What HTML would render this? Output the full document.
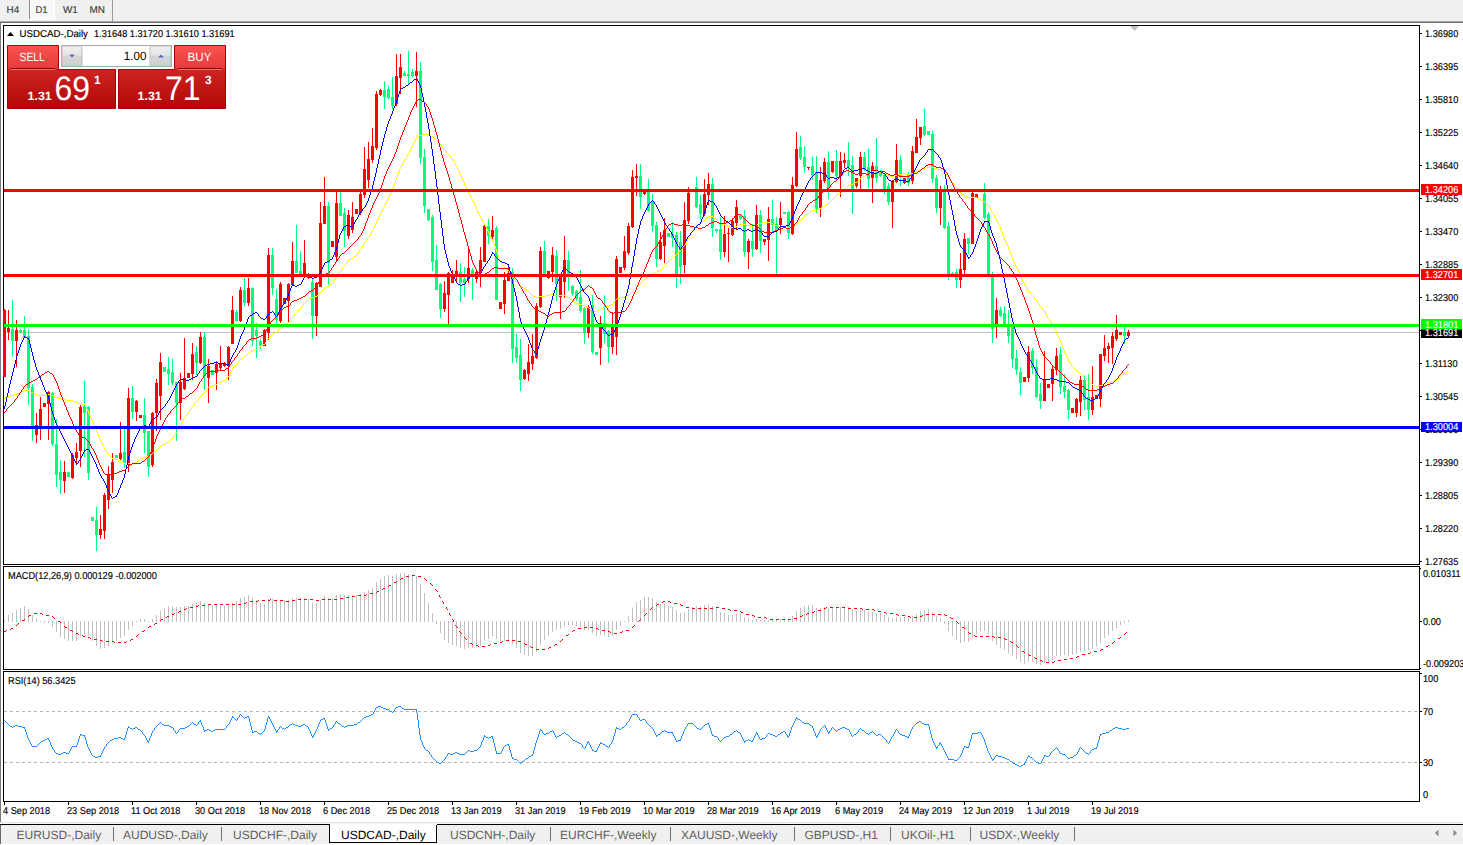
<!DOCTYPE html><html><head><meta charset="utf-8"><style>html,body{margin:0;padding:0;width:1463px;height:845px;overflow:hidden;background:#fff;position:relative}</style></head><body><svg width="1463" height="845" viewBox="0 0 1463 845" style="position:absolute;left:0;top:0" font-family="Liberation Sans, sans-serif" text-rendering="geometricPrecision">
<defs>
<pattern id="chk" width="2" height="2" patternUnits="userSpaceOnUse"><rect width="2" height="2" fill="#f4f4f4"/><rect width="1" height="1" fill="#fdfdfd"/><rect x="1" y="1" width="1" height="1" fill="#fdfdfd"/></pattern>
<linearGradient id="gtab" x1="0" y1="0" x2="0" y2="1"><stop offset="0" stop-color="#fb5252"/><stop offset="1" stop-color="#e83a3a"/></linearGradient>
<linearGradient id="gbox" x1="0" y1="0" x2="0" y2="1"><stop offset="0" stop-color="#e33333"/><stop offset="1" stop-color="#b00808"/></linearGradient>
<linearGradient id="gbtn" x1="0" y1="0" x2="0" y2="1"><stop offset="0" stop-color="#f0f0f0"/><stop offset="0.45" stop-color="#e6e6e6"/><stop offset="0.5" stop-color="#d6d6d6"/><stop offset="1" stop-color="#d0d0d0"/></linearGradient>
</defs>
<rect x="0" y="0" width="1463" height="845" fill="#ffffff"/>
<rect x="0" y="0" width="1463" height="21" fill="#f0f0f0"/>
<rect x="0" y="21" width="1463" height="1" fill="#a9a9a9"/>
<rect x="0" y="22" width="1463" height="1" fill="#6e6e6e"/>
<rect x="30" y="0" width="24" height="19" fill="url(#chk)"/>
<rect x="54" y="0" width="1" height="20" fill="#ffffff"/>
<rect x="30" y="19" width="25" height="1" fill="#ffffff"/>
<rect x="29" y="0" width="1" height="19" fill="#8a8a8a"/>
<rect x="112" y="0" width="1" height="21" fill="#9a9a9a"/>
<g shape-rendering="geometricPrecision">
<text x="6.5" y="13" font-size="10" textLength="12.66" lengthAdjust="spacingAndGlyphs" fill="#404040" stroke="#404040" stroke-width="0.15" text-anchor="start" >H4</text>
<text x="35.5" y="13" font-size="10" textLength="12.14" lengthAdjust="spacingAndGlyphs" fill="#404040" stroke="#404040" stroke-width="0.15" text-anchor="start" >D1</text>
<text x="63" y="13" font-size="10" textLength="14.85" lengthAdjust="spacingAndGlyphs" fill="#404040" stroke="#404040" stroke-width="0.15" text-anchor="start" >W1</text>
<text x="89.5" y="13" font-size="10" textLength="15.40" lengthAdjust="spacingAndGlyphs" fill="#404040" stroke="#404040" stroke-width="0.15" text-anchor="start" >MN</text>
</g>
<rect x="0" y="23" width="1" height="799" fill="#7a7a7a"/>
<g shape-rendering="crispEdges">
<rect x="3" y="25" width="1417" height="1" fill="#000"/>
<rect x="3" y="564" width="1417" height="1" fill="#000"/>
<rect x="3" y="25" width="1" height="540" fill="#000"/>
<rect x="1419" y="25" width="1" height="540" fill="#000"/>
<rect x="3" y="566" width="1417" height="1" fill="#000"/>
<rect x="3" y="669" width="1417" height="1" fill="#000"/>
<rect x="3" y="566" width="1" height="104" fill="#000"/>
<rect x="1419" y="566" width="1" height="104" fill="#000"/>
<rect x="3" y="671" width="1417" height="1" fill="#000"/>
<rect x="3" y="801" width="1417" height="1" fill="#000"/>
<rect x="3" y="671" width="1" height="131" fill="#000"/>
<rect x="1419" y="671" width="1" height="131" fill="#000"/>
<rect x="1420" y="33" width="2" height="1" fill="#000"/>
<rect x="1420" y="66" width="2" height="1" fill="#000"/>
<rect x="1420" y="99" width="2" height="1" fill="#000"/>
<rect x="1420" y="132" width="2" height="1" fill="#000"/>
<rect x="1420" y="165" width="2" height="1" fill="#000"/>
<rect x="1420" y="198" width="2" height="1" fill="#000"/>
<rect x="1420" y="231" width="2" height="1" fill="#000"/>
<rect x="1420" y="264" width="2" height="1" fill="#000"/>
<rect x="1420" y="297" width="2" height="1" fill="#000"/>
<rect x="1420" y="330" width="2" height="1" fill="#000"/>
<rect x="1420" y="363" width="2" height="1" fill="#000"/>
<rect x="1420" y="396" width="2" height="1" fill="#000"/>
<rect x="1420" y="429" width="2" height="1" fill="#000"/>
<rect x="1420" y="462" width="2" height="1" fill="#000"/>
<rect x="1420" y="495" width="2" height="1" fill="#000"/>
<rect x="1420" y="528" width="2" height="1" fill="#000"/>
<rect x="1420" y="561" width="2" height="1" fill="#000"/>
<rect x="1420" y="568" width="1" height="1" fill="#000"/>
<rect x="1420" y="621" width="2" height="1" fill="#000"/>
<rect x="1420" y="668" width="1" height="1" fill="#000"/>
<rect x="1420" y="673" width="2" height="1" fill="#000"/>
<rect x="1420" y="711" width="2" height="1" fill="#000"/>
<rect x="1420" y="762" width="2" height="1" fill="#000"/>
<rect x="4" y="802" width="1" height="3" fill="#000"/>
<rect x="68" y="802" width="1" height="3" fill="#000"/>
<rect x="132" y="802" width="1" height="3" fill="#000"/>
<rect x="196" y="802" width="1" height="3" fill="#000"/>
<rect x="260" y="802" width="1" height="3" fill="#000"/>
<rect x="324" y="802" width="1" height="3" fill="#000"/>
<rect x="388" y="802" width="1" height="3" fill="#000"/>
<rect x="452" y="802" width="1" height="3" fill="#000"/>
<rect x="516" y="802" width="1" height="3" fill="#000"/>
<rect x="580" y="802" width="1" height="3" fill="#000"/>
<rect x="644" y="802" width="1" height="3" fill="#000"/>
<rect x="708" y="802" width="1" height="3" fill="#000"/>
<rect x="772" y="802" width="1" height="3" fill="#000"/>
<rect x="836" y="802" width="1" height="3" fill="#000"/>
<rect x="900" y="802" width="1" height="3" fill="#000"/>
<rect x="964" y="802" width="1" height="3" fill="#000"/>
<rect x="1028" y="802" width="1" height="3" fill="#000"/>
<rect x="1092" y="802" width="1" height="3" fill="#000"/>
<line x1="4" y1="711.5" x2="1419" y2="711.5" stroke="#b4b4b4" stroke-width="1" stroke-dasharray="3 3"/>
<line x1="4" y1="762.5" x2="1419" y2="762.5" stroke="#b4b4b4" stroke-width="1" stroke-dasharray="3 3"/>
<rect x="4" y="332" width="1415" height="1" fill="#c0c0c0"/>
<rect x="4" y="309" width="1" height="68" fill="#ff0000"/>
<rect x="3" y="310" width="3" height="67" fill="#ff0000"/>
<rect x="8" y="310" width="1" height="30" fill="#ff0000"/>
<rect x="7" y="328" width="3" height="4" fill="#ff0000"/>
<rect x="12" y="300" width="1" height="57" fill="#00ff7f"/>
<rect x="11" y="329" width="3" height="12" fill="#00ff7f"/>
<rect x="16" y="320" width="1" height="47" fill="#ff0000"/>
<rect x="15" y="330" width="3" height="11" fill="#ff0000"/>
<rect x="20" y="329" width="1" height="4" fill="#00ff7f"/>
<rect x="19" y="330" width="3" height="3" fill="#00ff7f"/>
<rect x="24" y="316" width="1" height="22" fill="#00ff7f"/>
<rect x="23" y="330" width="3" height="8" fill="#00ff7f"/>
<rect x="28" y="329" width="1" height="76" fill="#00ff7f"/>
<rect x="27" y="336" width="3" height="52" fill="#00ff7f"/>
<rect x="32" y="384" width="1" height="57" fill="#00ff7f"/>
<rect x="31" y="387" width="3" height="39" fill="#00ff7f"/>
<rect x="36" y="413" width="1" height="30" fill="#ff0000"/>
<rect x="35" y="425" width="3" height="10" fill="#ff0000"/>
<rect x="40" y="397" width="1" height="43" fill="#ff0000"/>
<rect x="39" y="409" width="3" height="17" fill="#ff0000"/>
<rect x="44" y="403" width="1" height="4" fill="#ff0000"/>
<rect x="43" y="403" width="3" height="4" fill="#ff0000"/>
<rect x="48" y="391" width="1" height="49" fill="#ff0000"/>
<rect x="47" y="392" width="3" height="12" fill="#ff0000"/>
<rect x="52" y="392" width="1" height="54" fill="#00ff7f"/>
<rect x="51" y="393" width="3" height="51" fill="#00ff7f"/>
<rect x="56" y="419" width="1" height="68" fill="#00ff7f"/>
<rect x="55" y="444" width="3" height="31" fill="#00ff7f"/>
<rect x="60" y="460" width="1" height="34" fill="#00ff7f"/>
<rect x="59" y="472" width="3" height="8" fill="#00ff7f"/>
<rect x="64" y="461" width="1" height="32" fill="#ff0000"/>
<rect x="63" y="472" width="3" height="9" fill="#ff0000"/>
<rect x="68" y="472" width="1" height="5" fill="#00ff7f"/>
<rect x="67" y="472" width="3" height="5" fill="#00ff7f"/>
<rect x="72" y="453" width="1" height="26" fill="#ff0000"/>
<rect x="71" y="455" width="3" height="23" fill="#ff0000"/>
<rect x="76" y="443" width="1" height="22" fill="#ff0000"/>
<rect x="75" y="452" width="3" height="6" fill="#ff0000"/>
<rect x="80" y="405" width="1" height="62" fill="#ff0000"/>
<rect x="79" y="407" width="3" height="44" fill="#ff0000"/>
<rect x="84" y="381" width="1" height="76" fill="#00ff7f"/>
<rect x="83" y="406" width="3" height="7" fill="#00ff7f"/>
<rect x="88" y="406" width="1" height="74" fill="#00ff7f"/>
<rect x="87" y="407" width="3" height="66" fill="#00ff7f"/>
<rect x="92" y="517" width="1" height="4" fill="#00ff7f"/>
<rect x="91" y="517" width="3" height="4" fill="#00ff7f"/>
<rect x="96" y="507" width="1" height="44" fill="#00ff7f"/>
<rect x="95" y="520" width="3" height="15" fill="#00ff7f"/>
<rect x="100" y="515" width="1" height="24" fill="#ff0000"/>
<rect x="99" y="529" width="3" height="6" fill="#ff0000"/>
<rect x="104" y="493" width="1" height="46" fill="#ff0000"/>
<rect x="103" y="495" width="3" height="36" fill="#ff0000"/>
<rect x="108" y="466" width="1" height="43" fill="#ff0000"/>
<rect x="107" y="474" width="3" height="26" fill="#ff0000"/>
<rect x="112" y="453" width="1" height="40" fill="#ff0000"/>
<rect x="111" y="462" width="3" height="18" fill="#ff0000"/>
<rect x="116" y="455" width="1" height="3" fill="#00ff7f"/>
<rect x="115" y="455" width="3" height="3" fill="#00ff7f"/>
<rect x="120" y="422" width="1" height="38" fill="#ff0000"/>
<rect x="119" y="453" width="3" height="6" fill="#ff0000"/>
<rect x="124" y="428" width="1" height="40" fill="#00ff7f"/>
<rect x="123" y="452" width="3" height="11" fill="#00ff7f"/>
<rect x="128" y="388" width="1" height="84" fill="#ff0000"/>
<rect x="127" y="398" width="3" height="67" fill="#ff0000"/>
<rect x="132" y="386" width="1" height="33" fill="#00ff7f"/>
<rect x="131" y="398" width="3" height="14" fill="#00ff7f"/>
<rect x="136" y="400" width="1" height="21" fill="#ff0000"/>
<rect x="135" y="401" width="3" height="11" fill="#ff0000"/>
<rect x="140" y="415" width="1" height="3" fill="#ff0000"/>
<rect x="139" y="415" width="3" height="3" fill="#ff0000"/>
<rect x="144" y="398" width="1" height="55" fill="#00ff7f"/>
<rect x="143" y="415" width="3" height="18" fill="#00ff7f"/>
<rect x="148" y="431" width="1" height="46" fill="#00ff7f"/>
<rect x="147" y="431" width="3" height="36" fill="#00ff7f"/>
<rect x="152" y="412" width="1" height="55" fill="#ff0000"/>
<rect x="151" y="413" width="3" height="52" fill="#ff0000"/>
<rect x="156" y="379" width="1" height="52" fill="#ff0000"/>
<rect x="155" y="383" width="3" height="30" fill="#ff0000"/>
<rect x="160" y="353" width="1" height="67" fill="#ff0000"/>
<rect x="159" y="362" width="3" height="34" fill="#ff0000"/>
<rect x="164" y="367" width="1" height="5" fill="#00ff7f"/>
<rect x="163" y="367" width="3" height="5" fill="#00ff7f"/>
<rect x="168" y="357" width="1" height="28" fill="#00ff7f"/>
<rect x="167" y="369" width="3" height="5" fill="#00ff7f"/>
<rect x="172" y="359" width="1" height="26" fill="#00ff7f"/>
<rect x="171" y="372" width="3" height="11" fill="#00ff7f"/>
<rect x="176" y="382" width="1" height="59" fill="#00ff7f"/>
<rect x="175" y="382" width="3" height="21" fill="#00ff7f"/>
<rect x="180" y="373" width="1" height="47" fill="#ff0000"/>
<rect x="179" y="382" width="3" height="21" fill="#ff0000"/>
<rect x="184" y="338" width="1" height="52" fill="#ff0000"/>
<rect x="183" y="378" width="3" height="11" fill="#ff0000"/>
<rect x="188" y="373" width="1" height="5" fill="#ff0000"/>
<rect x="187" y="373" width="3" height="5" fill="#ff0000"/>
<rect x="192" y="343" width="1" height="37" fill="#ff0000"/>
<rect x="191" y="354" width="3" height="20" fill="#ff0000"/>
<rect x="196" y="346" width="1" height="29" fill="#00ff7f"/>
<rect x="195" y="352" width="3" height="11" fill="#00ff7f"/>
<rect x="200" y="332" width="1" height="32" fill="#ff0000"/>
<rect x="199" y="337" width="3" height="26" fill="#ff0000"/>
<rect x="204" y="332" width="1" height="58" fill="#00ff7f"/>
<rect x="203" y="337" width="3" height="39" fill="#00ff7f"/>
<rect x="208" y="359" width="1" height="44" fill="#ff0000"/>
<rect x="207" y="366" width="3" height="12" fill="#ff0000"/>
<rect x="212" y="370" width="1" height="5" fill="#00ff7f"/>
<rect x="211" y="370" width="3" height="5" fill="#00ff7f"/>
<rect x="216" y="361" width="1" height="29" fill="#ff0000"/>
<rect x="215" y="364" width="3" height="9" fill="#ff0000"/>
<rect x="220" y="346" width="1" height="24" fill="#ff0000"/>
<rect x="219" y="363" width="3" height="5" fill="#ff0000"/>
<rect x="224" y="362" width="1" height="5" fill="#ff0000"/>
<rect x="223" y="363" width="3" height="3" fill="#ff0000"/>
<rect x="228" y="346" width="1" height="34" fill="#ff0000"/>
<rect x="227" y="347" width="3" height="18" fill="#ff0000"/>
<rect x="232" y="296" width="1" height="48" fill="#ff0000"/>
<rect x="231" y="310" width="3" height="34" fill="#ff0000"/>
<rect x="236" y="310" width="1" height="12" fill="#00ff7f"/>
<rect x="235" y="312" width="3" height="9" fill="#00ff7f"/>
<rect x="240" y="287" width="1" height="35" fill="#ff0000"/>
<rect x="239" y="290" width="3" height="31" fill="#ff0000"/>
<rect x="244" y="278" width="1" height="28" fill="#00ff7f"/>
<rect x="243" y="290" width="3" height="13" fill="#00ff7f"/>
<rect x="248" y="278" width="1" height="28" fill="#ff0000"/>
<rect x="247" y="288" width="3" height="15" fill="#ff0000"/>
<rect x="252" y="287" width="1" height="59" fill="#00ff7f"/>
<rect x="251" y="288" width="3" height="53" fill="#00ff7f"/>
<rect x="256" y="323" width="1" height="35" fill="#00ff7f"/>
<rect x="255" y="330" width="3" height="6" fill="#00ff7f"/>
<rect x="260" y="339" width="1" height="10" fill="#00ff7f"/>
<rect x="259" y="341" width="3" height="5" fill="#00ff7f"/>
<rect x="264" y="329" width="1" height="17" fill="#ff0000"/>
<rect x="263" y="330" width="3" height="16" fill="#ff0000"/>
<rect x="268" y="248" width="1" height="92" fill="#ff0000"/>
<rect x="267" y="255" width="3" height="78" fill="#ff0000"/>
<rect x="272" y="248" width="1" height="47" fill="#00ff7f"/>
<rect x="271" y="255" width="3" height="33" fill="#00ff7f"/>
<rect x="276" y="289" width="1" height="34" fill="#00ff7f"/>
<rect x="275" y="299" width="3" height="21" fill="#00ff7f"/>
<rect x="280" y="282" width="1" height="41" fill="#ff0000"/>
<rect x="279" y="284" width="3" height="37" fill="#ff0000"/>
<rect x="284" y="298" width="1" height="6" fill="#ff0000"/>
<rect x="283" y="298" width="3" height="6" fill="#ff0000"/>
<rect x="288" y="283" width="1" height="40" fill="#ff0000"/>
<rect x="287" y="284" width="3" height="17" fill="#ff0000"/>
<rect x="292" y="242" width="1" height="43" fill="#ff0000"/>
<rect x="291" y="261" width="3" height="24" fill="#ff0000"/>
<rect x="296" y="225" width="1" height="48" fill="#00ff7f"/>
<rect x="295" y="261" width="3" height="12" fill="#00ff7f"/>
<rect x="300" y="251" width="1" height="23" fill="#00ff7f"/>
<rect x="299" y="271" width="3" height="3" fill="#00ff7f"/>
<rect x="304" y="240" width="1" height="34" fill="#ff0000"/>
<rect x="303" y="263" width="3" height="11" fill="#ff0000"/>
<rect x="308" y="273" width="1" height="6" fill="#ff0000"/>
<rect x="307" y="275" width="3" height="3" fill="#ff0000"/>
<rect x="312" y="279" width="1" height="60" fill="#00ff7f"/>
<rect x="311" y="282" width="3" height="34" fill="#00ff7f"/>
<rect x="316" y="282" width="1" height="54" fill="#ff0000"/>
<rect x="315" y="283" width="3" height="33" fill="#ff0000"/>
<rect x="320" y="202" width="1" height="85" fill="#ff0000"/>
<rect x="319" y="223" width="3" height="64" fill="#ff0000"/>
<rect x="324" y="177" width="1" height="47" fill="#ff0000"/>
<rect x="323" y="206" width="3" height="18" fill="#ff0000"/>
<rect x="328" y="202" width="1" height="83" fill="#00ff7f"/>
<rect x="327" y="206" width="3" height="57" fill="#00ff7f"/>
<rect x="332" y="241" width="1" height="6" fill="#ff0000"/>
<rect x="331" y="241" width="3" height="6" fill="#ff0000"/>
<rect x="336" y="192" width="1" height="69" fill="#ff0000"/>
<rect x="335" y="203" width="3" height="54" fill="#ff0000"/>
<rect x="340" y="189" width="1" height="27" fill="#00ff7f"/>
<rect x="339" y="203" width="3" height="13" fill="#00ff7f"/>
<rect x="344" y="208" width="1" height="39" fill="#00ff7f"/>
<rect x="343" y="213" width="3" height="18" fill="#00ff7f"/>
<rect x="348" y="210" width="1" height="29" fill="#ff0000"/>
<rect x="347" y="215" width="3" height="21" fill="#ff0000"/>
<rect x="352" y="202" width="1" height="31" fill="#ff0000"/>
<rect x="351" y="217" width="3" height="13" fill="#ff0000"/>
<rect x="356" y="209" width="1" height="5" fill="#ff0000"/>
<rect x="355" y="209" width="3" height="5" fill="#ff0000"/>
<rect x="360" y="192" width="1" height="23" fill="#ff0000"/>
<rect x="359" y="194" width="3" height="19" fill="#ff0000"/>
<rect x="364" y="147" width="1" height="51" fill="#ff0000"/>
<rect x="363" y="169" width="3" height="26" fill="#ff0000"/>
<rect x="368" y="142" width="1" height="46" fill="#ff0000"/>
<rect x="367" y="159" width="3" height="21" fill="#ff0000"/>
<rect x="372" y="128" width="1" height="35" fill="#ff0000"/>
<rect x="371" y="146" width="3" height="14" fill="#ff0000"/>
<rect x="376" y="91" width="1" height="59" fill="#ff0000"/>
<rect x="375" y="94" width="3" height="54" fill="#ff0000"/>
<rect x="380" y="89" width="1" height="7" fill="#ff0000"/>
<rect x="379" y="90" width="3" height="5" fill="#ff0000"/>
<rect x="384" y="81" width="1" height="28" fill="#00ff7f"/>
<rect x="383" y="90" width="3" height="7" fill="#00ff7f"/>
<rect x="388" y="86" width="1" height="13" fill="#00ff7f"/>
<rect x="387" y="89" width="3" height="9" fill="#00ff7f"/>
<rect x="392" y="77" width="1" height="32" fill="#00ff7f"/>
<rect x="391" y="97" width="3" height="9" fill="#00ff7f"/>
<rect x="396" y="54" width="1" height="52" fill="#ff0000"/>
<rect x="395" y="76" width="3" height="28" fill="#ff0000"/>
<rect x="400" y="54" width="1" height="40" fill="#ff0000"/>
<rect x="399" y="67" width="3" height="11" fill="#ff0000"/>
<rect x="404" y="71" width="1" height="5" fill="#00ff7f"/>
<rect x="403" y="73" width="3" height="3" fill="#00ff7f"/>
<rect x="408" y="51" width="1" height="33" fill="#00ff7f"/>
<rect x="407" y="74" width="3" height="2" fill="#00ff7f"/>
<rect x="412" y="69" width="1" height="8" fill="#00ff7f"/>
<rect x="411" y="72" width="3" height="4" fill="#00ff7f"/>
<rect x="416" y="52" width="1" height="55" fill="#ff0000"/>
<rect x="415" y="71" width="3" height="5" fill="#ff0000"/>
<rect x="420" y="62" width="1" height="102" fill="#00ff7f"/>
<rect x="419" y="71" width="3" height="87" fill="#00ff7f"/>
<rect x="424" y="149" width="1" height="64" fill="#00ff7f"/>
<rect x="423" y="157" width="3" height="49" fill="#00ff7f"/>
<rect x="428" y="209" width="1" height="12" fill="#00ff7f"/>
<rect x="427" y="209" width="3" height="11" fill="#00ff7f"/>
<rect x="432" y="215" width="1" height="56" fill="#00ff7f"/>
<rect x="431" y="217" width="3" height="45" fill="#00ff7f"/>
<rect x="436" y="245" width="1" height="45" fill="#00ff7f"/>
<rect x="435" y="260" width="3" height="30" fill="#00ff7f"/>
<rect x="440" y="283" width="1" height="35" fill="#00ff7f"/>
<rect x="439" y="284" width="3" height="25" fill="#00ff7f"/>
<rect x="444" y="281" width="1" height="31" fill="#ff0000"/>
<rect x="443" y="293" width="3" height="16" fill="#ff0000"/>
<rect x="448" y="272" width="1" height="52" fill="#ff0000"/>
<rect x="447" y="273" width="3" height="22" fill="#ff0000"/>
<rect x="452" y="270" width="1" height="13" fill="#ff0000"/>
<rect x="451" y="276" width="3" height="7" fill="#ff0000"/>
<rect x="456" y="260" width="1" height="23" fill="#ff0000"/>
<rect x="455" y="271" width="3" height="6" fill="#ff0000"/>
<rect x="460" y="263" width="1" height="39" fill="#00ff7f"/>
<rect x="459" y="272" width="3" height="11" fill="#00ff7f"/>
<rect x="464" y="267" width="1" height="30" fill="#00ff7f"/>
<rect x="463" y="279" width="3" height="4" fill="#00ff7f"/>
<rect x="468" y="248" width="1" height="35" fill="#ff0000"/>
<rect x="467" y="268" width="3" height="11" fill="#ff0000"/>
<rect x="472" y="268" width="1" height="32" fill="#00ff7f"/>
<rect x="471" y="270" width="3" height="6" fill="#00ff7f"/>
<rect x="476" y="271" width="1" height="12" fill="#ff0000"/>
<rect x="475" y="272" width="3" height="7" fill="#ff0000"/>
<rect x="480" y="247" width="1" height="40" fill="#ff0000"/>
<rect x="479" y="260" width="3" height="13" fill="#ff0000"/>
<rect x="484" y="225" width="1" height="37" fill="#ff0000"/>
<rect x="483" y="226" width="3" height="36" fill="#ff0000"/>
<rect x="488" y="219" width="1" height="25" fill="#00ff7f"/>
<rect x="487" y="226" width="3" height="10" fill="#00ff7f"/>
<rect x="492" y="216" width="1" height="23" fill="#ff0000"/>
<rect x="491" y="230" width="3" height="7" fill="#ff0000"/>
<rect x="496" y="226" width="1" height="74" fill="#00ff7f"/>
<rect x="495" y="228" width="3" height="72" fill="#00ff7f"/>
<rect x="500" y="302" width="1" height="7" fill="#ff0000"/>
<rect x="499" y="302" width="3" height="7" fill="#ff0000"/>
<rect x="504" y="272" width="1" height="42" fill="#ff0000"/>
<rect x="503" y="280" width="3" height="24" fill="#ff0000"/>
<rect x="508" y="267" width="1" height="14" fill="#ff0000"/>
<rect x="507" y="273" width="3" height="8" fill="#ff0000"/>
<rect x="512" y="268" width="1" height="95" fill="#00ff7f"/>
<rect x="511" y="272" width="3" height="77" fill="#00ff7f"/>
<rect x="516" y="334" width="1" height="29" fill="#00ff7f"/>
<rect x="515" y="347" width="3" height="11" fill="#00ff7f"/>
<rect x="520" y="339" width="1" height="52" fill="#00ff7f"/>
<rect x="519" y="355" width="3" height="25" fill="#00ff7f"/>
<rect x="524" y="369" width="1" height="11" fill="#ff0000"/>
<rect x="523" y="370" width="3" height="9" fill="#ff0000"/>
<rect x="528" y="344" width="1" height="37" fill="#ff0000"/>
<rect x="527" y="362" width="3" height="12" fill="#ff0000"/>
<rect x="532" y="334" width="1" height="36" fill="#ff0000"/>
<rect x="531" y="356" width="3" height="8" fill="#ff0000"/>
<rect x="536" y="303" width="1" height="56" fill="#ff0000"/>
<rect x="535" y="306" width="3" height="52" fill="#ff0000"/>
<rect x="540" y="247" width="1" height="61" fill="#ff0000"/>
<rect x="539" y="251" width="3" height="56" fill="#ff0000"/>
<rect x="544" y="241" width="1" height="36" fill="#00ff7f"/>
<rect x="543" y="251" width="3" height="25" fill="#00ff7f"/>
<rect x="548" y="271" width="1" height="8" fill="#ff0000"/>
<rect x="547" y="271" width="3" height="7" fill="#ff0000"/>
<rect x="552" y="247" width="1" height="35" fill="#ff0000"/>
<rect x="551" y="255" width="3" height="17" fill="#ff0000"/>
<rect x="556" y="250" width="1" height="51" fill="#00ff7f"/>
<rect x="555" y="256" width="3" height="28" fill="#00ff7f"/>
<rect x="560" y="277" width="1" height="42" fill="#ff0000"/>
<rect x="559" y="277" width="3" height="20" fill="#ff0000"/>
<rect x="564" y="236" width="1" height="62" fill="#ff0000"/>
<rect x="563" y="260" width="3" height="22" fill="#ff0000"/>
<rect x="568" y="251" width="1" height="40" fill="#00ff7f"/>
<rect x="567" y="260" width="3" height="16" fill="#00ff7f"/>
<rect x="572" y="285" width="1" height="11" fill="#00ff7f"/>
<rect x="571" y="286" width="3" height="8" fill="#00ff7f"/>
<rect x="576" y="290" width="1" height="11" fill="#00ff7f"/>
<rect x="575" y="291" width="3" height="8" fill="#00ff7f"/>
<rect x="580" y="270" width="1" height="43" fill="#00ff7f"/>
<rect x="579" y="297" width="3" height="14" fill="#00ff7f"/>
<rect x="584" y="307" width="1" height="37" fill="#00ff7f"/>
<rect x="583" y="308" width="3" height="25" fill="#00ff7f"/>
<rect x="588" y="305" width="1" height="33" fill="#ff0000"/>
<rect x="587" y="307" width="3" height="26" fill="#ff0000"/>
<rect x="592" y="295" width="1" height="59" fill="#00ff7f"/>
<rect x="591" y="305" width="3" height="47" fill="#00ff7f"/>
<rect x="596" y="352" width="1" height="3" fill="#00ff7f"/>
<rect x="595" y="352" width="3" height="3" fill="#00ff7f"/>
<rect x="600" y="316" width="1" height="49" fill="#ff0000"/>
<rect x="599" y="323" width="3" height="25" fill="#ff0000"/>
<rect x="604" y="295" width="1" height="48" fill="#00ff7f"/>
<rect x="603" y="323" width="3" height="11" fill="#00ff7f"/>
<rect x="608" y="330" width="1" height="33" fill="#00ff7f"/>
<rect x="607" y="331" width="3" height="16" fill="#00ff7f"/>
<rect x="612" y="312" width="1" height="42" fill="#ff0000"/>
<rect x="611" y="325" width="3" height="22" fill="#ff0000"/>
<rect x="616" y="256" width="1" height="99" fill="#ff0000"/>
<rect x="615" y="259" width="3" height="78" fill="#ff0000"/>
<rect x="620" y="267" width="1" height="6" fill="#ff0000"/>
<rect x="619" y="267" width="3" height="6" fill="#ff0000"/>
<rect x="624" y="236" width="1" height="34" fill="#ff0000"/>
<rect x="623" y="251" width="3" height="17" fill="#ff0000"/>
<rect x="628" y="223" width="1" height="32" fill="#ff0000"/>
<rect x="627" y="226" width="3" height="27" fill="#ff0000"/>
<rect x="632" y="170" width="1" height="58" fill="#ff0000"/>
<rect x="631" y="177" width="3" height="50" fill="#ff0000"/>
<rect x="636" y="164" width="1" height="32" fill="#ff0000"/>
<rect x="635" y="176" width="3" height="2" fill="#ff0000"/>
<rect x="640" y="164" width="1" height="45" fill="#00ff7f"/>
<rect x="639" y="176" width="3" height="21" fill="#00ff7f"/>
<rect x="644" y="189" width="1" height="6" fill="#ff0000"/>
<rect x="643" y="192" width="3" height="2" fill="#ff0000"/>
<rect x="648" y="179" width="1" height="33" fill="#00ff7f"/>
<rect x="647" y="192" width="3" height="19" fill="#00ff7f"/>
<rect x="652" y="194" width="1" height="38" fill="#00ff7f"/>
<rect x="651" y="201" width="3" height="25" fill="#00ff7f"/>
<rect x="656" y="222" width="1" height="45" fill="#00ff7f"/>
<rect x="655" y="225" width="3" height="34" fill="#00ff7f"/>
<rect x="660" y="232" width="1" height="28" fill="#ff0000"/>
<rect x="659" y="242" width="3" height="17" fill="#ff0000"/>
<rect x="664" y="218" width="1" height="45" fill="#ff0000"/>
<rect x="663" y="230" width="3" height="16" fill="#ff0000"/>
<rect x="668" y="233" width="1" height="4" fill="#00ff7f"/>
<rect x="667" y="233" width="3" height="4" fill="#00ff7f"/>
<rect x="672" y="222" width="1" height="25" fill="#00ff7f"/>
<rect x="671" y="234" width="3" height="4" fill="#00ff7f"/>
<rect x="676" y="232" width="1" height="56" fill="#00ff7f"/>
<rect x="675" y="235" width="3" height="39" fill="#00ff7f"/>
<rect x="680" y="231" width="1" height="53" fill="#00ff7f"/>
<rect x="679" y="242" width="3" height="25" fill="#00ff7f"/>
<rect x="684" y="202" width="1" height="71" fill="#ff0000"/>
<rect x="683" y="220" width="3" height="45" fill="#ff0000"/>
<rect x="688" y="187" width="1" height="37" fill="#ff0000"/>
<rect x="687" y="193" width="3" height="28" fill="#ff0000"/>
<rect x="692" y="189" width="1" height="3" fill="#ff0000"/>
<rect x="691" y="190" width="3" height="1" fill="#ff0000"/>
<rect x="696" y="177" width="1" height="31" fill="#00ff7f"/>
<rect x="695" y="187" width="3" height="20" fill="#00ff7f"/>
<rect x="700" y="195" width="1" height="24" fill="#00ff7f"/>
<rect x="699" y="204" width="3" height="10" fill="#00ff7f"/>
<rect x="704" y="179" width="1" height="37" fill="#ff0000"/>
<rect x="703" y="194" width="3" height="20" fill="#ff0000"/>
<rect x="708" y="173" width="1" height="32" fill="#ff0000"/>
<rect x="707" y="184" width="3" height="11" fill="#ff0000"/>
<rect x="712" y="178" width="1" height="59" fill="#00ff7f"/>
<rect x="711" y="184" width="3" height="44" fill="#00ff7f"/>
<rect x="716" y="229" width="1" height="4" fill="#00ff7f"/>
<rect x="715" y="229" width="3" height="2" fill="#00ff7f"/>
<rect x="720" y="217" width="1" height="43" fill="#00ff7f"/>
<rect x="719" y="229" width="3" height="23" fill="#00ff7f"/>
<rect x="724" y="216" width="1" height="41" fill="#ff0000"/>
<rect x="723" y="234" width="3" height="18" fill="#ff0000"/>
<rect x="728" y="228" width="1" height="34" fill="#ff0000"/>
<rect x="727" y="233" width="3" height="1" fill="#ff0000"/>
<rect x="732" y="218" width="1" height="18" fill="#ff0000"/>
<rect x="731" y="221" width="3" height="14" fill="#ff0000"/>
<rect x="736" y="200" width="1" height="30" fill="#ff0000"/>
<rect x="735" y="207" width="3" height="16" fill="#ff0000"/>
<rect x="740" y="215" width="1" height="5" fill="#00ff7f"/>
<rect x="739" y="216" width="3" height="3" fill="#00ff7f"/>
<rect x="744" y="210" width="1" height="47" fill="#00ff7f"/>
<rect x="743" y="216" width="3" height="36" fill="#00ff7f"/>
<rect x="748" y="239" width="1" height="30" fill="#ff0000"/>
<rect x="747" y="241" width="3" height="11" fill="#ff0000"/>
<rect x="752" y="224" width="1" height="33" fill="#00ff7f"/>
<rect x="751" y="241" width="3" height="8" fill="#00ff7f"/>
<rect x="756" y="205" width="1" height="45" fill="#ff0000"/>
<rect x="755" y="215" width="3" height="34" fill="#ff0000"/>
<rect x="760" y="210" width="1" height="43" fill="#00ff7f"/>
<rect x="759" y="215" width="3" height="26" fill="#00ff7f"/>
<rect x="764" y="239" width="1" height="6" fill="#ff0000"/>
<rect x="763" y="239" width="3" height="3" fill="#ff0000"/>
<rect x="768" y="207" width="1" height="54" fill="#ff0000"/>
<rect x="767" y="219" width="3" height="21" fill="#ff0000"/>
<rect x="772" y="200" width="1" height="32" fill="#00ff7f"/>
<rect x="771" y="219" width="3" height="6" fill="#00ff7f"/>
<rect x="776" y="217" width="1" height="58" fill="#00ff7f"/>
<rect x="775" y="224" width="3" height="6" fill="#00ff7f"/>
<rect x="780" y="202" width="1" height="32" fill="#ff0000"/>
<rect x="779" y="218" width="3" height="7" fill="#ff0000"/>
<rect x="784" y="212" width="1" height="2" fill="#00ff7f"/>
<rect x="783" y="212" width="3" height="2" fill="#00ff7f"/>
<rect x="788" y="211" width="1" height="28" fill="#00ff7f"/>
<rect x="787" y="212" width="3" height="21" fill="#00ff7f"/>
<rect x="792" y="177" width="1" height="58" fill="#ff0000"/>
<rect x="791" y="185" width="3" height="49" fill="#ff0000"/>
<rect x="796" y="132" width="1" height="55" fill="#ff0000"/>
<rect x="795" y="149" width="3" height="37" fill="#ff0000"/>
<rect x="800" y="136" width="1" height="24" fill="#00ff7f"/>
<rect x="799" y="147" width="3" height="11" fill="#00ff7f"/>
<rect x="804" y="146" width="1" height="27" fill="#00ff7f"/>
<rect x="803" y="157" width="3" height="10" fill="#00ff7f"/>
<rect x="808" y="167" width="1" height="3" fill="#ff0000"/>
<rect x="807" y="167" width="3" height="1" fill="#ff0000"/>
<rect x="812" y="157" width="1" height="23" fill="#00ff7f"/>
<rect x="811" y="166" width="3" height="9" fill="#00ff7f"/>
<rect x="816" y="156" width="1" height="57" fill="#00ff7f"/>
<rect x="815" y="172" width="3" height="37" fill="#00ff7f"/>
<rect x="820" y="167" width="1" height="50" fill="#ff0000"/>
<rect x="819" y="180" width="3" height="28" fill="#ff0000"/>
<rect x="824" y="158" width="1" height="25" fill="#ff0000"/>
<rect x="823" y="162" width="3" height="19" fill="#ff0000"/>
<rect x="828" y="151" width="1" height="48" fill="#00ff7f"/>
<rect x="827" y="162" width="3" height="26" fill="#00ff7f"/>
<rect x="832" y="161" width="1" height="12" fill="#ff0000"/>
<rect x="831" y="161" width="3" height="11" fill="#ff0000"/>
<rect x="836" y="150" width="1" height="31" fill="#00ff7f"/>
<rect x="835" y="161" width="3" height="15" fill="#00ff7f"/>
<rect x="840" y="152" width="1" height="45" fill="#ff0000"/>
<rect x="839" y="161" width="3" height="15" fill="#ff0000"/>
<rect x="844" y="153" width="1" height="15" fill="#ff0000"/>
<rect x="843" y="160" width="3" height="3" fill="#ff0000"/>
<rect x="848" y="142" width="1" height="34" fill="#00ff7f"/>
<rect x="847" y="160" width="3" height="7" fill="#00ff7f"/>
<rect x="852" y="156" width="1" height="58" fill="#00ff7f"/>
<rect x="851" y="165" width="3" height="24" fill="#00ff7f"/>
<rect x="856" y="178" width="1" height="10" fill="#ff0000"/>
<rect x="855" y="178" width="3" height="8" fill="#ff0000"/>
<rect x="860" y="152" width="1" height="38" fill="#ff0000"/>
<rect x="859" y="157" width="3" height="19" fill="#ff0000"/>
<rect x="864" y="152" width="1" height="19" fill="#00ff7f"/>
<rect x="863" y="157" width="3" height="12" fill="#00ff7f"/>
<rect x="868" y="149" width="1" height="39" fill="#00ff7f"/>
<rect x="867" y="167" width="3" height="12" fill="#00ff7f"/>
<rect x="872" y="162" width="1" height="41" fill="#ff0000"/>
<rect x="871" y="166" width="3" height="12" fill="#ff0000"/>
<rect x="876" y="138" width="1" height="45" fill="#00ff7f"/>
<rect x="875" y="166" width="3" height="12" fill="#00ff7f"/>
<rect x="880" y="170" width="1" height="7" fill="#00ff7f"/>
<rect x="879" y="171" width="3" height="5" fill="#00ff7f"/>
<rect x="884" y="174" width="1" height="20" fill="#00ff7f"/>
<rect x="883" y="175" width="3" height="14" fill="#00ff7f"/>
<rect x="888" y="183" width="1" height="22" fill="#00ff7f"/>
<rect x="887" y="186" width="3" height="16" fill="#00ff7f"/>
<rect x="892" y="180" width="1" height="48" fill="#ff0000"/>
<rect x="891" y="181" width="3" height="21" fill="#ff0000"/>
<rect x="896" y="144" width="1" height="39" fill="#ff0000"/>
<rect x="895" y="160" width="3" height="22" fill="#ff0000"/>
<rect x="900" y="155" width="1" height="31" fill="#00ff7f"/>
<rect x="899" y="160" width="3" height="16" fill="#00ff7f"/>
<rect x="904" y="178" width="1" height="6" fill="#ff0000"/>
<rect x="903" y="178" width="3" height="5" fill="#ff0000"/>
<rect x="908" y="172" width="1" height="14" fill="#00ff7f"/>
<rect x="907" y="175" width="3" height="8" fill="#00ff7f"/>
<rect x="912" y="146" width="1" height="38" fill="#ff0000"/>
<rect x="911" y="151" width="3" height="30" fill="#ff0000"/>
<rect x="916" y="119" width="1" height="34" fill="#ff0000"/>
<rect x="915" y="137" width="3" height="16" fill="#ff0000"/>
<rect x="920" y="127" width="1" height="18" fill="#ff0000"/>
<rect x="919" y="127" width="3" height="11" fill="#ff0000"/>
<rect x="924" y="109" width="1" height="27" fill="#00ff7f"/>
<rect x="923" y="126" width="3" height="9" fill="#00ff7f"/>
<rect x="928" y="131" width="1" height="4" fill="#00ff7f"/>
<rect x="927" y="131" width="3" height="4" fill="#00ff7f"/>
<rect x="932" y="131" width="1" height="52" fill="#00ff7f"/>
<rect x="931" y="134" width="3" height="45" fill="#00ff7f"/>
<rect x="936" y="175" width="1" height="38" fill="#00ff7f"/>
<rect x="935" y="178" width="3" height="30" fill="#00ff7f"/>
<rect x="940" y="186" width="1" height="39" fill="#ff0000"/>
<rect x="939" y="190" width="3" height="18" fill="#ff0000"/>
<rect x="944" y="185" width="1" height="44" fill="#00ff7f"/>
<rect x="943" y="191" width="3" height="37" fill="#00ff7f"/>
<rect x="948" y="222" width="1" height="58" fill="#00ff7f"/>
<rect x="947" y="226" width="3" height="49" fill="#00ff7f"/>
<rect x="952" y="272" width="1" height="5" fill="#00ff7f"/>
<rect x="951" y="273" width="3" height="3" fill="#00ff7f"/>
<rect x="956" y="269" width="1" height="19" fill="#00ff7f"/>
<rect x="955" y="272" width="3" height="8" fill="#00ff7f"/>
<rect x="960" y="253" width="1" height="35" fill="#ff0000"/>
<rect x="959" y="269" width="3" height="11" fill="#ff0000"/>
<rect x="964" y="233" width="1" height="42" fill="#ff0000"/>
<rect x="963" y="239" width="3" height="31" fill="#ff0000"/>
<rect x="968" y="238" width="1" height="16" fill="#00ff7f"/>
<rect x="967" y="238" width="3" height="6" fill="#00ff7f"/>
<rect x="972" y="192" width="1" height="52" fill="#ff0000"/>
<rect x="971" y="193" width="3" height="51" fill="#ff0000"/>
<rect x="976" y="194" width="1" height="4" fill="#ff0000"/>
<rect x="975" y="194" width="3" height="4" fill="#ff0000"/>
<rect x="980" y="189" width="1" height="3" fill="#00ff7f"/>
<rect x="979" y="190" width="3" height="1" fill="#00ff7f"/>
<rect x="984" y="183" width="1" height="36" fill="#00ff7f"/>
<rect x="983" y="194" width="3" height="24" fill="#00ff7f"/>
<rect x="988" y="212" width="1" height="63" fill="#00ff7f"/>
<rect x="987" y="214" width="3" height="61" fill="#00ff7f"/>
<rect x="992" y="272" width="1" height="71" fill="#00ff7f"/>
<rect x="991" y="274" width="3" height="55" fill="#00ff7f"/>
<rect x="996" y="298" width="1" height="40" fill="#ff0000"/>
<rect x="995" y="310" width="3" height="14" fill="#ff0000"/>
<rect x="1000" y="307" width="1" height="10" fill="#00ff7f"/>
<rect x="999" y="310" width="3" height="6" fill="#00ff7f"/>
<rect x="1004" y="306" width="1" height="20" fill="#00ff7f"/>
<rect x="1003" y="313" width="3" height="11" fill="#00ff7f"/>
<rect x="1008" y="310" width="1" height="33" fill="#00ff7f"/>
<rect x="1007" y="325" width="3" height="11" fill="#00ff7f"/>
<rect x="1012" y="325" width="1" height="43" fill="#00ff7f"/>
<rect x="1011" y="325" width="3" height="34" fill="#00ff7f"/>
<rect x="1016" y="350" width="1" height="25" fill="#00ff7f"/>
<rect x="1015" y="358" width="3" height="12" fill="#00ff7f"/>
<rect x="1020" y="367" width="1" height="28" fill="#00ff7f"/>
<rect x="1019" y="372" width="3" height="11" fill="#00ff7f"/>
<rect x="1024" y="377" width="1" height="5" fill="#ff0000"/>
<rect x="1023" y="377" width="3" height="5" fill="#ff0000"/>
<rect x="1028" y="346" width="1" height="36" fill="#ff0000"/>
<rect x="1027" y="352" width="3" height="26" fill="#ff0000"/>
<rect x="1032" y="348" width="1" height="26" fill="#00ff7f"/>
<rect x="1031" y="351" width="3" height="17" fill="#00ff7f"/>
<rect x="1036" y="359" width="1" height="39" fill="#00ff7f"/>
<rect x="1035" y="367" width="3" height="30" fill="#00ff7f"/>
<rect x="1040" y="383" width="1" height="26" fill="#00ff7f"/>
<rect x="1039" y="394" width="3" height="7" fill="#00ff7f"/>
<rect x="1044" y="351" width="1" height="50" fill="#ff0000"/>
<rect x="1043" y="379" width="3" height="22" fill="#ff0000"/>
<rect x="1048" y="384" width="1" height="4" fill="#ff0000"/>
<rect x="1047" y="384" width="3" height="4" fill="#ff0000"/>
<rect x="1052" y="366" width="1" height="35" fill="#ff0000"/>
<rect x="1051" y="369" width="3" height="15" fill="#ff0000"/>
<rect x="1056" y="348" width="1" height="27" fill="#ff0000"/>
<rect x="1055" y="356" width="3" height="14" fill="#ff0000"/>
<rect x="1060" y="347" width="1" height="47" fill="#00ff7f"/>
<rect x="1059" y="354" width="3" height="33" fill="#00ff7f"/>
<rect x="1064" y="374" width="1" height="24" fill="#00ff7f"/>
<rect x="1063" y="386" width="3" height="6" fill="#00ff7f"/>
<rect x="1068" y="389" width="1" height="30" fill="#00ff7f"/>
<rect x="1067" y="390" width="3" height="20" fill="#00ff7f"/>
<rect x="1072" y="408" width="1" height="5" fill="#ff0000"/>
<rect x="1071" y="408" width="3" height="5" fill="#ff0000"/>
<rect x="1076" y="398" width="1" height="19" fill="#ff0000"/>
<rect x="1075" y="399" width="3" height="14" fill="#ff0000"/>
<rect x="1080" y="376" width="1" height="40" fill="#ff0000"/>
<rect x="1079" y="380" width="3" height="22" fill="#ff0000"/>
<rect x="1084" y="375" width="1" height="35" fill="#00ff7f"/>
<rect x="1083" y="380" width="3" height="20" fill="#00ff7f"/>
<rect x="1088" y="374" width="1" height="46" fill="#00ff7f"/>
<rect x="1087" y="397" width="3" height="13" fill="#00ff7f"/>
<rect x="1092" y="366" width="1" height="49" fill="#ff0000"/>
<rect x="1091" y="397" width="3" height="13" fill="#ff0000"/>
<rect x="1096" y="395" width="1" height="4" fill="#ff0000"/>
<rect x="1095" y="395" width="3" height="4" fill="#ff0000"/>
<rect x="1100" y="354" width="1" height="53" fill="#ff0000"/>
<rect x="1099" y="354" width="3" height="45" fill="#ff0000"/>
<rect x="1104" y="335" width="1" height="26" fill="#ff0000"/>
<rect x="1103" y="348" width="3" height="8" fill="#ff0000"/>
<rect x="1108" y="343" width="1" height="20" fill="#ff0000"/>
<rect x="1107" y="346" width="3" height="3" fill="#ff0000"/>
<rect x="1112" y="332" width="1" height="32" fill="#ff0000"/>
<rect x="1111" y="336" width="3" height="12" fill="#ff0000"/>
<rect x="1116" y="315" width="1" height="26" fill="#ff0000"/>
<rect x="1115" y="330" width="3" height="9" fill="#ff0000"/>
<rect x="1120" y="332" width="1" height="3" fill="#ff0000"/>
<rect x="1119" y="332" width="3" height="3" fill="#ff0000"/>
<rect x="1124" y="327" width="1" height="17" fill="#00ff7f"/>
<rect x="1123" y="332" width="3" height="4" fill="#00ff7f"/>
<rect x="1128" y="330" width="1" height="8" fill="#ff0000"/>
<rect x="1127" y="332" width="3" height="4" fill="#ff0000"/>
</g>
<path d="M4 398h1v1h-1zM5 397h1v1h-1zM6 397h1v1h-1zM7 396h1v1h-1zM8 396h1v1h-1zM9 396h1v1h-1zM10 395h1v1h-1zM11 395h1v1h-1zM12 395h1v1h-1zM13 395h1v1h-1zM14 394h1v1h-1zM15 394h1v1h-1zM16 394h1v1h-1zM17 393h1v1h-1zM18 393h1v1h-1zM19 392h1v1h-1zM20 392h1v1h-1zM21 391h1v1h-1zM22 391h1v1h-1zM23 390h1v1h-1zM24 390h1v1h-1zM25 390h1v1h-1zM26 390h1v1h-1zM27 390h1v1h-1zM28 390h1v1h-1zM29 391h1v1h-1zM30 391h1v1h-1zM31 392h1v1h-1zM32 392h1v1h-1zM33 393h1v1h-1zM34 393h1v1h-1zM35 394h1v1h-1zM36 394h1v1h-1zM37 394h1v1h-1zM38 395h1v1h-1zM39 395h1v1h-1zM40 395h1v1h-1zM41 395h1v1h-1zM42 395h1v1h-1zM43 395h1v1h-1zM44 395h1v1h-1zM45 395h1v1h-1zM46 394h1v1h-1zM47 394h1v1h-1zM48 394h1v1h-1zM49 394h1v1h-1zM50 395h1v1h-1zM51 395h1v1h-1zM52 395h1v1h-1zM53 396h1v1h-1zM54 396h1v1h-1zM55 397h1v1h-1zM56 397h1v1h-1zM57 397h1v1h-1zM58 398h1v1h-1zM59 398h1v1h-1zM60 398h1v1h-1zM61 398h1v1h-1zM62 399h1v1h-1zM63 399h1v1h-1zM64 399h1v1h-1zM65 399h1v1h-1zM66 400h1v1h-1zM67 400h1v1h-1zM68 400h1v1h-1zM69 400h1v1h-1zM70 400h1v1h-1zM71 400h1v1h-1zM72 400h1v1h-1zM73 401h1v1h-1zM74 401h1v1h-1zM75 402h1v1h-1zM76 402h1v1h-1zM77 402h1v1h-1zM78 403h1v1h-1zM79 403h1v1h-1zM80 403h1v1h-1zM81 403h1v1h-1zM82 404h1v1h-1zM83 404h1v1h-1zM84 404h1v1h-1zM85 405h1v2h-1zM86 407h1v2h-1zM87 409h1v2h-1zM88 411h1v3h-1zM89 414h1v2h-1zM90 416h1v2h-1zM91 418h1v2h-1zM92 420h1v3h-1zM93 423h1v2h-1zM94 425h1v2h-1zM95 427h1v2h-1zM96 429h1v3h-1zM97 432h1v2h-1zM98 434h1v3h-1zM99 437h1v2h-1zM100 439h1v2h-1zM101 441h1v2h-1zM102 443h1v2h-1zM103 445h1v2h-1zM104 447h1v2h-1zM105 449h1v2h-1zM106 451h1v1h-1zM107 452h1v2h-1zM108 454h1v1h-1zM109 455h1v1h-1zM110 456h1v1h-1zM111 457h1v1h-1zM112 458h1v1h-1zM113 458h1v1h-1zM114 459h1v1h-1zM115 459h1v1h-1zM116 459h1v1h-1zM117 459h1v1h-1zM118 460h1v1h-1zM119 460h1v1h-1zM120 460h1v1h-1zM121 461h1v1h-1zM122 462h1v1h-1zM123 462h1v1h-1zM124 463h1v1h-1zM125 463h1v1h-1zM126 463h1v1h-1zM127 463h1v1h-1zM128 463h1v1h-1zM129 463h1v1h-1zM130 464h1v1h-1zM131 464h1v1h-1zM132 464h1v1h-1zM133 463h1v1h-1zM134 463h1v1h-1zM135 462h1v1h-1zM136 462h1v1h-1zM137 461h1v1h-1zM138 460h1v1h-1zM139 460h1v1h-1zM140 459h1v1h-1zM141 458h1v1h-1zM142 458h1v1h-1zM143 457h1v1h-1zM144 457h1v1h-1zM145 457h1v1h-1zM146 456h1v1h-1zM147 456h1v1h-1zM148 456h1v1h-1zM149 455h1v1h-1zM150 454h1v1h-1zM151 454h1v1h-1zM152 453h1v1h-1zM153 452h1v1h-1zM154 451h1v1h-1zM155 451h1v1h-1zM156 450h1v1h-1zM157 449h1v1h-1zM158 448h1v1h-1zM159 447h1v1h-1zM160 446h1v1h-1zM161 445h1v1h-1zM162 445h1v1h-1zM163 444h1v1h-1zM164 444h1v1h-1zM165 443h1v1h-1zM166 443h1v1h-1zM167 442h1v1h-1zM168 442h1v1h-1zM169 441h1v1h-1zM170 440h1v1h-1zM171 439h1v1h-1zM172 438h1v1h-1zM173 436h1v2h-1zM174 435h1v1h-1zM175 433h1v2h-1zM176 432h1v1h-1zM177 430h1v2h-1zM178 428h1v2h-1zM179 426h1v2h-1zM180 425h1v1h-1zM181 423h1v2h-1zM182 421h1v2h-1zM183 419h1v2h-1zM184 418h1v1h-1zM185 416h1v2h-1zM186 415h1v1h-1zM187 413h1v2h-1zM188 412h1v1h-1zM189 410h1v2h-1zM190 409h1v1h-1zM191 407h1v2h-1zM192 406h1v1h-1zM193 405h1v1h-1zM194 403h1v2h-1zM195 402h1v1h-1zM196 401h1v1h-1zM197 400h1v1h-1zM198 398h1v2h-1zM199 397h1v1h-1zM200 396h1v1h-1zM201 395h1v1h-1zM202 394h1v1h-1zM203 393h1v1h-1zM204 392h1v1h-1zM205 391h1v1h-1zM206 389h1v2h-1zM207 388h1v1h-1zM208 387h1v1h-1zM209 387h1v1h-1zM210 386h1v1h-1zM211 386h1v1h-1zM212 386h1v1h-1zM213 385h1v1h-1zM214 385h1v1h-1zM215 384h1v1h-1zM216 384h1v1h-1zM217 383h1v1h-1zM218 383h1v1h-1zM219 382h1v1h-1zM220 382h1v1h-1zM221 381h1v1h-1zM222 381h1v1h-1zM223 380h1v1h-1zM224 380h1v1h-1zM225 379h1v1h-1zM226 378h1v1h-1zM227 377h1v1h-1zM228 376h1v1h-1zM229 374h1v2h-1zM230 372h1v2h-1zM231 370h1v2h-1zM232 368h1v2h-1zM233 367h1v1h-1zM234 366h1v1h-1zM235 365h1v1h-1zM236 364h1v1h-1zM237 363h1v1h-1zM238 361h1v2h-1zM239 360h1v1h-1zM240 359h1v1h-1zM241 358h1v1h-1zM242 358h1v1h-1zM243 357h1v1h-1zM244 357h1v1h-1zM245 356h1v1h-1zM246 355h1v1h-1zM247 354h1v1h-1zM248 353h1v1h-1zM249 352h1v1h-1zM250 352h1v1h-1zM251 351h1v1h-1zM252 351h1v1h-1zM253 350h1v1h-1zM254 350h1v1h-1zM255 349h1v1h-1zM256 349h1v1h-1zM257 348h1v1h-1zM258 347h1v1h-1zM259 347h1v1h-1zM260 346h1v1h-1zM261 345h1v1h-1zM262 345h1v1h-1zM263 344h1v1h-1zM264 344h1v1h-1zM265 342h1v2h-1zM266 341h1v1h-1zM267 339h1v2h-1zM268 338h1v1h-1zM269 337h1v1h-1zM270 336h1v1h-1zM271 335h1v1h-1zM272 334h1v1h-1zM273 333h1v1h-1zM274 333h1v1h-1zM275 332h1v1h-1zM276 332h1v1h-1zM277 331h1v1h-1zM278 330h1v1h-1zM279 329h1v1h-1zM280 328h1v1h-1zM281 327h1v1h-1zM282 327h1v1h-1zM283 326h1v1h-1zM284 326h1v1h-1zM285 325h1v1h-1zM286 324h1v1h-1zM287 323h1v1h-1zM288 322h1v1h-1zM289 321h1v1h-1zM290 319h1v2h-1zM291 318h1v1h-1zM292 317h1v1h-1zM293 316h1v1h-1zM294 314h1v2h-1zM295 313h1v1h-1zM296 312h1v1h-1zM297 311h1v1h-1zM298 310h1v1h-1zM299 309h1v1h-1zM300 308h1v1h-1zM301 307h1v1h-1zM302 305h1v2h-1zM303 304h1v1h-1zM304 303h1v1h-1zM305 302h1v1h-1zM306 301h1v1h-1zM307 300h1v1h-1zM308 299h1v1h-1zM309 298h1v1h-1zM310 298h1v1h-1zM311 297h1v1h-1zM312 297h1v1h-1zM313 297h1v1h-1zM314 296h1v1h-1zM315 296h1v1h-1zM316 296h1v1h-1zM317 295h1v1h-1zM318 294h1v1h-1zM319 293h1v1h-1zM320 292h1v1h-1zM321 291h1v1h-1zM322 290h1v1h-1zM323 289h1v1h-1zM324 288h1v1h-1zM325 287h1v1h-1zM326 287h1v1h-1zM327 286h1v1h-1zM328 286h1v1h-1zM329 285h1v1h-1zM330 284h1v1h-1zM331 284h1v1h-1zM332 283h1v1h-1zM333 281h1v2h-1zM334 280h1v1h-1zM335 278h1v2h-1zM336 277h1v1h-1zM337 275h1v2h-1zM338 274h1v1h-1zM339 272h1v2h-1zM340 271h1v1h-1zM341 270h1v1h-1zM342 268h1v2h-1zM343 267h1v1h-1zM344 266h1v1h-1zM345 264h1v2h-1zM346 263h1v1h-1zM347 261h1v2h-1zM348 260h1v1h-1zM349 259h1v1h-1zM350 259h1v1h-1zM351 258h1v1h-1zM352 258h1v1h-1zM353 257h1v1h-1zM354 256h1v1h-1zM355 256h1v1h-1zM356 255h1v1h-1zM357 253h1v2h-1zM358 252h1v1h-1zM359 250h1v2h-1zM360 249h1v1h-1zM361 247h1v2h-1zM362 246h1v1h-1zM363 244h1v2h-1zM364 243h1v1h-1zM365 241h1v2h-1zM366 240h1v1h-1zM367 238h1v2h-1zM368 237h1v1h-1zM369 235h1v2h-1zM370 233h1v2h-1zM371 231h1v2h-1zM372 230h1v1h-1zM373 228h1v2h-1zM374 226h1v2h-1zM375 224h1v2h-1zM376 221h1v3h-1zM377 219h1v2h-1zM378 217h1v2h-1zM379 215h1v2h-1zM380 213h1v2h-1zM381 211h1v2h-1zM382 209h1v2h-1zM383 207h1v2h-1zM384 205h1v2h-1zM385 203h1v2h-1zM386 201h1v2h-1zM387 199h1v2h-1zM388 197h1v2h-1zM389 195h1v2h-1zM390 193h1v2h-1zM391 191h1v2h-1zM392 188h1v3h-1zM393 185h1v3h-1zM394 183h1v2h-1zM395 180h1v3h-1zM396 177h1v3h-1zM397 174h1v3h-1zM398 172h1v2h-1zM399 169h1v3h-1zM400 167h1v2h-1zM401 165h1v2h-1zM402 163h1v2h-1zM403 161h1v2h-1zM404 160h1v1h-1zM405 158h1v2h-1zM406 157h1v1h-1zM407 155h1v2h-1zM408 153h1v2h-1zM409 151h1v2h-1zM410 149h1v2h-1zM411 147h1v2h-1zM412 145h1v2h-1zM413 143h1v2h-1zM414 141h1v2h-1zM415 139h1v2h-1zM416 137h1v2h-1zM417 136h1v1h-1zM418 136h1v1h-1zM419 135h1v1h-1zM420 135h1v1h-1zM421 135h1v1h-1zM422 134h1v1h-1zM423 134h1v1h-1zM424 134h1v1h-1zM425 134h1v1h-1zM426 134h1v1h-1zM427 134h1v1h-1zM428 134h1v1h-1zM429 135h1v1h-1zM430 135h1v1h-1zM431 136h1v1h-1zM432 136h1v1h-1zM433 137h1v1h-1zM434 138h1v1h-1zM435 138h1v1h-1zM436 139h1v1h-1zM437 140h1v1h-1zM438 141h1v2h-1zM439 143h1v1h-1zM440 144h1v1h-1zM441 145h1v1h-1zM442 146h1v2h-1zM443 148h1v1h-1zM444 149h1v1h-1zM445 150h1v1h-1zM446 151h1v2h-1zM447 153h1v1h-1zM448 154h1v1h-1zM449 155h1v1h-1zM450 156h1v2h-1zM451 158h1v1h-1zM452 159h1v1h-1zM453 160h1v2h-1zM454 162h1v1h-1zM455 163h1v2h-1zM456 165h1v2h-1zM457 167h1v2h-1zM458 169h1v2h-1zM459 171h1v2h-1zM460 173h1v3h-1zM461 176h1v2h-1zM462 178h1v2h-1zM463 180h1v2h-1zM464 182h1v3h-1zM465 185h1v2h-1zM466 187h1v2h-1zM467 189h1v2h-1zM468 191h1v2h-1zM469 193h1v2h-1zM470 195h1v2h-1zM471 197h1v2h-1zM472 199h1v2h-1zM473 201h1v2h-1zM474 203h1v2h-1zM475 205h1v2h-1zM476 207h1v3h-1zM477 210h1v2h-1zM478 212h1v2h-1zM479 214h1v2h-1zM480 216h1v2h-1zM481 218h1v2h-1zM482 220h1v2h-1zM483 222h1v2h-1zM484 224h1v1h-1zM485 225h1v2h-1zM486 227h1v2h-1zM487 229h1v2h-1zM488 231h1v2h-1zM489 233h1v2h-1zM490 235h1v2h-1zM491 237h1v2h-1zM492 239h1v2h-1zM493 241h1v3h-1zM494 244h1v2h-1zM495 246h1v3h-1zM496 249h1v3h-1zM497 252h1v3h-1zM498 255h1v2h-1zM499 257h1v3h-1zM500 260h1v2h-1zM501 262h1v2h-1zM502 264h1v1h-1zM503 265h1v2h-1zM504 267h1v1h-1zM505 268h1v1h-1zM506 269h1v1h-1zM507 269h1v1h-1zM508 270h1v1h-1zM509 271h1v2h-1zM510 273h1v1h-1zM511 274h1v2h-1zM512 276h1v1h-1zM513 277h1v1h-1zM514 278h1v2h-1zM515 280h1v1h-1zM516 281h1v1h-1zM517 282h1v1h-1zM518 283h1v1h-1zM519 284h1v1h-1zM520 285h1v1h-1zM521 286h1v1h-1zM522 287h1v1h-1zM523 287h1v1h-1zM524 288h1v1h-1zM525 289h1v1h-1zM526 290h1v1h-1zM527 290h1v1h-1zM528 291h1v1h-1zM529 292h1v1h-1zM530 293h1v1h-1zM531 294h1v1h-1zM532 295h1v1h-1zM533 296h1v1h-1zM534 296h1v1h-1zM535 297h1v1h-1zM536 297h1v1h-1zM537 297h1v1h-1zM538 296h1v1h-1zM539 296h1v1h-1zM540 296h1v1h-1zM541 296h1v1h-1zM542 296h1v1h-1zM543 296h1v1h-1zM544 296h1v1h-1zM545 296h1v1h-1zM546 295h1v1h-1zM547 295h1v1h-1zM548 295h1v1h-1zM549 295h1v1h-1zM550 294h1v1h-1zM551 294h1v1h-1zM552 294h1v1h-1zM553 294h1v1h-1zM554 295h1v1h-1zM555 295h1v1h-1zM556 295h1v1h-1zM557 295h1v1h-1zM558 295h1v1h-1zM559 295h1v1h-1zM560 295h1v1h-1zM561 295h1v1h-1zM562 295h1v1h-1zM563 295h1v1h-1zM564 295h1v1h-1zM565 296h1v1h-1zM566 296h1v1h-1zM567 297h1v1h-1zM568 297h1v1h-1zM569 298h1v1h-1zM570 299h1v1h-1zM571 299h1v1h-1zM572 300h1v1h-1zM573 301h1v1h-1zM574 302h1v1h-1zM575 302h1v1h-1zM576 303h1v1h-1zM577 303h1v1h-1zM578 304h1v1h-1zM579 304h1v1h-1zM580 304h1v1h-1zM581 304h1v1h-1zM582 305h1v1h-1zM583 305h1v1h-1zM584 305h1v1h-1zM585 306h1v1h-1zM586 306h1v1h-1zM587 307h1v1h-1zM588 307h1v1h-1zM589 308h1v1h-1zM590 309h1v1h-1zM591 309h1v1h-1zM592 310h1v1h-1zM593 310h1v1h-1zM594 311h1v1h-1zM595 311h1v1h-1zM596 311h1v1h-1zM597 310h1v1h-1zM598 310h1v1h-1zM599 309h1v1h-1zM600 309h1v1h-1zM601 308h1v1h-1zM602 308h1v1h-1zM603 307h1v1h-1zM604 307h1v1h-1zM605 307h1v1h-1zM606 306h1v1h-1zM607 306h1v1h-1zM608 306h1v1h-1zM609 305h1v1h-1zM610 305h1v1h-1zM611 304h1v1h-1zM612 304h1v1h-1zM613 303h1v1h-1zM614 301h1v2h-1zM615 300h1v1h-1zM616 299h1v1h-1zM617 298h1v1h-1zM618 298h1v1h-1zM619 297h1v1h-1zM620 297h1v1h-1zM621 297h1v1h-1zM622 297h1v1h-1zM623 297h1v1h-1zM624 297h1v1h-1zM625 296h1v1h-1zM626 296h1v1h-1zM627 295h1v1h-1zM628 295h1v1h-1zM629 294h1v1h-1zM630 293h1v1h-1zM631 292h1v1h-1zM632 291h1v1h-1zM633 290h1v1h-1zM634 289h1v1h-1zM635 288h1v1h-1zM636 287h1v1h-1zM637 286h1v1h-1zM638 285h1v1h-1zM639 284h1v1h-1zM640 283h1v1h-1zM641 282h1v1h-1zM642 281h1v1h-1zM643 280h1v1h-1zM644 279h1v1h-1zM645 278h1v1h-1zM646 277h1v1h-1zM647 277h1v1h-1zM648 276h1v1h-1zM649 275h1v1h-1zM650 275h1v1h-1zM651 274h1v1h-1zM652 274h1v1h-1zM653 273h1v1h-1zM654 273h1v1h-1zM655 272h1v1h-1zM656 272h1v1h-1zM657 271h1v1h-1zM658 271h1v1h-1zM659 270h1v1h-1zM660 270h1v1h-1zM661 269h1v1h-1zM662 268h1v1h-1zM663 267h1v1h-1zM664 266h1v1h-1zM665 265h1v1h-1zM666 263h1v2h-1zM667 262h1v1h-1zM668 261h1v1h-1zM669 260h1v1h-1zM670 259h1v1h-1zM671 259h1v1h-1zM672 258h1v1h-1zM673 257h1v1h-1zM674 256h1v1h-1zM675 255h1v1h-1zM676 254h1v1h-1zM677 253h1v1h-1zM678 252h1v1h-1zM679 251h1v1h-1zM680 250h1v1h-1zM681 249h1v1h-1zM682 247h1v2h-1zM683 246h1v1h-1zM684 245h1v1h-1zM685 243h1v2h-1zM686 241h1v2h-1zM687 239h1v2h-1zM688 238h1v1h-1zM689 236h1v2h-1zM690 234h1v2h-1zM691 232h1v2h-1zM692 231h1v1h-1zM693 229h1v2h-1zM694 228h1v1h-1zM695 226h1v2h-1zM696 225h1v1h-1zM697 224h1v1h-1zM698 224h1v1h-1zM699 223h1v1h-1zM700 223h1v1h-1zM701 222h1v1h-1zM702 221h1v1h-1zM703 221h1v1h-1zM704 220h1v1h-1zM705 219h1v1h-1zM706 218h1v1h-1zM707 217h1v1h-1zM708 216h1v1h-1zM709 216h1v1h-1zM710 216h1v1h-1zM711 216h1v1h-1zM712 216h1v1h-1zM713 217h1v1h-1zM714 218h1v1h-1zM715 218h1v1h-1zM716 219h1v1h-1zM717 220h1v1h-1zM718 221h1v1h-1zM719 222h1v1h-1zM720 223h1v1h-1zM721 223h1v1h-1zM722 224h1v1h-1zM723 224h1v1h-1zM724 224h1v1h-1zM725 225h1v1h-1zM726 225h1v1h-1zM727 226h1v1h-1zM728 226h1v1h-1zM729 226h1v1h-1zM730 227h1v1h-1zM731 227h1v1h-1zM732 227h1v1h-1zM733 227h1v1h-1zM734 226h1v1h-1zM735 226h1v1h-1zM736 226h1v1h-1zM737 225h1v1h-1zM738 225h1v1h-1zM739 224h1v1h-1zM740 224h1v1h-1zM741 224h1v1h-1zM742 224h1v1h-1zM743 224h1v1h-1zM744 224h1v1h-1zM745 224h1v1h-1zM746 225h1v1h-1zM747 225h1v1h-1zM748 225h1v1h-1zM749 225h1v1h-1zM750 226h1v1h-1zM751 226h1v1h-1zM752 226h1v1h-1zM753 226h1v1h-1zM754 225h1v1h-1zM755 225h1v1h-1zM756 225h1v1h-1zM757 224h1v1h-1zM758 224h1v1h-1zM759 223h1v1h-1zM760 223h1v1h-1zM761 223h1v1h-1zM762 222h1v1h-1zM763 222h1v1h-1zM764 222h1v1h-1zM765 222h1v1h-1zM766 222h1v1h-1zM767 222h1v1h-1zM768 222h1v1h-1zM769 222h1v1h-1zM770 223h1v1h-1zM771 223h1v1h-1zM772 223h1v1h-1zM773 224h1v1h-1zM774 224h1v1h-1zM775 225h1v1h-1zM776 225h1v1h-1zM777 225h1v1h-1zM778 226h1v1h-1zM779 226h1v1h-1zM780 226h1v1h-1zM781 226h1v1h-1zM782 226h1v1h-1zM783 226h1v1h-1zM784 226h1v1h-1zM785 226h1v1h-1zM786 227h1v1h-1zM787 227h1v1h-1zM788 227h1v1h-1zM789 227h1v1h-1zM790 227h1v1h-1zM791 227h1v1h-1zM792 227h1v1h-1zM793 226h1v1h-1zM794 225h1v1h-1zM795 225h1v1h-1zM796 224h1v1h-1zM797 223h1v1h-1zM798 222h1v1h-1zM799 221h1v1h-1zM800 220h1v1h-1zM801 219h1v1h-1zM802 218h1v1h-1zM803 217h1v1h-1zM804 216h1v1h-1zM805 215h1v1h-1zM806 214h1v1h-1zM807 214h1v1h-1zM808 213h1v1h-1zM809 212h1v1h-1zM810 211h1v1h-1zM811 211h1v1h-1zM812 210h1v1h-1zM813 210h1v1h-1zM814 210h1v1h-1zM815 210h1v1h-1zM816 210h1v1h-1zM817 209h1v1h-1zM818 209h1v1h-1zM819 208h1v1h-1zM820 208h1v1h-1zM821 207h1v1h-1zM822 207h1v1h-1zM823 206h1v1h-1zM824 206h1v1h-1zM825 205h1v1h-1zM826 204h1v1h-1zM827 204h1v1h-1zM828 203h1v1h-1zM829 202h1v1h-1zM830 201h1v1h-1zM831 200h1v1h-1zM832 199h1v1h-1zM833 198h1v1h-1zM834 197h1v1h-1zM835 196h1v1h-1zM836 195h1v1h-1zM837 194h1v1h-1zM838 194h1v1h-1zM839 193h1v1h-1zM840 193h1v1h-1zM841 192h1v1h-1zM842 191h1v1h-1zM843 190h1v1h-1zM844 189h1v1h-1zM845 188h1v1h-1zM846 187h1v1h-1zM847 186h1v1h-1zM848 185h1v1h-1zM849 185h1v1h-1zM850 184h1v1h-1zM851 184h1v1h-1zM852 184h1v1h-1zM853 183h1v1h-1zM854 183h1v1h-1zM855 182h1v1h-1zM856 182h1v1h-1zM857 181h1v1h-1zM858 180h1v1h-1zM859 179h1v1h-1zM860 178h1v1h-1zM861 177h1v1h-1zM862 177h1v1h-1zM863 176h1v1h-1zM864 176h1v1h-1zM865 175h1v1h-1zM866 175h1v1h-1zM867 174h1v1h-1zM868 174h1v1h-1zM869 173h1v1h-1zM870 172h1v1h-1zM871 172h1v1h-1zM872 171h1v1h-1zM873 171h1v1h-1zM874 171h1v1h-1zM875 171h1v1h-1zM876 171h1v1h-1zM877 171h1v1h-1zM878 172h1v1h-1zM879 172h1v1h-1zM880 172h1v1h-1zM881 172h1v1h-1zM882 173h1v1h-1zM883 173h1v1h-1zM884 173h1v1h-1zM885 174h1v1h-1zM886 174h1v1h-1zM887 175h1v1h-1zM888 175h1v1h-1zM889 175h1v1h-1zM890 176h1v1h-1zM891 176h1v1h-1zM892 176h1v1h-1zM893 176h1v1h-1zM894 175h1v1h-1zM895 175h1v1h-1zM896 175h1v1h-1zM897 175h1v1h-1zM898 174h1v1h-1zM899 174h1v1h-1zM900 174h1v1h-1zM901 174h1v1h-1zM902 173h1v1h-1zM903 173h1v1h-1zM904 173h1v1h-1zM905 173h1v1h-1zM906 174h1v1h-1zM907 174h1v1h-1zM908 174h1v1h-1zM909 174h1v1h-1zM910 173h1v1h-1zM911 173h1v1h-1zM912 173h1v1h-1zM913 173h1v1h-1zM914 172h1v1h-1zM915 172h1v1h-1zM916 172h1v1h-1zM917 171h1v1h-1zM918 170h1v1h-1zM919 170h1v1h-1zM920 169h1v1h-1zM921 169h1v1h-1zM922 168h1v1h-1zM923 168h1v1h-1zM924 168h1v1h-1zM925 168h1v1h-1zM926 167h1v1h-1zM927 167h1v1h-1zM928 167h1v1h-1zM929 167h1v1h-1zM930 167h1v1h-1zM931 167h1v1h-1zM932 167h1v1h-1zM933 167h1v1h-1zM934 168h1v1h-1zM935 168h1v1h-1zM936 168h1v1h-1zM937 168h1v1h-1zM938 169h1v1h-1zM939 169h1v1h-1zM940 169h1v1h-1zM941 170h1v1h-1zM942 171h1v1h-1zM943 171h1v1h-1zM944 172h1v1h-1zM945 173h1v1h-1zM946 174h1v2h-1zM947 176h1v1h-1zM948 177h1v1h-1zM949 178h1v1h-1zM950 179h1v2h-1zM951 181h1v1h-1zM952 182h1v1h-1zM953 183h1v1h-1zM954 184h1v2h-1zM955 186h1v1h-1zM956 187h1v1h-1zM957 188h1v1h-1zM958 189h1v2h-1zM959 191h1v1h-1zM960 192h1v1h-1zM961 193h1v1h-1zM962 194h1v1h-1zM963 194h1v1h-1zM964 195h1v1h-1zM965 196h1v1h-1zM966 196h1v1h-1zM967 197h1v1h-1zM968 197h1v1h-1zM969 197h1v1h-1zM970 197h1v1h-1zM971 197h1v1h-1zM972 197h1v1h-1zM973 197h1v1h-1zM974 197h1v1h-1zM975 197h1v1h-1zM976 197h1v1h-1zM977 198h1v1h-1zM978 198h1v1h-1zM979 199h1v1h-1zM980 199h1v1h-1zM981 200h1v1h-1zM982 200h1v1h-1zM983 201h1v1h-1zM984 201h1v1h-1zM985 202h1v1h-1zM986 203h1v1h-1zM987 204h1v1h-1zM988 205h1v1h-1zM989 206h1v2h-1zM990 208h1v2h-1zM991 210h1v2h-1zM992 212h1v1h-1zM993 213h1v2h-1zM994 215h1v2h-1zM995 217h1v2h-1zM996 219h1v2h-1zM997 221h1v2h-1zM998 223h1v2h-1zM999 225h1v2h-1zM1000 227h1v3h-1zM1001 230h1v2h-1zM1002 232h1v3h-1zM1003 235h1v2h-1zM1004 237h1v3h-1zM1005 240h1v2h-1zM1006 242h1v2h-1zM1007 244h1v2h-1zM1008 246h1v3h-1zM1009 249h1v3h-1zM1010 252h1v2h-1zM1011 254h1v3h-1zM1012 257h1v3h-1zM1013 260h1v2h-1zM1014 262h1v2h-1zM1015 264h1v2h-1zM1016 266h1v2h-1zM1017 268h1v2h-1zM1018 270h1v2h-1zM1019 272h1v2h-1zM1020 274h1v3h-1zM1021 277h1v2h-1zM1022 279h1v2h-1zM1023 281h1v2h-1zM1024 283h1v2h-1zM1025 285h1v2h-1zM1026 287h1v1h-1zM1027 288h1v2h-1zM1028 290h1v1h-1zM1029 291h1v1h-1zM1030 292h1v2h-1zM1031 294h1v1h-1zM1032 295h1v1h-1zM1033 296h1v1h-1zM1034 297h1v2h-1zM1035 299h1v1h-1zM1036 300h1v1h-1zM1037 301h1v2h-1zM1038 303h1v1h-1zM1039 304h1v2h-1zM1040 306h1v1h-1zM1041 307h1v1h-1zM1042 308h1v2h-1zM1043 310h1v1h-1zM1044 311h1v1h-1zM1045 312h1v2h-1zM1046 314h1v2h-1zM1047 316h1v2h-1zM1048 318h1v1h-1zM1049 319h1v2h-1zM1050 321h1v1h-1zM1051 322h1v2h-1zM1052 324h1v1h-1zM1053 325h1v2h-1zM1054 327h1v2h-1zM1055 329h1v2h-1zM1056 331h1v3h-1zM1057 334h1v2h-1zM1058 336h1v2h-1zM1059 338h1v2h-1zM1060 340h1v3h-1zM1061 343h1v2h-1zM1062 345h1v3h-1zM1063 348h1v2h-1zM1064 350h1v3h-1zM1065 353h1v2h-1zM1066 355h1v2h-1zM1067 357h1v2h-1zM1068 359h1v2h-1zM1069 361h1v2h-1zM1070 363h1v1h-1zM1071 364h1v2h-1zM1072 366h1v1h-1zM1073 367h1v1h-1zM1074 368h1v1h-1zM1075 369h1v1h-1zM1076 370h1v1h-1zM1077 371h1v1h-1zM1078 372h1v1h-1zM1079 372h1v1h-1zM1080 373h1v1h-1zM1081 374h1v1h-1zM1082 375h1v1h-1zM1083 376h1v1h-1zM1084 377h1v1h-1zM1085 378h1v1h-1zM1086 379h1v1h-1zM1087 380h1v1h-1zM1088 381h1v1h-1zM1089 382h1v1h-1zM1090 383h1v1h-1zM1091 383h1v1h-1zM1092 384h1v1h-1zM1093 385h1v1h-1zM1094 385h1v1h-1zM1095 386h1v1h-1zM1096 386h1v1h-1zM1097 386h1v1h-1zM1098 385h1v1h-1zM1099 385h1v1h-1zM1100 385h1v1h-1zM1101 385h1v1h-1zM1102 384h1v1h-1zM1103 384h1v1h-1zM1104 384h1v1h-1zM1105 383h1v1h-1zM1106 383h1v1h-1zM1107 382h1v1h-1zM1108 382h1v1h-1zM1109 382h1v1h-1zM1110 381h1v1h-1zM1111 381h1v1h-1zM1112 381h1v1h-1zM1113 381h1v1h-1zM1114 380h1v1h-1zM1115 380h1v1h-1zM1116 380h1v1h-1zM1117 379h1v1h-1zM1118 378h1v1h-1zM1119 378h1v1h-1zM1120 377h1v1h-1zM1121 376h1v1h-1zM1122 375h1v1h-1zM1123 374h1v1h-1zM1124 373h1v1h-1zM1125 372h1v1h-1zM1126 372h1v1h-1zM1127 371h1v1h-1zM1128 371h1v1h-1z" fill="#ffff00" shape-rendering="crispEdges"/>
<path d="M4 412h1v1h-1zM5 411h1v1h-1zM6 409h1v2h-1zM7 408h1v1h-1zM8 407h1v1h-1zM9 406h1v1h-1zM10 405h1v1h-1zM11 404h1v1h-1zM12 403h1v1h-1zM13 402h1v1h-1zM14 400h1v2h-1zM15 399h1v1h-1zM16 398h1v1h-1zM17 396h1v2h-1zM18 395h1v1h-1zM19 393h1v2h-1zM20 392h1v1h-1zM21 390h1v2h-1zM22 389h1v1h-1zM23 387h1v2h-1zM24 386h1v1h-1zM25 385h1v1h-1zM26 384h1v1h-1zM27 384h1v1h-1zM28 383h1v1h-1zM29 382h1v1h-1zM30 382h1v1h-1zM31 381h1v1h-1zM32 381h1v1h-1zM33 380h1v1h-1zM34 380h1v1h-1zM35 379h1v1h-1zM36 379h1v1h-1zM37 378h1v1h-1zM38 377h1v1h-1zM39 377h1v1h-1zM40 376h1v1h-1zM41 375h1v1h-1zM42 374h1v1h-1zM43 374h1v1h-1zM44 373h1v1h-1zM45 372h1v1h-1zM46 372h1v1h-1zM47 371h1v1h-1zM48 371h1v1h-1zM49 372h1v1h-1zM50 373h1v1h-1zM51 373h1v1h-1zM52 374h1v1h-1zM53 375h1v2h-1zM54 377h1v2h-1zM55 379h1v2h-1zM56 381h1v2h-1zM57 383h1v3h-1zM58 386h1v3h-1zM59 389h1v3h-1zM60 392h1v3h-1zM61 395h1v2h-1zM62 397h1v3h-1zM63 400h1v2h-1zM64 402h1v3h-1zM65 405h1v2h-1zM66 407h1v3h-1zM67 410h1v2h-1zM68 412h1v3h-1zM69 415h1v2h-1zM70 417h1v2h-1zM71 419h1v2h-1zM72 421h1v3h-1zM73 424h1v2h-1zM74 426h1v2h-1zM75 428h1v2h-1zM76 430h1v2h-1zM77 432h1v1h-1zM78 433h1v2h-1zM79 435h1v1h-1zM80 436h1v1h-1zM81 436h1v1h-1zM82 437h1v1h-1zM83 437h1v1h-1zM84 437h1v1h-1zM85 438h1v1h-1zM86 439h1v1h-1zM87 440h1v1h-1zM88 441h1v1h-1zM89 442h1v2h-1zM90 444h1v2h-1zM91 446h1v2h-1zM92 448h1v1h-1zM93 449h1v2h-1zM94 451h1v2h-1zM95 453h1v2h-1zM96 455h1v3h-1zM97 458h1v2h-1zM98 460h1v3h-1zM99 463h1v2h-1zM100 465h1v2h-1zM101 467h1v2h-1zM102 469h1v2h-1zM103 471h1v2h-1zM104 473h1v1h-1zM105 474h1v1h-1zM106 474h1v1h-1zM107 475h1v1h-1zM108 475h1v1h-1zM109 475h1v1h-1zM110 474h1v1h-1zM111 474h1v1h-1zM112 474h1v1h-1zM113 474h1v1h-1zM114 473h1v1h-1zM115 473h1v1h-1zM116 473h1v1h-1zM117 472h1v1h-1zM118 472h1v1h-1zM119 471h1v1h-1zM120 471h1v1h-1zM121 471h1v1h-1zM122 470h1v1h-1zM123 470h1v1h-1zM124 470h1v1h-1zM125 469h1v1h-1zM126 468h1v1h-1zM127 467h1v1h-1zM128 466h1v1h-1zM129 465h1v1h-1zM130 464h1v1h-1zM131 464h1v1h-1zM132 463h1v1h-1zM133 463h1v1h-1zM134 463h1v1h-1zM135 463h1v1h-1zM136 463h1v1h-1zM137 463h1v1h-1zM138 463h1v1h-1zM139 463h1v1h-1zM140 463h1v1h-1zM141 462h1v1h-1zM142 461h1v1h-1zM143 461h1v1h-1zM144 460h1v1h-1zM145 459h1v1h-1zM146 458h1v1h-1zM147 457h1v1h-1zM148 456h1v1h-1zM149 454h1v2h-1zM150 452h1v2h-1zM151 450h1v2h-1zM152 447h1v3h-1zM153 444h1v3h-1zM154 442h1v2h-1zM155 439h1v3h-1zM156 436h1v3h-1zM157 434h1v2h-1zM158 432h1v2h-1zM159 430h1v2h-1zM160 428h1v2h-1zM161 426h1v2h-1zM162 424h1v2h-1zM163 422h1v2h-1zM164 420h1v2h-1zM165 418h1v2h-1zM166 417h1v1h-1zM167 415h1v2h-1zM168 414h1v1h-1zM169 413h1v1h-1zM170 411h1v2h-1zM171 410h1v1h-1zM172 409h1v1h-1zM173 408h1v1h-1zM174 407h1v1h-1zM175 406h1v1h-1zM176 405h1v1h-1zM177 403h1v2h-1zM178 402h1v1h-1zM179 400h1v2h-1zM180 399h1v1h-1zM181 399h1v1h-1zM182 398h1v1h-1zM183 398h1v1h-1zM184 398h1v1h-1zM185 397h1v1h-1zM186 396h1v1h-1zM187 396h1v1h-1zM188 395h1v1h-1zM189 394h1v1h-1zM190 393h1v1h-1zM191 393h1v1h-1zM192 392h1v1h-1zM193 391h1v1h-1zM194 390h1v1h-1zM195 389h1v1h-1zM196 388h1v1h-1zM197 386h1v2h-1zM198 384h1v2h-1zM199 382h1v2h-1zM200 381h1v1h-1zM201 379h1v2h-1zM202 378h1v1h-1zM203 376h1v2h-1zM204 375h1v1h-1zM205 374h1v1h-1zM206 373h1v1h-1zM207 372h1v1h-1zM208 371h1v1h-1zM209 371h1v1h-1zM210 371h1v1h-1zM211 371h1v1h-1zM212 371h1v1h-1zM213 371h1v1h-1zM214 371h1v1h-1zM215 371h1v1h-1zM216 371h1v1h-1zM217 371h1v1h-1zM218 370h1v1h-1zM219 370h1v1h-1zM220 370h1v1h-1zM221 370h1v1h-1zM222 370h1v1h-1zM223 370h1v1h-1zM224 370h1v1h-1zM225 369h1v1h-1zM226 368h1v1h-1zM227 368h1v1h-1zM228 367h1v1h-1zM229 365h1v2h-1zM230 364h1v1h-1zM231 362h1v2h-1zM232 361h1v1h-1zM233 360h1v1h-1zM234 358h1v2h-1zM235 357h1v1h-1zM236 356h1v1h-1zM237 354h1v2h-1zM238 353h1v1h-1zM239 351h1v2h-1zM240 350h1v1h-1zM241 349h1v1h-1zM242 347h1v2h-1zM243 346h1v1h-1zM244 345h1v1h-1zM245 344h1v1h-1zM246 342h1v2h-1zM247 341h1v1h-1zM248 340h1v1h-1zM249 339h1v1h-1zM250 339h1v1h-1zM251 338h1v1h-1zM252 338h1v1h-1zM253 338h1v1h-1zM254 338h1v1h-1zM255 338h1v1h-1zM256 338h1v1h-1zM257 337h1v1h-1zM258 337h1v1h-1zM259 336h1v1h-1zM260 336h1v1h-1zM261 335h1v1h-1zM262 335h1v1h-1zM263 334h1v1h-1zM264 333h1v2h-1zM265 331h1v2h-1zM266 329h1v2h-1zM267 327h1v2h-1zM268 325h1v2h-1zM269 324h1v1h-1zM270 322h1v2h-1zM271 321h1v1h-1zM272 320h1v1h-1zM273 319h1v1h-1zM274 318h1v1h-1zM275 317h1v1h-1zM276 316h1v1h-1zM277 315h1v1h-1zM278 313h1v2h-1zM279 312h1v1h-1zM280 311h1v1h-1zM281 310h1v1h-1zM282 309h1v1h-1zM283 308h1v1h-1zM284 307h1v1h-1zM285 307h1v1h-1zM286 306h1v1h-1zM287 306h1v1h-1zM288 306h1v1h-1zM289 305h1v1h-1zM290 303h1v2h-1zM291 302h1v1h-1zM292 301h1v1h-1zM293 301h1v1h-1zM294 300h1v1h-1zM295 300h1v1h-1zM296 300h1v1h-1zM297 299h1v1h-1zM298 299h1v1h-1zM299 298h1v1h-1zM300 298h1v1h-1zM301 297h1v1h-1zM302 297h1v1h-1zM303 296h1v1h-1zM304 296h1v1h-1zM305 295h1v1h-1zM306 294h1v1h-1zM307 293h1v1h-1zM308 292h1v1h-1zM309 291h1v1h-1zM310 291h1v1h-1zM311 290h1v1h-1zM312 290h1v1h-1zM313 289h1v1h-1zM314 288h1v1h-1zM315 287h1v1h-1zM316 286h1v1h-1zM317 284h1v2h-1zM318 282h1v2h-1zM319 280h1v2h-1zM320 278h1v2h-1zM321 277h1v1h-1zM322 276h1v1h-1zM323 275h1v1h-1zM324 274h1v1h-1zM325 274h1v1h-1zM326 273h1v1h-1zM327 273h1v1h-1zM328 273h1v1h-1zM329 271h1v2h-1zM330 270h1v1h-1zM331 268h1v2h-1zM332 267h1v1h-1zM333 265h1v2h-1zM334 264h1v1h-1zM335 262h1v2h-1zM336 261h1v1h-1zM337 259h1v2h-1zM338 258h1v1h-1zM339 256h1v2h-1zM340 255h1v1h-1zM341 254h1v1h-1zM342 253h1v1h-1zM343 253h1v1h-1zM344 252h1v1h-1zM345 251h1v1h-1zM346 250h1v1h-1zM347 249h1v1h-1zM348 248h1v1h-1zM349 247h1v1h-1zM350 246h1v1h-1zM351 245h1v1h-1zM352 244h1v1h-1zM353 243h1v1h-1zM354 242h1v1h-1zM355 241h1v1h-1zM356 240h1v1h-1zM357 239h1v1h-1zM358 237h1v2h-1zM359 236h1v1h-1zM360 235h1v1h-1zM361 233h1v2h-1zM362 231h1v2h-1zM363 229h1v2h-1zM364 226h1v3h-1zM365 223h1v3h-1zM366 221h1v2h-1zM367 218h1v3h-1zM368 215h1v3h-1zM369 213h1v2h-1zM370 210h1v3h-1zM371 208h1v2h-1zM372 205h1v3h-1zM373 203h1v2h-1zM374 201h1v2h-1zM375 199h1v2h-1zM376 197h1v2h-1zM377 195h1v2h-1zM378 193h1v2h-1zM379 191h1v2h-1zM380 188h1v3h-1zM381 185h1v3h-1zM382 182h1v3h-1zM383 179h1v3h-1zM384 176h1v3h-1zM385 174h1v2h-1zM386 171h1v3h-1zM387 169h1v2h-1zM388 167h1v2h-1zM389 165h1v2h-1zM390 163h1v2h-1zM391 161h1v2h-1zM392 159h1v2h-1zM393 157h1v2h-1zM394 154h1v3h-1zM395 152h1v2h-1zM396 149h1v3h-1zM397 146h1v3h-1zM398 143h1v3h-1zM399 140h1v3h-1zM400 137h1v3h-1zM401 135h1v2h-1zM402 132h1v3h-1zM403 130h1v2h-1zM404 127h1v3h-1zM405 125h1v2h-1zM406 122h1v3h-1zM407 120h1v2h-1zM408 117h1v3h-1zM409 115h1v2h-1zM410 112h1v3h-1zM411 110h1v2h-1zM412 108h1v2h-1zM413 106h1v2h-1zM414 104h1v2h-1zM415 102h1v2h-1zM416 100h1v2h-1zM417 100h1v1h-1zM418 99h1v1h-1zM419 99h1v1h-1zM420 99h1v1h-1zM421 100h1v1h-1zM422 101h1v1h-1zM423 101h1v1h-1zM424 102h1v1h-1zM425 103h1v1h-1zM426 104h1v2h-1zM427 106h1v1h-1zM428 107h1v2h-1zM429 109h1v3h-1zM430 112h1v3h-1zM431 115h1v3h-1zM432 118h1v3h-1zM433 121h1v4h-1zM434 125h1v3h-1zM435 128h1v4h-1zM436 132h1v3h-1zM437 135h1v4h-1zM438 139h1v4h-1zM439 143h1v4h-1zM440 147h1v4h-1zM441 151h1v4h-1zM442 155h1v3h-1zM443 158h1v4h-1zM444 162h1v3h-1zM445 165h1v3h-1zM446 168h1v3h-1zM447 171h1v3h-1zM448 174h1v3h-1zM449 177h1v4h-1zM450 181h1v3h-1zM451 184h1v4h-1zM452 188h1v3h-1zM453 191h1v4h-1zM454 195h1v3h-1zM455 198h1v4h-1zM456 202h1v3h-1zM457 205h1v4h-1zM458 209h1v4h-1zM459 213h1v4h-1zM460 217h1v3h-1zM461 220h1v4h-1zM462 224h1v4h-1zM463 228h1v4h-1zM464 232h1v3h-1zM465 235h1v4h-1zM466 239h1v3h-1zM467 242h1v4h-1zM468 246h1v3h-1zM469 249h1v4h-1zM470 253h1v3h-1zM471 256h1v4h-1zM472 260h1v3h-1zM473 263h1v2h-1zM474 265h1v2h-1zM475 267h1v2h-1zM476 269h1v2h-1zM477 271h1v1h-1zM478 272h1v1h-1zM479 273h1v1h-1zM480 274h1v1h-1zM481 274h1v1h-1zM482 274h1v1h-1zM483 274h1v1h-1zM484 274h1v1h-1zM485 273h1v1h-1zM486 273h1v1h-1zM487 272h1v1h-1zM488 272h1v1h-1zM489 271h1v1h-1zM490 270h1v1h-1zM491 269h1v1h-1zM492 268h1v1h-1zM493 268h1v1h-1zM494 267h1v1h-1zM495 267h1v1h-1zM496 267h1v1h-1zM497 267h1v1h-1zM498 268h1v1h-1zM499 268h1v1h-1zM500 268h1v1h-1zM501 268h1v1h-1zM502 268h1v1h-1zM503 268h1v1h-1zM504 268h1v1h-1zM505 268h1v1h-1zM506 268h1v1h-1zM507 268h1v1h-1zM508 268h1v1h-1zM509 269h1v2h-1zM510 271h1v1h-1zM511 272h1v2h-1zM512 274h1v1h-1zM513 275h1v1h-1zM514 276h1v2h-1zM515 278h1v1h-1zM516 279h1v1h-1zM517 280h1v2h-1zM518 282h1v2h-1zM519 284h1v2h-1zM520 286h1v1h-1zM521 287h1v2h-1zM522 289h1v2h-1zM523 291h1v2h-1zM524 293h1v1h-1zM525 294h1v2h-1zM526 296h1v2h-1zM527 298h1v2h-1zM528 300h1v1h-1zM529 301h1v2h-1zM530 303h1v1h-1zM531 304h1v2h-1zM532 306h1v1h-1zM533 307h1v1h-1zM534 308h1v1h-1zM535 308h1v1h-1zM536 309h1v1h-1zM537 310h1v1h-1zM538 310h1v1h-1zM539 311h1v1h-1zM540 311h1v1h-1zM541 312h1v1h-1zM542 312h1v1h-1zM543 313h1v1h-1zM544 313h1v1h-1zM545 314h1v1h-1zM546 315h1v1h-1zM547 315h1v1h-1zM548 316h1v1h-1zM549 315h1v1h-1zM550 314h1v1h-1zM551 314h1v1h-1zM552 313h1v1h-1zM553 313h1v1h-1zM554 312h1v1h-1zM555 312h1v1h-1zM556 312h1v1h-1zM557 312h1v1h-1zM558 312h1v1h-1zM559 312h1v1h-1zM560 312h1v1h-1zM561 312h1v1h-1zM562 311h1v1h-1zM563 311h1v1h-1zM564 311h1v1h-1zM565 310h1v1h-1zM566 308h1v2h-1zM567 307h1v1h-1zM568 306h1v1h-1zM569 305h1v1h-1zM570 303h1v2h-1zM571 302h1v1h-1zM572 301h1v1h-1zM573 299h1v2h-1zM574 298h1v1h-1zM575 296h1v2h-1zM576 295h1v1h-1zM577 294h1v1h-1zM578 293h1v1h-1zM579 292h1v1h-1zM580 291h1v1h-1zM581 290h1v1h-1zM582 290h1v1h-1zM583 289h1v1h-1zM584 289h1v1h-1zM585 288h1v1h-1zM586 287h1v1h-1zM587 286h1v1h-1zM588 285h1v1h-1zM589 286h1v1h-1zM590 287h1v1h-1zM591 287h1v1h-1zM592 288h1v1h-1zM593 289h1v2h-1zM594 291h1v2h-1zM595 293h1v2h-1zM596 295h1v2h-1zM597 297h1v1h-1zM598 298h1v1h-1zM599 298h1v1h-1zM600 299h1v1h-1zM601 300h1v1h-1zM602 301h1v2h-1zM603 303h1v1h-1zM604 304h1v1h-1zM605 305h1v2h-1zM606 307h1v1h-1zM607 308h1v2h-1zM608 310h1v1h-1zM609 311h1v1h-1zM610 312h1v1h-1zM611 312h1v1h-1zM612 313h1v1h-1zM613 313h1v1h-1zM614 312h1v1h-1zM615 312h1v1h-1zM616 312h1v1h-1zM617 312h1v1h-1zM618 312h1v1h-1zM619 312h1v1h-1zM620 312h1v1h-1zM621 312h1v1h-1zM622 311h1v1h-1zM623 311h1v1h-1zM624 311h1v1h-1zM625 310h1v1h-1zM626 308h1v2h-1zM627 307h1v1h-1zM628 305h1v2h-1zM629 303h1v2h-1zM630 301h1v2h-1zM631 299h1v2h-1zM632 296h1v3h-1zM633 294h1v2h-1zM634 292h1v2h-1zM635 290h1v2h-1zM636 287h1v3h-1zM637 285h1v2h-1zM638 282h1v3h-1zM639 280h1v2h-1zM640 278h1v2h-1zM641 276h1v2h-1zM642 274h1v2h-1zM643 272h1v2h-1zM644 269h1v3h-1zM645 267h1v2h-1zM646 264h1v3h-1zM647 262h1v2h-1zM648 259h1v3h-1zM649 257h1v2h-1zM650 254h1v3h-1zM651 252h1v2h-1zM652 250h1v2h-1zM653 249h1v1h-1zM654 248h1v1h-1zM655 247h1v1h-1zM656 246h1v1h-1zM657 244h1v2h-1zM658 242h1v2h-1zM659 240h1v2h-1zM660 239h1v1h-1zM661 237h1v2h-1zM662 235h1v2h-1zM663 233h1v2h-1zM664 231h1v2h-1zM665 229h1v2h-1zM666 228h1v1h-1zM667 226h1v2h-1zM668 225h1v1h-1zM669 224h1v1h-1zM670 224h1v1h-1zM671 223h1v1h-1zM672 223h1v1h-1zM673 223h1v1h-1zM674 224h1v1h-1zM675 224h1v1h-1zM676 224h1v1h-1zM677 224h1v1h-1zM678 225h1v1h-1zM679 225h1v1h-1zM680 225h1v1h-1zM681 225h1v1h-1zM682 224h1v1h-1zM683 224h1v1h-1zM684 224h1v1h-1zM685 224h1v1h-1zM686 225h1v1h-1zM687 225h1v1h-1zM688 225h1v1h-1zM689 225h1v1h-1zM690 226h1v1h-1zM691 226h1v1h-1zM692 226h1v1h-1zM693 226h1v1h-1zM694 227h1v1h-1zM695 227h1v1h-1zM696 227h1v1h-1zM697 227h1v1h-1zM698 228h1v1h-1zM699 228h1v1h-1zM700 228h1v1h-1zM701 228h1v1h-1zM702 227h1v1h-1zM703 227h1v1h-1zM704 227h1v1h-1zM705 226h1v1h-1zM706 225h1v1h-1zM707 225h1v1h-1zM708 224h1v1h-1zM709 223h1v1h-1zM710 223h1v1h-1zM711 222h1v1h-1zM712 222h1v1h-1zM713 222h1v1h-1zM714 221h1v1h-1zM715 221h1v1h-1zM716 221h1v1h-1zM717 222h1v1h-1zM718 222h1v1h-1zM719 223h1v1h-1zM720 223h1v1h-1zM721 223h1v1h-1zM722 223h1v1h-1zM723 223h1v1h-1zM724 223h1v1h-1zM725 223h1v1h-1zM726 222h1v1h-1zM727 222h1v1h-1zM728 222h1v1h-1zM729 221h1v1h-1zM730 220h1v1h-1zM731 220h1v1h-1zM732 219h1v1h-1zM733 218h1v1h-1zM734 216h1v2h-1zM735 215h1v1h-1zM736 214h1v1h-1zM737 214h1v1h-1zM738 214h1v1h-1zM739 214h1v1h-1zM740 214h1v1h-1zM741 215h1v1h-1zM742 216h1v1h-1zM743 217h1v1h-1zM744 218h1v1h-1zM745 219h1v1h-1zM746 220h1v1h-1zM747 221h1v1h-1zM748 222h1v1h-1zM749 223h1v1h-1zM750 224h1v1h-1zM751 224h1v1h-1zM752 225h1v1h-1zM753 225h1v1h-1zM754 225h1v1h-1zM755 225h1v1h-1zM756 225h1v1h-1zM757 226h1v1h-1zM758 227h1v1h-1zM759 228h1v1h-1zM760 229h1v1h-1zM761 230h1v1h-1zM762 231h1v1h-1zM763 231h1v1h-1zM764 232h1v1h-1zM765 232h1v1h-1zM766 232h1v1h-1zM767 232h1v1h-1zM768 232h1v1h-1zM769 232h1v1h-1zM770 232h1v1h-1zM771 232h1v1h-1zM772 232h1v1h-1zM773 231h1v1h-1zM774 231h1v1h-1zM775 230h1v1h-1zM776 230h1v1h-1zM777 230h1v1h-1zM778 229h1v1h-1zM779 229h1v1h-1zM780 229h1v1h-1zM781 228h1v1h-1zM782 228h1v1h-1zM783 227h1v1h-1zM784 227h1v1h-1zM785 227h1v1h-1zM786 228h1v1h-1zM787 228h1v1h-1zM788 228h1v1h-1zM789 228h1v1h-1zM790 227h1v1h-1zM791 227h1v1h-1zM792 227h1v1h-1zM793 226h1v1h-1zM794 224h1v2h-1zM795 223h1v1h-1zM796 222h1v1h-1zM797 220h1v2h-1zM798 218h1v2h-1zM799 216h1v2h-1zM800 215h1v1h-1zM801 214h1v1h-1zM802 212h1v2h-1zM803 211h1v1h-1zM804 210h1v1h-1zM805 208h1v2h-1zM806 207h1v1h-1zM807 205h1v2h-1zM808 204h1v1h-1zM809 203h1v1h-1zM810 202h1v1h-1zM811 202h1v1h-1zM812 201h1v1h-1zM813 200h1v1h-1zM814 200h1v1h-1zM815 199h1v1h-1zM816 199h1v1h-1zM817 198h1v1h-1zM818 196h1v2h-1zM819 195h1v1h-1zM820 194h1v1h-1zM821 193h1v1h-1zM822 192h1v1h-1zM823 191h1v1h-1zM824 190h1v1h-1zM825 189h1v1h-1zM826 189h1v1h-1zM827 188h1v1h-1zM828 188h1v1h-1zM829 187h1v1h-1zM830 185h1v2h-1zM831 184h1v1h-1zM832 183h1v1h-1zM833 182h1v1h-1zM834 181h1v1h-1zM835 181h1v1h-1zM836 180h1v1h-1zM837 179h1v1h-1zM838 178h1v1h-1zM839 177h1v1h-1zM840 176h1v1h-1zM841 175h1v1h-1zM842 173h1v2h-1zM843 172h1v1h-1zM844 171h1v1h-1zM845 171h1v1h-1zM846 170h1v1h-1zM847 170h1v1h-1zM848 170h1v1h-1zM849 171h1v1h-1zM850 171h1v1h-1zM851 172h1v1h-1zM852 172h1v1h-1zM853 173h1v1h-1zM854 173h1v1h-1zM855 174h1v1h-1zM856 174h1v1h-1zM857 174h1v1h-1zM858 173h1v1h-1zM859 173h1v1h-1zM860 173h1v1h-1zM861 173h1v1h-1zM862 173h1v1h-1zM863 173h1v1h-1zM864 173h1v1h-1zM865 173h1v1h-1zM866 174h1v1h-1zM867 174h1v1h-1zM868 174h1v1h-1zM869 173h1v1h-1zM870 172h1v1h-1zM871 171h1v1h-1zM872 170h1v1h-1zM873 170h1v1h-1zM874 170h1v1h-1zM875 170h1v1h-1zM876 170h1v1h-1zM877 170h1v1h-1zM878 171h1v1h-1zM879 171h1v1h-1zM880 171h1v1h-1zM881 171h1v1h-1zM882 171h1v1h-1zM883 171h1v1h-1zM884 171h1v1h-1zM885 172h1v1h-1zM886 173h1v1h-1zM887 173h1v1h-1zM888 174h1v1h-1zM889 174h1v1h-1zM890 175h1v1h-1zM891 175h1v1h-1zM892 175h1v1h-1zM893 175h1v1h-1zM894 174h1v1h-1zM895 174h1v1h-1zM896 174h1v1h-1zM897 175h1v1h-1zM898 175h1v1h-1zM899 176h1v1h-1zM900 176h1v1h-1zM901 176h1v1h-1zM902 176h1v1h-1zM903 176h1v1h-1zM904 176h1v1h-1zM905 176h1v1h-1zM906 176h1v1h-1zM907 176h1v1h-1zM908 176h1v1h-1zM909 175h1v1h-1zM910 175h1v1h-1zM911 174h1v1h-1zM912 174h1v1h-1zM913 174h1v1h-1zM914 173h1v1h-1zM915 173h1v1h-1zM916 173h1v1h-1zM917 172h1v1h-1zM918 171h1v1h-1zM919 171h1v1h-1zM920 170h1v1h-1zM921 169h1v1h-1zM922 168h1v1h-1zM923 168h1v1h-1zM924 167h1v1h-1zM925 166h1v1h-1zM926 165h1v1h-1zM927 165h1v1h-1zM928 164h1v1h-1zM929 164h1v1h-1zM930 164h1v1h-1zM931 164h1v1h-1zM932 164h1v1h-1zM933 165h1v1h-1zM934 166h1v1h-1zM935 166h1v1h-1zM936 167h1v1h-1zM937 167h1v1h-1zM938 167h1v1h-1zM939 167h1v1h-1zM940 167h1v1h-1zM941 168h1v1h-1zM942 168h1v1h-1zM943 169h1v1h-1zM944 169h1v1h-1zM945 170h1v2h-1zM946 172h1v1h-1zM947 173h1v2h-1zM948 175h1v2h-1zM949 177h1v2h-1zM950 179h1v2h-1zM951 181h1v2h-1zM952 183h1v2h-1zM953 185h1v2h-1zM954 187h1v2h-1zM955 189h1v2h-1zM956 191h1v1h-1zM957 192h1v2h-1zM958 194h1v1h-1zM959 195h1v2h-1zM960 197h1v1h-1zM961 198h1v1h-1zM962 199h1v2h-1zM963 201h1v1h-1zM964 202h1v1h-1zM965 203h1v2h-1zM966 205h1v1h-1zM967 206h1v2h-1zM968 208h1v1h-1zM969 209h1v1h-1zM970 210h1v1h-1zM971 211h1v1h-1zM972 212h1v1h-1zM973 213h1v1h-1zM974 214h1v2h-1zM975 216h1v1h-1zM976 217h1v1h-1zM977 218h1v1h-1zM978 219h1v1h-1zM979 220h1v1h-1zM980 221h1v1h-1zM981 222h1v2h-1zM982 224h1v1h-1zM983 225h1v2h-1zM984 227h1v1h-1zM985 228h1v2h-1zM986 230h1v2h-1zM987 232h1v2h-1zM988 234h1v1h-1zM989 235h1v2h-1zM990 237h1v2h-1zM991 239h1v2h-1zM992 241h1v3h-1zM993 244h1v2h-1zM994 246h1v2h-1zM995 248h1v2h-1zM996 250h1v2h-1zM997 252h1v2h-1zM998 254h1v1h-1zM999 255h1v2h-1zM1000 257h1v1h-1zM1001 258h1v1h-1zM1002 259h1v1h-1zM1003 260h1v1h-1zM1004 261h1v1h-1zM1005 262h1v1h-1zM1006 263h1v1h-1zM1007 264h1v1h-1zM1008 265h1v1h-1zM1009 266h1v2h-1zM1010 268h1v1h-1zM1011 269h1v2h-1zM1012 271h1v1h-1zM1013 272h1v2h-1zM1014 274h1v2h-1zM1015 276h1v2h-1zM1016 278h1v2h-1zM1017 280h1v2h-1zM1018 282h1v3h-1zM1019 285h1v2h-1zM1020 287h1v3h-1zM1021 290h1v2h-1zM1022 292h1v3h-1zM1023 295h1v2h-1zM1024 297h1v3h-1zM1025 300h1v3h-1zM1026 303h1v2h-1zM1027 305h1v3h-1zM1028 308h1v3h-1zM1029 311h1v3h-1zM1030 314h1v3h-1zM1031 317h1v3h-1zM1032 320h1v3h-1zM1033 323h1v4h-1zM1034 327h1v4h-1zM1035 331h1v4h-1zM1036 335h1v3h-1zM1037 338h1v3h-1zM1038 341h1v4h-1zM1039 345h1v3h-1zM1040 348h1v2h-1zM1041 350h1v2h-1zM1042 352h1v2h-1zM1043 354h1v2h-1zM1044 356h1v1h-1zM1045 357h1v1h-1zM1046 358h1v1h-1zM1047 359h1v1h-1zM1048 360h1v1h-1zM1049 361h1v1h-1zM1050 362h1v2h-1zM1051 364h1v1h-1zM1052 365h1v1h-1zM1053 366h1v1h-1zM1054 367h1v1h-1zM1055 367h1v1h-1zM1056 368h1v1h-1zM1057 369h1v1h-1zM1058 370h1v1h-1zM1059 371h1v1h-1zM1060 372h1v1h-1zM1061 373h1v1h-1zM1062 374h1v1h-1zM1063 375h1v1h-1zM1064 376h1v1h-1zM1065 377h1v1h-1zM1066 378h1v1h-1zM1067 379h1v1h-1zM1068 380h1v1h-1zM1069 381h1v1h-1zM1070 382h1v1h-1zM1071 382h1v1h-1zM1072 383h1v1h-1zM1073 383h1v1h-1zM1074 384h1v1h-1zM1075 384h1v1h-1zM1076 384h1v1h-1zM1077 384h1v1h-1zM1078 384h1v1h-1zM1079 384h1v1h-1zM1080 384h1v1h-1zM1081 385h1v1h-1zM1082 386h1v1h-1zM1083 386h1v1h-1zM1084 387h1v1h-1zM1085 388h1v1h-1zM1086 389h1v1h-1zM1087 389h1v1h-1zM1088 390h1v1h-1zM1089 390h1v1h-1zM1090 390h1v1h-1zM1091 390h1v1h-1zM1092 390h1v1h-1zM1093 390h1v1h-1zM1094 390h1v1h-1zM1095 390h1v1h-1zM1096 390h1v1h-1zM1097 389h1v1h-1zM1098 389h1v1h-1zM1099 388h1v1h-1zM1100 388h1v1h-1zM1101 387h1v1h-1zM1102 387h1v1h-1zM1103 386h1v1h-1zM1104 386h1v1h-1zM1105 385h1v1h-1zM1106 385h1v1h-1zM1107 384h1v1h-1zM1108 384h1v1h-1zM1109 384h1v1h-1zM1110 383h1v1h-1zM1111 383h1v1h-1zM1112 383h1v1h-1zM1113 382h1v1h-1zM1114 381h1v1h-1zM1115 380h1v1h-1zM1116 379h1v1h-1zM1117 378h1v1h-1zM1118 376h1v2h-1zM1119 375h1v1h-1zM1120 374h1v1h-1zM1121 373h1v1h-1zM1122 371h1v2h-1zM1123 370h1v1h-1zM1124 369h1v1h-1zM1125 368h1v1h-1zM1126 366h1v2h-1zM1127 365h1v1h-1zM1128 364h1v1h-1z" fill="#ff0000" shape-rendering="crispEdges"/>
<path d="M4 406h1v3h-1zM5 402h1v4h-1zM6 397h1v5h-1zM7 393h1v4h-1zM8 388h1v5h-1zM9 384h1v4h-1zM10 380h1v4h-1zM11 376h1v4h-1zM12 372h1v4h-1zM13 368h1v4h-1zM14 364h1v4h-1zM15 360h1v4h-1zM16 356h1v4h-1zM17 353h1v3h-1zM18 350h1v3h-1zM19 347h1v3h-1zM20 344h1v3h-1zM21 342h1v2h-1zM22 340h1v2h-1zM23 338h1v2h-1zM24 336h1v2h-1zM25 337h1v1h-1zM26 337h1v1h-1zM27 338h1v1h-1zM28 338h1v2h-1zM29 340h1v4h-1zM30 344h1v4h-1zM31 348h1v4h-1zM32 352h1v4h-1zM33 356h1v4h-1zM34 360h1v3h-1zM35 363h1v4h-1zM36 367h1v3h-1zM37 370h1v2h-1zM38 372h1v3h-1zM39 375h1v2h-1zM40 377h1v3h-1zM41 380h1v2h-1zM42 382h1v3h-1zM43 385h1v2h-1zM44 387h1v3h-1zM45 390h1v2h-1zM46 392h1v2h-1zM47 394h1v2h-1zM48 396h1v3h-1zM49 399h1v4h-1zM50 403h1v4h-1zM51 407h1v4h-1zM52 411h1v3h-1zM53 414h1v3h-1zM54 417h1v3h-1zM55 420h1v3h-1zM56 423h1v2h-1zM57 425h1v2h-1zM58 427h1v2h-1zM59 429h1v2h-1zM60 431h1v2h-1zM61 433h1v2h-1zM62 435h1v2h-1zM63 437h1v2h-1zM64 439h1v2h-1zM65 441h1v2h-1zM66 443h1v2h-1zM67 445h1v2h-1zM68 447h1v2h-1zM69 449h1v2h-1zM70 451h1v2h-1zM71 453h1v2h-1zM72 455h1v2h-1zM73 457h1v2h-1zM74 459h1v2h-1zM75 461h1v2h-1zM76 463h1v2h-1zM77 463h1v1h-1zM78 461h1v2h-1zM79 460h1v1h-1zM80 458h1v2h-1zM81 456h1v2h-1zM82 454h1v2h-1zM83 452h1v2h-1zM84 450h1v2h-1zM85 450h1v1h-1zM86 449h1v1h-1zM87 449h1v1h-1zM88 449h1v1h-1zM89 450h1v2h-1zM90 452h1v2h-1zM91 454h1v2h-1zM92 456h1v2h-1zM93 458h1v2h-1zM94 460h1v2h-1zM95 462h1v2h-1zM96 464h1v3h-1zM97 467h1v2h-1zM98 469h1v3h-1zM99 472h1v2h-1zM100 474h1v2h-1zM101 476h1v2h-1zM102 478h1v1h-1zM103 479h1v2h-1zM104 481h1v2h-1zM105 483h1v2h-1zM106 485h1v3h-1zM107 488h1v2h-1zM108 490h1v2h-1zM109 492h1v2h-1zM110 494h1v2h-1zM111 496h1v2h-1zM112 498h1v1h-1zM113 497h1v1h-1zM114 497h1v1h-1zM115 496h1v1h-1zM116 495h1v2h-1zM117 493h1v2h-1zM118 490h1v3h-1zM119 488h1v2h-1zM120 485h1v3h-1zM121 483h1v2h-1zM122 480h1v3h-1zM123 478h1v2h-1zM124 474h1v4h-1zM125 469h1v5h-1zM126 465h1v4h-1zM127 460h1v5h-1zM128 456h1v4h-1zM129 453h1v3h-1zM130 450h1v3h-1zM131 447h1v3h-1zM132 444h1v3h-1zM133 442h1v2h-1zM134 439h1v3h-1zM135 437h1v2h-1zM136 435h1v2h-1zM137 433h1v2h-1zM138 431h1v2h-1zM139 429h1v2h-1zM140 428h1v1h-1zM141 427h1v1h-1zM142 426h1v1h-1zM143 426h1v1h-1zM144 425h1v1h-1zM145 425h1v1h-1zM146 426h1v1h-1zM147 426h1v1h-1zM148 426h1v1h-1zM149 424h1v2h-1zM150 422h1v2h-1zM151 420h1v2h-1zM152 419h1v1h-1zM153 418h1v1h-1zM154 418h1v1h-1zM155 417h1v1h-1zM156 417h1v1h-1zM157 415h1v2h-1zM158 413h1v2h-1zM159 411h1v2h-1zM160 410h1v1h-1zM161 409h1v1h-1zM162 408h1v1h-1zM163 407h1v1h-1zM164 406h1v1h-1zM165 404h1v2h-1zM166 403h1v1h-1zM167 401h1v2h-1zM168 400h1v1h-1zM169 398h1v2h-1zM170 396h1v2h-1zM171 394h1v2h-1zM172 392h1v2h-1zM173 390h1v2h-1zM174 388h1v2h-1zM175 386h1v2h-1zM176 384h1v2h-1zM177 383h1v1h-1zM178 381h1v2h-1zM179 380h1v1h-1zM180 379h1v1h-1zM181 379h1v1h-1zM182 379h1v1h-1zM183 379h1v1h-1zM184 379h1v1h-1zM185 379h1v1h-1zM186 380h1v1h-1zM187 380h1v1h-1zM188 380h1v1h-1zM189 379h1v1h-1zM190 379h1v1h-1zM191 378h1v1h-1zM192 378h1v1h-1zM193 377h1v1h-1zM194 377h1v1h-1zM195 376h1v1h-1zM196 376h1v1h-1zM197 374h1v2h-1zM198 373h1v1h-1zM199 371h1v2h-1zM200 370h1v1h-1zM201 369h1v1h-1zM202 368h1v1h-1zM203 367h1v1h-1zM204 366h1v1h-1zM205 365h1v1h-1zM206 365h1v1h-1zM207 364h1v1h-1zM208 364h1v1h-1zM209 364h1v1h-1zM210 363h1v1h-1zM211 363h1v1h-1zM212 363h1v1h-1zM213 363h1v1h-1zM214 362h1v1h-1zM215 362h1v1h-1zM216 362h1v1h-1zM217 362h1v1h-1zM218 363h1v1h-1zM219 363h1v1h-1zM220 363h1v1h-1zM221 363h1v1h-1zM222 363h1v1h-1zM223 363h1v1h-1zM224 363h1v1h-1zM225 364h1v1h-1zM226 364h1v1h-1zM227 365h1v1h-1zM228 364h1v2h-1zM229 362h1v2h-1zM230 359h1v3h-1zM231 357h1v2h-1zM232 355h1v2h-1zM233 353h1v2h-1zM234 352h1v1h-1zM235 350h1v2h-1zM236 348h1v2h-1zM237 345h1v3h-1zM238 342h1v3h-1zM239 339h1v3h-1zM240 336h1v3h-1zM241 334h1v2h-1zM242 332h1v2h-1zM243 330h1v2h-1zM244 327h1v3h-1zM245 324h1v3h-1zM246 322h1v2h-1zM247 319h1v3h-1zM248 317h1v2h-1zM249 316h1v1h-1zM250 315h1v1h-1zM251 315h1v1h-1zM252 314h1v1h-1zM253 313h1v1h-1zM254 313h1v1h-1zM255 312h1v1h-1zM256 312h1v1h-1zM257 313h1v1h-1zM258 314h1v2h-1zM259 316h1v1h-1zM260 317h1v1h-1zM261 318h1v1h-1zM262 318h1v1h-1zM263 319h1v1h-1zM264 319h1v1h-1zM265 318h1v1h-1zM266 316h1v2h-1zM267 315h1v1h-1zM268 314h1v1h-1zM269 313h1v1h-1zM270 312h1v1h-1zM271 312h1v1h-1zM272 311h1v1h-1zM273 312h1v1h-1zM274 313h1v2h-1zM275 315h1v1h-1zM276 316h1v1h-1zM277 314h1v2h-1zM278 312h1v2h-1zM279 310h1v2h-1zM280 308h1v2h-1zM281 307h1v1h-1zM282 305h1v2h-1zM283 304h1v1h-1zM284 302h1v2h-1zM285 300h1v2h-1zM286 298h1v2h-1zM287 296h1v2h-1zM288 293h1v3h-1zM289 291h1v2h-1zM290 288h1v3h-1zM291 286h1v2h-1zM292 284h1v2h-1zM293 285h1v1h-1zM294 285h1v1h-1zM295 286h1v1h-1zM296 286h1v1h-1zM297 285h1v1h-1zM298 285h1v1h-1zM299 284h1v1h-1zM300 284h1v1h-1zM301 282h1v2h-1zM302 280h1v2h-1zM303 278h1v2h-1zM304 276h1v2h-1zM305 276h1v1h-1zM306 275h1v1h-1zM307 275h1v1h-1zM308 275h1v1h-1zM309 276h1v1h-1zM310 277h1v1h-1zM311 277h1v1h-1zM312 278h1v1h-1zM313 278h1v1h-1zM314 277h1v1h-1zM315 277h1v1h-1zM316 277h1v1h-1zM317 276h1v1h-1zM318 274h1v2h-1zM319 273h1v1h-1zM320 271h1v2h-1zM321 269h1v2h-1zM322 267h1v2h-1zM323 265h1v2h-1zM324 263h1v2h-1zM325 262h1v1h-1zM326 262h1v1h-1zM327 261h1v1h-1zM328 261h1v1h-1zM329 260h1v1h-1zM330 259h1v1h-1zM331 259h1v1h-1zM332 257h1v2h-1zM333 255h1v2h-1zM334 252h1v3h-1zM335 250h1v2h-1zM336 247h1v3h-1zM337 243h1v4h-1zM338 239h1v4h-1zM339 235h1v4h-1zM340 233h1v2h-1zM341 231h1v2h-1zM342 229h1v2h-1zM343 227h1v2h-1zM344 226h1v1h-1zM345 226h1v1h-1zM346 225h1v1h-1zM347 225h1v1h-1zM348 225h1v1h-1zM349 225h1v1h-1zM350 226h1v1h-1zM351 226h1v1h-1zM352 226h1v1h-1zM353 224h1v2h-1zM354 222h1v2h-1zM355 220h1v2h-1zM356 219h1v1h-1zM357 217h1v2h-1zM358 215h1v2h-1zM359 213h1v2h-1zM360 212h1v1h-1zM361 211h1v1h-1zM362 209h1v2h-1zM363 208h1v1h-1zM364 207h1v1h-1zM365 205h1v2h-1zM366 203h1v2h-1zM367 201h1v2h-1zM368 198h1v3h-1zM369 195h1v3h-1zM370 192h1v3h-1zM371 189h1v3h-1zM372 185h1v4h-1zM373 181h1v4h-1zM374 177h1v4h-1zM375 173h1v4h-1zM376 168h1v5h-1zM377 164h1v4h-1zM378 159h1v5h-1zM379 155h1v4h-1zM380 150h1v5h-1zM381 146h1v4h-1zM382 142h1v4h-1zM383 138h1v4h-1zM384 134h1v4h-1zM385 131h1v3h-1zM386 127h1v4h-1zM387 124h1v3h-1zM388 121h1v3h-1zM389 119h1v2h-1zM390 116h1v3h-1zM391 114h1v2h-1zM392 111h1v3h-1zM393 108h1v3h-1zM394 106h1v2h-1zM395 103h1v3h-1zM396 100h1v3h-1zM397 97h1v3h-1zM398 94h1v3h-1zM399 91h1v3h-1zM400 89h1v2h-1zM401 88h1v1h-1zM402 88h1v1h-1zM403 87h1v1h-1zM404 87h1v1h-1zM405 86h1v1h-1zM406 85h1v1h-1zM407 85h1v1h-1zM408 84h1v1h-1zM409 83h1v1h-1zM410 82h1v1h-1zM411 82h1v1h-1zM412 81h1v1h-1zM413 80h1v1h-1zM414 79h1v1h-1zM415 79h1v1h-1zM416 78h1v1h-1zM417 79h1v2h-1zM418 81h1v2h-1zM419 83h1v2h-1zM420 85h1v3h-1zM421 88h1v5h-1zM422 93h1v4h-1zM423 97h1v5h-1zM424 102h1v5h-1zM425 107h1v5h-1zM426 112h1v6h-1zM427 118h1v5h-1zM428 123h1v6h-1zM429 129h1v7h-1zM430 136h1v6h-1zM431 142h1v7h-1zM432 149h1v7h-1zM433 156h1v8h-1zM434 164h1v7h-1zM435 171h1v8h-1zM436 179h1v8h-1zM437 187h1v8h-1zM438 195h1v9h-1zM439 204h1v8h-1zM440 212h1v8h-1zM441 220h1v8h-1zM442 228h1v8h-1zM443 236h1v8h-1zM444 244h1v6h-1zM445 250h1v4h-1zM446 254h1v4h-1zM447 258h1v4h-1zM448 262h1v4h-1zM449 266h1v2h-1zM450 268h1v3h-1zM451 271h1v2h-1zM452 273h1v2h-1zM453 275h1v2h-1zM454 277h1v2h-1zM455 279h1v2h-1zM456 281h1v2h-1zM457 283h1v1h-1zM458 284h1v1h-1zM459 284h1v1h-1zM460 285h1v1h-1zM461 285h1v1h-1zM462 284h1v1h-1zM463 284h1v1h-1zM464 284h1v1h-1zM465 282h1v2h-1zM466 281h1v1h-1zM467 279h1v2h-1zM468 278h1v1h-1zM469 277h1v1h-1zM470 276h1v1h-1zM471 276h1v1h-1zM472 275h1v1h-1zM473 275h1v1h-1zM474 275h1v1h-1zM475 275h1v1h-1zM476 275h1v1h-1zM477 274h1v1h-1zM478 274h1v1h-1zM479 273h1v1h-1zM480 273h1v1h-1zM481 271h1v2h-1zM482 269h1v2h-1zM483 267h1v2h-1zM484 266h1v1h-1zM485 264h1v2h-1zM486 263h1v1h-1zM487 261h1v2h-1zM488 260h1v1h-1zM489 258h1v2h-1zM490 256h1v2h-1zM491 254h1v2h-1zM492 252h1v2h-1zM493 253h1v1h-1zM494 254h1v2h-1zM495 256h1v1h-1zM496 257h1v1h-1zM497 258h1v1h-1zM498 259h1v1h-1zM499 260h1v1h-1zM500 261h1v1h-1zM501 261h1v1h-1zM502 262h1v1h-1zM503 262h1v1h-1zM504 262h1v1h-1zM505 263h1v1h-1zM506 263h1v1h-1zM507 264h1v1h-1zM508 264h1v3h-1zM509 267h1v4h-1zM510 271h1v4h-1zM511 275h1v4h-1zM512 279h1v5h-1zM513 284h1v4h-1zM514 288h1v4h-1zM515 292h1v4h-1zM516 296h1v5h-1zM517 301h1v6h-1zM518 307h1v5h-1zM519 312h1v6h-1zM520 318h1v4h-1zM521 322h1v2h-1zM522 324h1v3h-1zM523 327h1v2h-1zM524 329h1v2h-1zM525 331h1v2h-1zM526 333h1v2h-1zM527 335h1v2h-1zM528 337h1v3h-1zM529 340h1v3h-1zM530 343h1v2h-1zM531 345h1v3h-1zM532 348h1v2h-1zM533 350h1v1h-1zM534 351h1v2h-1zM535 353h1v1h-1zM536 353h1v2h-1zM537 349h1v4h-1zM538 346h1v3h-1zM539 342h1v4h-1zM540 339h1v3h-1zM541 336h1v3h-1zM542 333h1v3h-1zM543 330h1v3h-1zM544 327h1v3h-1zM545 323h1v4h-1zM546 319h1v4h-1zM547 315h1v4h-1zM548 312h1v3h-1zM549 308h1v4h-1zM550 304h1v4h-1zM551 300h1v4h-1zM552 296h1v4h-1zM553 293h1v3h-1zM554 290h1v3h-1zM555 287h1v3h-1zM556 284h1v3h-1zM557 281h1v3h-1zM558 279h1v2h-1zM559 276h1v3h-1zM560 274h1v2h-1zM561 272h1v2h-1zM562 270h1v2h-1zM563 268h1v2h-1zM564 267h1v1h-1zM565 268h1v1h-1zM566 269h1v1h-1zM567 270h1v1h-1zM568 271h1v1h-1zM569 272h1v1h-1zM570 272h1v1h-1zM571 273h1v1h-1zM572 273h1v1h-1zM573 274h1v1h-1zM574 275h1v1h-1zM575 276h1v1h-1zM576 277h1v1h-1zM577 278h1v2h-1zM578 280h1v2h-1zM579 282h1v2h-1zM580 284h1v2h-1zM581 286h1v2h-1zM582 288h1v2h-1zM583 290h1v2h-1zM584 292h1v1h-1zM585 293h1v1h-1zM586 294h1v1h-1zM587 295h1v1h-1zM588 296h1v2h-1zM589 298h1v3h-1zM590 301h1v4h-1zM591 305h1v3h-1zM592 308h1v3h-1zM593 311h1v3h-1zM594 314h1v3h-1zM595 317h1v3h-1zM596 320h1v2h-1zM597 322h1v1h-1zM598 323h1v1h-1zM599 324h1v1h-1zM600 325h1v1h-1zM601 326h1v1h-1zM602 327h1v2h-1zM603 329h1v1h-1zM604 330h1v1h-1zM605 331h1v1h-1zM606 332h1v2h-1zM607 334h1v1h-1zM608 335h1v1h-1zM609 335h1v1h-1zM610 334h1v1h-1zM611 334h1v1h-1zM612 334h1v1h-1zM613 332h1v2h-1zM614 330h1v2h-1zM615 328h1v2h-1zM616 326h1v2h-1zM617 323h1v3h-1zM618 320h1v3h-1zM619 317h1v3h-1zM620 314h1v3h-1zM621 310h1v4h-1zM622 307h1v3h-1zM623 303h1v4h-1zM624 300h1v3h-1zM625 296h1v4h-1zM626 293h1v3h-1zM627 289h1v4h-1zM628 285h1v4h-1zM629 279h1v6h-1zM630 273h1v6h-1zM631 267h1v6h-1zM632 262h1v5h-1zM633 256h1v6h-1zM634 250h1v6h-1zM635 244h1v6h-1zM636 238h1v6h-1zM637 234h1v4h-1zM638 229h1v5h-1zM639 225h1v4h-1zM640 221h1v4h-1zM641 219h1v2h-1zM642 216h1v3h-1zM643 214h1v2h-1zM644 212h1v2h-1zM645 210h1v2h-1zM646 208h1v2h-1zM647 206h1v2h-1zM648 204h1v2h-1zM649 203h1v1h-1zM650 202h1v1h-1zM651 201h1v1h-1zM652 200h1v1h-1zM653 201h1v1h-1zM654 202h1v2h-1zM655 204h1v1h-1zM656 205h1v2h-1zM657 207h1v2h-1zM658 209h1v2h-1zM659 211h1v2h-1zM660 213h1v2h-1zM661 215h1v2h-1zM662 217h1v2h-1zM663 219h1v2h-1zM664 221h1v2h-1zM665 223h1v2h-1zM666 225h1v1h-1zM667 226h1v2h-1zM668 228h1v1h-1zM669 229h1v2h-1zM670 231h1v1h-1zM671 232h1v2h-1zM672 234h1v2h-1zM673 236h1v2h-1zM674 238h1v2h-1zM675 240h1v2h-1zM676 242h1v2h-1zM677 244h1v2h-1zM678 246h1v1h-1zM679 247h1v2h-1zM680 249h1v1h-1zM681 247h1v2h-1zM682 246h1v1h-1zM683 244h1v2h-1zM684 243h1v1h-1zM685 241h1v2h-1zM686 239h1v2h-1zM687 237h1v2h-1zM688 236h1v1h-1zM689 235h1v1h-1zM690 233h1v2h-1zM691 232h1v1h-1zM692 231h1v1h-1zM693 230h1v1h-1zM694 228h1v2h-1zM695 227h1v1h-1zM696 226h1v1h-1zM697 225h1v1h-1zM698 224h1v1h-1zM699 224h1v1h-1zM700 222h1v2h-1zM701 219h1v3h-1zM702 217h1v2h-1zM703 214h1v3h-1zM704 211h1v3h-1zM705 208h1v3h-1zM706 205h1v3h-1zM707 202h1v3h-1zM708 200h1v2h-1zM709 200h1v1h-1zM710 201h1v1h-1zM711 201h1v1h-1zM712 201h1v1h-1zM713 202h1v1h-1zM714 203h1v2h-1zM715 205h1v1h-1zM716 206h1v2h-1zM717 208h1v2h-1zM718 210h1v2h-1zM719 212h1v2h-1zM720 214h1v2h-1zM721 216h1v1h-1zM722 217h1v1h-1zM723 218h1v1h-1zM724 219h1v1h-1zM725 220h1v1h-1zM726 221h1v1h-1zM727 221h1v1h-1zM728 222h1v1h-1zM729 223h1v1h-1zM730 224h1v1h-1zM731 225h1v1h-1zM732 226h1v1h-1zM733 227h1v1h-1zM734 228h1v1h-1zM735 228h1v1h-1zM736 229h1v1h-1zM737 229h1v1h-1zM738 228h1v1h-1zM739 228h1v1h-1zM740 228h1v1h-1zM741 229h1v1h-1zM742 230h1v1h-1zM743 230h1v1h-1zM744 231h1v1h-1zM745 230h1v1h-1zM746 230h1v1h-1zM747 229h1v1h-1zM748 229h1v1h-1zM749 230h1v1h-1zM750 230h1v1h-1zM751 231h1v1h-1zM752 231h1v1h-1zM753 230h1v1h-1zM754 230h1v1h-1zM755 229h1v1h-1zM756 229h1v1h-1zM757 230h1v1h-1zM758 230h1v1h-1zM759 231h1v1h-1zM760 231h1v1h-1zM761 232h1v1h-1zM762 233h1v2h-1zM763 235h1v1h-1zM764 236h1v1h-1zM765 236h1v1h-1zM766 236h1v1h-1zM767 236h1v1h-1zM768 236h1v1h-1zM769 235h1v1h-1zM770 234h1v1h-1zM771 233h1v1h-1zM772 232h1v1h-1zM773 232h1v1h-1zM774 231h1v1h-1zM775 231h1v1h-1zM776 231h1v1h-1zM777 230h1v1h-1zM778 228h1v2h-1zM779 227h1v1h-1zM780 226h1v1h-1zM781 226h1v1h-1zM782 226h1v1h-1zM783 226h1v1h-1zM784 226h1v1h-1zM785 226h1v1h-1zM786 225h1v1h-1zM787 225h1v1h-1zM788 225h1v1h-1zM789 223h1v2h-1zM790 221h1v2h-1zM791 219h1v2h-1zM792 216h1v3h-1zM793 214h1v2h-1zM794 211h1v3h-1zM795 209h1v2h-1zM796 206h1v3h-1zM797 204h1v2h-1zM798 202h1v2h-1zM799 200h1v2h-1zM800 197h1v3h-1zM801 195h1v2h-1zM802 193h1v2h-1zM803 191h1v2h-1zM804 189h1v2h-1zM805 187h1v2h-1zM806 185h1v2h-1zM807 183h1v2h-1zM808 181h1v2h-1zM809 180h1v1h-1zM810 178h1v2h-1zM811 177h1v1h-1zM812 176h1v1h-1zM813 175h1v1h-1zM814 174h1v1h-1zM815 173h1v1h-1zM816 172h1v1h-1zM817 172h1v1h-1zM818 172h1v1h-1zM819 172h1v1h-1zM820 172h1v1h-1zM821 172h1v1h-1zM822 173h1v1h-1zM823 173h1v1h-1zM824 173h1v1h-1zM825 174h1v1h-1zM826 175h1v2h-1zM827 177h1v1h-1zM828 178h1v1h-1zM829 178h1v1h-1zM830 177h1v1h-1zM831 177h1v1h-1zM832 177h1v1h-1zM833 177h1v1h-1zM834 178h1v1h-1zM835 178h1v1h-1zM836 178h1v1h-1zM837 177h1v1h-1zM838 177h1v1h-1zM839 176h1v1h-1zM840 176h1v1h-1zM841 174h1v2h-1zM842 172h1v2h-1zM843 170h1v2h-1zM844 169h1v1h-1zM845 168h1v1h-1zM846 168h1v1h-1zM847 167h1v1h-1zM848 167h1v1h-1zM849 168h1v1h-1zM850 169h1v1h-1zM851 170h1v1h-1zM852 171h1v1h-1zM853 171h1v1h-1zM854 170h1v1h-1zM855 170h1v1h-1zM856 170h1v1h-1zM857 170h1v1h-1zM858 169h1v1h-1zM859 169h1v1h-1zM860 169h1v1h-1zM861 169h1v1h-1zM862 168h1v1h-1zM863 168h1v1h-1zM864 168h1v1h-1zM865 169h1v1h-1zM866 170h1v1h-1zM867 170h1v1h-1zM868 171h1v1h-1zM869 171h1v1h-1zM870 172h1v1h-1zM871 172h1v1h-1zM872 172h1v1h-1zM873 172h1v1h-1zM874 173h1v1h-1zM875 173h1v1h-1zM876 173h1v1h-1zM877 172h1v1h-1zM878 172h1v1h-1zM879 171h1v1h-1zM880 171h1v1h-1zM881 172h1v1h-1zM882 172h1v1h-1zM883 173h1v1h-1zM884 173h1v1h-1zM885 174h1v2h-1zM886 176h1v1h-1zM887 177h1v2h-1zM888 179h1v1h-1zM889 180h1v1h-1zM890 180h1v1h-1zM891 181h1v1h-1zM892 181h1v1h-1zM893 180h1v1h-1zM894 179h1v1h-1zM895 179h1v1h-1zM896 178h1v1h-1zM897 179h1v1h-1zM898 179h1v1h-1zM899 180h1v1h-1zM900 180h1v1h-1zM901 180h1v1h-1zM902 180h1v1h-1zM903 180h1v1h-1zM904 180h1v1h-1zM905 180h1v1h-1zM906 181h1v1h-1zM907 181h1v1h-1zM908 181h1v1h-1zM909 179h1v2h-1zM910 178h1v1h-1zM911 176h1v2h-1zM912 174h1v2h-1zM913 172h1v2h-1zM914 170h1v2h-1zM915 168h1v2h-1zM916 166h1v2h-1zM917 164h1v2h-1zM918 162h1v2h-1zM919 160h1v2h-1zM920 159h1v1h-1zM921 158h1v1h-1zM922 157h1v1h-1zM923 156h1v1h-1zM924 155h1v1h-1zM925 153h1v2h-1zM926 152h1v1h-1zM927 150h1v2h-1zM928 149h1v1h-1zM929 149h1v1h-1zM930 149h1v1h-1zM931 149h1v1h-1zM932 149h1v1h-1zM933 150h1v1h-1zM934 151h1v1h-1zM935 152h1v1h-1zM936 153h1v1h-1zM937 154h1v1h-1zM938 155h1v2h-1zM939 157h1v1h-1zM940 158h1v2h-1zM941 160h1v3h-1zM942 163h1v4h-1zM943 167h1v3h-1zM944 170h1v4h-1zM945 174h1v5h-1zM946 179h1v6h-1zM947 185h1v5h-1zM948 190h1v5h-1zM949 195h1v5h-1zM950 200h1v5h-1zM951 205h1v5h-1zM952 210h1v5h-1zM953 215h1v5h-1zM954 220h1v6h-1zM955 226h1v5h-1zM956 231h1v4h-1zM957 235h1v3h-1zM958 238h1v4h-1zM959 242h1v3h-1zM960 245h1v2h-1zM961 247h1v1h-1zM962 248h1v1h-1zM963 249h1v1h-1zM964 250h1v1h-1zM965 251h1v2h-1zM966 253h1v2h-1zM967 255h1v2h-1zM968 257h1v2h-1zM969 257h1v1h-1zM970 255h1v2h-1zM971 254h1v1h-1zM972 252h1v2h-1zM973 249h1v3h-1zM974 247h1v2h-1zM975 244h1v3h-1zM976 241h1v3h-1zM977 238h1v3h-1zM978 235h1v3h-1zM979 232h1v3h-1zM980 229h1v3h-1zM981 227h1v2h-1zM982 225h1v2h-1zM983 223h1v2h-1zM984 221h1v2h-1zM985 221h1v1h-1zM986 221h1v1h-1zM987 221h1v1h-1zM988 221h1v2h-1zM989 223h1v3h-1zM990 226h1v4h-1zM991 230h1v3h-1zM992 233h1v3h-1zM993 236h1v2h-1zM994 238h1v3h-1zM995 241h1v2h-1zM996 243h1v4h-1zM997 247h1v4h-1zM998 251h1v4h-1zM999 255h1v4h-1zM1000 259h1v5h-1zM1001 264h1v5h-1zM1002 269h1v4h-1zM1003 273h1v5h-1zM1004 278h1v5h-1zM1005 283h1v5h-1zM1006 288h1v5h-1zM1007 293h1v5h-1zM1008 298h1v5h-1zM1009 303h1v5h-1zM1010 308h1v5h-1zM1011 313h1v5h-1zM1012 318h1v4h-1zM1013 322h1v4h-1zM1014 326h1v3h-1zM1015 329h1v4h-1zM1016 333h1v2h-1zM1017 335h1v2h-1zM1018 337h1v2h-1zM1019 339h1v2h-1zM1020 341h1v3h-1zM1021 344h1v2h-1zM1022 346h1v2h-1zM1023 348h1v2h-1zM1024 350h1v2h-1zM1025 352h1v2h-1zM1026 354h1v1h-1zM1027 355h1v2h-1zM1028 357h1v1h-1zM1029 358h1v2h-1zM1030 360h1v1h-1zM1031 361h1v2h-1zM1032 363h1v2h-1zM1033 365h1v2h-1zM1034 367h1v2h-1zM1035 369h1v2h-1zM1036 371h1v2h-1zM1037 373h1v2h-1zM1038 375h1v1h-1zM1039 376h1v2h-1zM1040 378h1v1h-1zM1041 378h1v1h-1zM1042 379h1v1h-1zM1043 379h1v1h-1zM1044 379h1v1h-1zM1045 379h1v1h-1zM1046 379h1v1h-1zM1047 379h1v1h-1zM1048 379h1v1h-1zM1049 379h1v1h-1zM1050 378h1v1h-1zM1051 378h1v1h-1zM1052 378h1v1h-1zM1053 378h1v1h-1zM1054 379h1v1h-1zM1055 379h1v1h-1zM1056 379h1v1h-1zM1057 380h1v1h-1zM1058 380h1v1h-1zM1059 381h1v1h-1zM1060 381h1v1h-1zM1061 381h1v1h-1zM1062 381h1v1h-1zM1063 381h1v1h-1zM1064 381h1v1h-1zM1065 381h1v1h-1zM1066 382h1v1h-1zM1067 382h1v1h-1zM1068 382h1v1h-1zM1069 383h1v1h-1zM1070 384h1v1h-1zM1071 385h1v1h-1zM1072 386h1v1h-1zM1073 387h1v1h-1zM1074 387h1v1h-1zM1075 388h1v1h-1zM1076 388h1v1h-1zM1077 389h1v1h-1zM1078 389h1v1h-1zM1079 390h1v1h-1zM1080 390h1v1h-1zM1081 391h1v2h-1zM1082 393h1v1h-1zM1083 394h1v2h-1zM1084 396h1v1h-1zM1085 397h1v1h-1zM1086 398h1v1h-1zM1087 398h1v1h-1zM1088 399h1v1h-1zM1089 399h1v1h-1zM1090 400h1v1h-1zM1091 400h1v1h-1zM1092 400h1v1h-1zM1093 399h1v1h-1zM1094 399h1v1h-1zM1095 398h1v1h-1zM1096 398h1v1h-1zM1097 396h1v2h-1zM1098 394h1v2h-1zM1099 392h1v2h-1zM1100 390h1v2h-1zM1101 388h1v2h-1zM1102 386h1v2h-1zM1103 384h1v2h-1zM1104 383h1v1h-1zM1105 382h1v1h-1zM1106 380h1v2h-1zM1107 379h1v1h-1zM1108 377h1v2h-1zM1109 375h1v2h-1zM1110 373h1v2h-1zM1111 371h1v2h-1zM1112 368h1v3h-1zM1113 365h1v3h-1zM1114 363h1v2h-1zM1115 360h1v3h-1zM1116 357h1v3h-1zM1117 355h1v2h-1zM1118 353h1v2h-1zM1119 351h1v2h-1zM1120 348h1v3h-1zM1121 346h1v2h-1zM1122 344h1v2h-1zM1123 342h1v2h-1zM1124 340h1v2h-1zM1125 339h1v1h-1zM1126 338h1v1h-1zM1127 338h1v1h-1zM1128 337h1v1h-1z" fill="#0000ff" shape-rendering="crispEdges"/>
<g shape-rendering="crispEdges">
<rect x="4" y="189" width="1415" height="3" fill="#ff0000"/>
<rect x="4" y="274" width="1415" height="3" fill="#ff0000"/>
<rect x="4" y="324" width="1415" height="3" fill="#00ff00"/>
<rect x="4" y="426" width="1415" height="3" fill="#0000ff"/>
</g>
<g shape-rendering="crispEdges">
<rect x="4" y="620" width="1" height="2" fill="#c0c0c0"/>
<rect x="8" y="615" width="1" height="7" fill="#c0c0c0"/>
<rect x="12" y="613" width="1" height="9" fill="#c0c0c0"/>
<rect x="16" y="610" width="1" height="12" fill="#c0c0c0"/>
<rect x="20" y="608" width="1" height="14" fill="#c0c0c0"/>
<rect x="24" y="606" width="1" height="16" fill="#c0c0c0"/>
<rect x="28" y="609" width="1" height="13" fill="#c0c0c0"/>
<rect x="32" y="615" width="1" height="7" fill="#c0c0c0"/>
<rect x="36" y="619" width="1" height="3" fill="#c0c0c0"/>
<rect x="40" y="621" width="1" height="1" fill="#c0c0c0"/>
<rect x="44" y="621" width="1" height="2" fill="#c0c0c0"/>
<rect x="48" y="621" width="1" height="2" fill="#c0c0c0"/>
<rect x="52" y="621" width="1" height="6" fill="#c0c0c0"/>
<rect x="56" y="621" width="1" height="11" fill="#c0c0c0"/>
<rect x="60" y="621" width="1" height="16" fill="#c0c0c0"/>
<rect x="64" y="621" width="1" height="18" fill="#c0c0c0"/>
<rect x="68" y="621" width="1" height="20" fill="#c0c0c0"/>
<rect x="72" y="621" width="1" height="20" fill="#c0c0c0"/>
<rect x="76" y="621" width="1" height="20" fill="#c0c0c0"/>
<rect x="80" y="621" width="1" height="16" fill="#c0c0c0"/>
<rect x="84" y="621" width="1" height="13" fill="#c0c0c0"/>
<rect x="88" y="621" width="1" height="15" fill="#c0c0c0"/>
<rect x="92" y="621" width="1" height="20" fill="#c0c0c0"/>
<rect x="96" y="621" width="1" height="25" fill="#c0c0c0"/>
<rect x="100" y="621" width="1" height="28" fill="#c0c0c0"/>
<rect x="104" y="621" width="1" height="27" fill="#c0c0c0"/>
<rect x="108" y="621" width="1" height="25" fill="#c0c0c0"/>
<rect x="112" y="621" width="1" height="22" fill="#c0c0c0"/>
<rect x="116" y="621" width="1" height="20" fill="#c0c0c0"/>
<rect x="120" y="621" width="1" height="17" fill="#c0c0c0"/>
<rect x="124" y="621" width="1" height="15" fill="#c0c0c0"/>
<rect x="128" y="621" width="1" height="9" fill="#c0c0c0"/>
<rect x="132" y="621" width="1" height="5" fill="#c0c0c0"/>
<rect x="136" y="621" width="1" height="1" fill="#c0c0c0"/>
<rect x="140" y="619" width="1" height="3" fill="#c0c0c0"/>
<rect x="144" y="619" width="1" height="3" fill="#c0c0c0"/>
<rect x="148" y="621" width="1" height="1" fill="#c0c0c0"/>
<rect x="152" y="619" width="1" height="3" fill="#c0c0c0"/>
<rect x="156" y="615" width="1" height="7" fill="#c0c0c0"/>
<rect x="160" y="611" width="1" height="11" fill="#c0c0c0"/>
<rect x="164" y="608" width="1" height="14" fill="#c0c0c0"/>
<rect x="168" y="606" width="1" height="16" fill="#c0c0c0"/>
<rect x="172" y="606" width="1" height="16" fill="#c0c0c0"/>
<rect x="176" y="607" width="1" height="15" fill="#c0c0c0"/>
<rect x="180" y="607" width="1" height="15" fill="#c0c0c0"/>
<rect x="184" y="606" width="1" height="16" fill="#c0c0c0"/>
<rect x="188" y="606" width="1" height="16" fill="#c0c0c0"/>
<rect x="192" y="604" width="1" height="18" fill="#c0c0c0"/>
<rect x="196" y="603" width="1" height="19" fill="#c0c0c0"/>
<rect x="200" y="601" width="1" height="21" fill="#c0c0c0"/>
<rect x="204" y="603" width="1" height="19" fill="#c0c0c0"/>
<rect x="208" y="604" width="1" height="18" fill="#c0c0c0"/>
<rect x="212" y="605" width="1" height="17" fill="#c0c0c0"/>
<rect x="216" y="605" width="1" height="17" fill="#c0c0c0"/>
<rect x="220" y="606" width="1" height="16" fill="#c0c0c0"/>
<rect x="224" y="606" width="1" height="16" fill="#c0c0c0"/>
<rect x="228" y="606" width="1" height="16" fill="#c0c0c0"/>
<rect x="232" y="603" width="1" height="19" fill="#c0c0c0"/>
<rect x="236" y="601" width="1" height="21" fill="#c0c0c0"/>
<rect x="240" y="598" width="1" height="24" fill="#c0c0c0"/>
<rect x="244" y="597" width="1" height="25" fill="#c0c0c0"/>
<rect x="248" y="595" width="1" height="27" fill="#c0c0c0"/>
<rect x="252" y="598" width="1" height="24" fill="#c0c0c0"/>
<rect x="256" y="600" width="1" height="22" fill="#c0c0c0"/>
<rect x="260" y="603" width="1" height="19" fill="#c0c0c0"/>
<rect x="264" y="604" width="1" height="18" fill="#c0c0c0"/>
<rect x="268" y="599" width="1" height="23" fill="#c0c0c0"/>
<rect x="272" y="599" width="1" height="23" fill="#c0c0c0"/>
<rect x="276" y="601" width="1" height="21" fill="#c0c0c0"/>
<rect x="280" y="600" width="1" height="22" fill="#c0c0c0"/>
<rect x="284" y="600" width="1" height="22" fill="#c0c0c0"/>
<rect x="288" y="600" width="1" height="22" fill="#c0c0c0"/>
<rect x="292" y="598" width="1" height="24" fill="#c0c0c0"/>
<rect x="296" y="598" width="1" height="24" fill="#c0c0c0"/>
<rect x="300" y="598" width="1" height="24" fill="#c0c0c0"/>
<rect x="304" y="598" width="1" height="24" fill="#c0c0c0"/>
<rect x="308" y="599" width="1" height="23" fill="#c0c0c0"/>
<rect x="312" y="603" width="1" height="19" fill="#c0c0c0"/>
<rect x="316" y="603" width="1" height="19" fill="#c0c0c0"/>
<rect x="320" y="600" width="1" height="22" fill="#c0c0c0"/>
<rect x="324" y="596" width="1" height="26" fill="#c0c0c0"/>
<rect x="328" y="598" width="1" height="24" fill="#c0c0c0"/>
<rect x="332" y="598" width="1" height="24" fill="#c0c0c0"/>
<rect x="336" y="595" width="1" height="27" fill="#c0c0c0"/>
<rect x="340" y="594" width="1" height="28" fill="#c0c0c0"/>
<rect x="344" y="595" width="1" height="27" fill="#c0c0c0"/>
<rect x="348" y="595" width="1" height="27" fill="#c0c0c0"/>
<rect x="352" y="595" width="1" height="27" fill="#c0c0c0"/>
<rect x="356" y="595" width="1" height="27" fill="#c0c0c0"/>
<rect x="360" y="594" width="1" height="28" fill="#c0c0c0"/>
<rect x="364" y="592" width="1" height="30" fill="#c0c0c0"/>
<rect x="368" y="590" width="1" height="32" fill="#c0c0c0"/>
<rect x="372" y="588" width="1" height="34" fill="#c0c0c0"/>
<rect x="376" y="582" width="1" height="40" fill="#c0c0c0"/>
<rect x="380" y="579" width="1" height="43" fill="#c0c0c0"/>
<rect x="384" y="576" width="1" height="46" fill="#c0c0c0"/>
<rect x="388" y="575" width="1" height="47" fill="#c0c0c0"/>
<rect x="392" y="576" width="1" height="46" fill="#c0c0c0"/>
<rect x="396" y="574" width="1" height="48" fill="#c0c0c0"/>
<rect x="400" y="573" width="1" height="49" fill="#c0c0c0"/>
<rect x="404" y="573" width="1" height="49" fill="#c0c0c0"/>
<rect x="408" y="574" width="1" height="48" fill="#c0c0c0"/>
<rect x="412" y="575" width="1" height="47" fill="#c0c0c0"/>
<rect x="416" y="576" width="1" height="46" fill="#c0c0c0"/>
<rect x="420" y="584" width="1" height="38" fill="#c0c0c0"/>
<rect x="424" y="593" width="1" height="29" fill="#c0c0c0"/>
<rect x="428" y="603" width="1" height="19" fill="#c0c0c0"/>
<rect x="432" y="613" width="1" height="9" fill="#c0c0c0"/>
<rect x="436" y="621" width="1" height="3" fill="#c0c0c0"/>
<rect x="440" y="621" width="1" height="12" fill="#c0c0c0"/>
<rect x="444" y="621" width="1" height="19" fill="#c0c0c0"/>
<rect x="448" y="621" width="1" height="22" fill="#c0c0c0"/>
<rect x="452" y="621" width="1" height="24" fill="#c0c0c0"/>
<rect x="456" y="621" width="1" height="25" fill="#c0c0c0"/>
<rect x="460" y="621" width="1" height="27" fill="#c0c0c0"/>
<rect x="464" y="621" width="1" height="28" fill="#c0c0c0"/>
<rect x="468" y="621" width="1" height="27" fill="#c0c0c0"/>
<rect x="472" y="621" width="1" height="27" fill="#c0c0c0"/>
<rect x="476" y="621" width="1" height="26" fill="#c0c0c0"/>
<rect x="480" y="621" width="1" height="25" fill="#c0c0c0"/>
<rect x="484" y="621" width="1" height="20" fill="#c0c0c0"/>
<rect x="488" y="621" width="1" height="18" fill="#c0c0c0"/>
<rect x="492" y="621" width="1" height="15" fill="#c0c0c0"/>
<rect x="496" y="621" width="1" height="18" fill="#c0c0c0"/>
<rect x="500" y="621" width="1" height="20" fill="#c0c0c0"/>
<rect x="504" y="621" width="1" height="20" fill="#c0c0c0"/>
<rect x="508" y="621" width="1" height="19" fill="#c0c0c0"/>
<rect x="512" y="621" width="1" height="23" fill="#c0c0c0"/>
<rect x="516" y="621" width="1" height="27" fill="#c0c0c0"/>
<rect x="520" y="621" width="1" height="32" fill="#c0c0c0"/>
<rect x="524" y="621" width="1" height="34" fill="#c0c0c0"/>
<rect x="528" y="621" width="1" height="35" fill="#c0c0c0"/>
<rect x="532" y="621" width="1" height="35" fill="#c0c0c0"/>
<rect x="536" y="621" width="1" height="31" fill="#c0c0c0"/>
<rect x="540" y="621" width="1" height="24" fill="#c0c0c0"/>
<rect x="544" y="621" width="1" height="19" fill="#c0c0c0"/>
<rect x="548" y="621" width="1" height="15" fill="#c0c0c0"/>
<rect x="552" y="621" width="1" height="11" fill="#c0c0c0"/>
<rect x="556" y="621" width="1" height="9" fill="#c0c0c0"/>
<rect x="560" y="621" width="1" height="8" fill="#c0c0c0"/>
<rect x="564" y="621" width="1" height="5" fill="#c0c0c0"/>
<rect x="568" y="621" width="1" height="4" fill="#c0c0c0"/>
<rect x="572" y="621" width="1" height="4" fill="#c0c0c0"/>
<rect x="576" y="621" width="1" height="5" fill="#c0c0c0"/>
<rect x="580" y="621" width="1" height="6" fill="#c0c0c0"/>
<rect x="584" y="621" width="1" height="9" fill="#c0c0c0"/>
<rect x="588" y="621" width="1" height="9" fill="#c0c0c0"/>
<rect x="592" y="621" width="1" height="12" fill="#c0c0c0"/>
<rect x="596" y="621" width="1" height="15" fill="#c0c0c0"/>
<rect x="600" y="621" width="1" height="14" fill="#c0c0c0"/>
<rect x="604" y="621" width="1" height="15" fill="#c0c0c0"/>
<rect x="608" y="621" width="1" height="16" fill="#c0c0c0"/>
<rect x="612" y="621" width="1" height="15" fill="#c0c0c0"/>
<rect x="616" y="621" width="1" height="9" fill="#c0c0c0"/>
<rect x="620" y="621" width="1" height="5" fill="#c0c0c0"/>
<rect x="624" y="621" width="1" height="1" fill="#c0c0c0"/>
<rect x="628" y="616" width="1" height="6" fill="#c0c0c0"/>
<rect x="632" y="608" width="1" height="14" fill="#c0c0c0"/>
<rect x="636" y="602" width="1" height="20" fill="#c0c0c0"/>
<rect x="640" y="600" width="1" height="22" fill="#c0c0c0"/>
<rect x="644" y="597" width="1" height="25" fill="#c0c0c0"/>
<rect x="648" y="597" width="1" height="25" fill="#c0c0c0"/>
<rect x="652" y="598" width="1" height="24" fill="#c0c0c0"/>
<rect x="656" y="602" width="1" height="20" fill="#c0c0c0"/>
<rect x="660" y="604" width="1" height="18" fill="#c0c0c0"/>
<rect x="664" y="604" width="1" height="18" fill="#c0c0c0"/>
<rect x="668" y="606" width="1" height="16" fill="#c0c0c0"/>
<rect x="672" y="607" width="1" height="15" fill="#c0c0c0"/>
<rect x="676" y="610" width="1" height="12" fill="#c0c0c0"/>
<rect x="680" y="613" width="1" height="9" fill="#c0c0c0"/>
<rect x="684" y="612" width="1" height="10" fill="#c0c0c0"/>
<rect x="688" y="609" width="1" height="13" fill="#c0c0c0"/>
<rect x="692" y="607" width="1" height="15" fill="#c0c0c0"/>
<rect x="696" y="606" width="1" height="16" fill="#c0c0c0"/>
<rect x="700" y="606" width="1" height="16" fill="#c0c0c0"/>
<rect x="704" y="605" width="1" height="17" fill="#c0c0c0"/>
<rect x="708" y="604" width="1" height="18" fill="#c0c0c0"/>
<rect x="712" y="606" width="1" height="16" fill="#c0c0c0"/>
<rect x="716" y="609" width="1" height="13" fill="#c0c0c0"/>
<rect x="720" y="612" width="1" height="10" fill="#c0c0c0"/>
<rect x="724" y="613" width="1" height="9" fill="#c0c0c0"/>
<rect x="728" y="615" width="1" height="7" fill="#c0c0c0"/>
<rect x="732" y="615" width="1" height="7" fill="#c0c0c0"/>
<rect x="736" y="614" width="1" height="8" fill="#c0c0c0"/>
<rect x="740" y="614" width="1" height="8" fill="#c0c0c0"/>
<rect x="744" y="617" width="1" height="5" fill="#c0c0c0"/>
<rect x="748" y="618" width="1" height="4" fill="#c0c0c0"/>
<rect x="752" y="620" width="1" height="2" fill="#c0c0c0"/>
<rect x="756" y="619" width="1" height="3" fill="#c0c0c0"/>
<rect x="760" y="620" width="1" height="2" fill="#c0c0c0"/>
<rect x="764" y="620" width="1" height="2" fill="#c0c0c0"/>
<rect x="768" y="620" width="1" height="2" fill="#c0c0c0"/>
<rect x="772" y="619" width="1" height="3" fill="#c0c0c0"/>
<rect x="776" y="619" width="1" height="3" fill="#c0c0c0"/>
<rect x="780" y="619" width="1" height="3" fill="#c0c0c0"/>
<rect x="784" y="618" width="1" height="4" fill="#c0c0c0"/>
<rect x="788" y="619" width="1" height="3" fill="#c0c0c0"/>
<rect x="792" y="616" width="1" height="6" fill="#c0c0c0"/>
<rect x="796" y="611" width="1" height="11" fill="#c0c0c0"/>
<rect x="800" y="608" width="1" height="14" fill="#c0c0c0"/>
<rect x="804" y="606" width="1" height="16" fill="#c0c0c0"/>
<rect x="808" y="605" width="1" height="17" fill="#c0c0c0"/>
<rect x="812" y="605" width="1" height="17" fill="#c0c0c0"/>
<rect x="816" y="608" width="1" height="14" fill="#c0c0c0"/>
<rect x="820" y="608" width="1" height="14" fill="#c0c0c0"/>
<rect x="824" y="607" width="1" height="15" fill="#c0c0c0"/>
<rect x="828" y="608" width="1" height="14" fill="#c0c0c0"/>
<rect x="832" y="607" width="1" height="15" fill="#c0c0c0"/>
<rect x="836" y="608" width="1" height="14" fill="#c0c0c0"/>
<rect x="840" y="607" width="1" height="15" fill="#c0c0c0"/>
<rect x="844" y="607" width="1" height="15" fill="#c0c0c0"/>
<rect x="848" y="607" width="1" height="15" fill="#c0c0c0"/>
<rect x="852" y="609" width="1" height="13" fill="#c0c0c0"/>
<rect x="856" y="611" width="1" height="11" fill="#c0c0c0"/>
<rect x="860" y="610" width="1" height="12" fill="#c0c0c0"/>
<rect x="864" y="610" width="1" height="12" fill="#c0c0c0"/>
<rect x="868" y="612" width="1" height="10" fill="#c0c0c0"/>
<rect x="872" y="612" width="1" height="10" fill="#c0c0c0"/>
<rect x="876" y="613" width="1" height="9" fill="#c0c0c0"/>
<rect x="880" y="613" width="1" height="9" fill="#c0c0c0"/>
<rect x="884" y="615" width="1" height="7" fill="#c0c0c0"/>
<rect x="888" y="617" width="1" height="5" fill="#c0c0c0"/>
<rect x="892" y="618" width="1" height="4" fill="#c0c0c0"/>
<rect x="896" y="617" width="1" height="5" fill="#c0c0c0"/>
<rect x="900" y="617" width="1" height="5" fill="#c0c0c0"/>
<rect x="904" y="617" width="1" height="5" fill="#c0c0c0"/>
<rect x="908" y="618" width="1" height="4" fill="#c0c0c0"/>
<rect x="912" y="616" width="1" height="6" fill="#c0c0c0"/>
<rect x="916" y="614" width="1" height="8" fill="#c0c0c0"/>
<rect x="920" y="611" width="1" height="11" fill="#c0c0c0"/>
<rect x="924" y="610" width="1" height="12" fill="#c0c0c0"/>
<rect x="928" y="609" width="1" height="13" fill="#c0c0c0"/>
<rect x="932" y="612" width="1" height="10" fill="#c0c0c0"/>
<rect x="936" y="616" width="1" height="6" fill="#c0c0c0"/>
<rect x="940" y="618" width="1" height="4" fill="#c0c0c0"/>
<rect x="944" y="621" width="1" height="3" fill="#c0c0c0"/>
<rect x="948" y="621" width="1" height="10" fill="#c0c0c0"/>
<rect x="952" y="621" width="1" height="15" fill="#c0c0c0"/>
<rect x="956" y="621" width="1" height="19" fill="#c0c0c0"/>
<rect x="960" y="621" width="1" height="22" fill="#c0c0c0"/>
<rect x="964" y="621" width="1" height="21" fill="#c0c0c0"/>
<rect x="968" y="621" width="1" height="21" fill="#c0c0c0"/>
<rect x="972" y="621" width="1" height="17" fill="#c0c0c0"/>
<rect x="976" y="621" width="1" height="13" fill="#c0c0c0"/>
<rect x="980" y="621" width="1" height="10" fill="#c0c0c0"/>
<rect x="984" y="621" width="1" height="10" fill="#c0c0c0"/>
<rect x="988" y="621" width="1" height="13" fill="#c0c0c0"/>
<rect x="992" y="621" width="1" height="20" fill="#c0c0c0"/>
<rect x="996" y="621" width="1" height="24" fill="#c0c0c0"/>
<rect x="1000" y="621" width="1" height="27" fill="#c0c0c0"/>
<rect x="1004" y="621" width="1" height="29" fill="#c0c0c0"/>
<rect x="1008" y="621" width="1" height="32" fill="#c0c0c0"/>
<rect x="1012" y="621" width="1" height="35" fill="#c0c0c0"/>
<rect x="1016" y="621" width="1" height="38" fill="#c0c0c0"/>
<rect x="1020" y="621" width="1" height="41" fill="#c0c0c0"/>
<rect x="1024" y="621" width="1" height="43" fill="#c0c0c0"/>
<rect x="1028" y="621" width="1" height="41" fill="#c0c0c0"/>
<rect x="1032" y="621" width="1" height="41" fill="#c0c0c0"/>
<rect x="1036" y="621" width="1" height="43" fill="#c0c0c0"/>
<rect x="1040" y="621" width="1" height="44" fill="#c0c0c0"/>
<rect x="1044" y="621" width="1" height="42" fill="#c0c0c0"/>
<rect x="1048" y="621" width="1" height="41" fill="#c0c0c0"/>
<rect x="1052" y="621" width="1" height="39" fill="#c0c0c0"/>
<rect x="1056" y="621" width="1" height="35" fill="#c0c0c0"/>
<rect x="1060" y="621" width="1" height="35" fill="#c0c0c0"/>
<rect x="1064" y="621" width="1" height="34" fill="#c0c0c0"/>
<rect x="1068" y="621" width="1" height="35" fill="#c0c0c0"/>
<rect x="1072" y="621" width="1" height="34" fill="#c0c0c0"/>
<rect x="1076" y="621" width="1" height="33" fill="#c0c0c0"/>
<rect x="1080" y="621" width="1" height="31" fill="#c0c0c0"/>
<rect x="1084" y="621" width="1" height="30" fill="#c0c0c0"/>
<rect x="1088" y="621" width="1" height="29" fill="#c0c0c0"/>
<rect x="1092" y="621" width="1" height="28" fill="#c0c0c0"/>
<rect x="1096" y="621" width="1" height="26" fill="#c0c0c0"/>
<rect x="1100" y="621" width="1" height="22" fill="#c0c0c0"/>
<rect x="1104" y="621" width="1" height="17" fill="#c0c0c0"/>
<rect x="1108" y="621" width="1" height="14" fill="#c0c0c0"/>
<rect x="1112" y="621" width="1" height="10" fill="#c0c0c0"/>
<rect x="1116" y="621" width="1" height="7" fill="#c0c0c0"/>
<rect x="1120" y="621" width="1" height="4" fill="#c0c0c0"/>
<rect x="1124" y="621" width="1" height="2" fill="#c0c0c0"/>
<rect x="1128" y="620" width="1" height="2" fill="#c0c0c0"/>
</g>
<path d="M4 631h1v1h-1zM5 631h1v1h-1zM6 630h1v1h-1zM10 629h1v1h-1zM11 628h1v1h-1zM12 628h1v1h-1zM16 625h1v1h-1zM17 624h1v1h-1zM18 623h1v1h-1zM22 620h1v1h-1zM23 620h1v1h-1zM24 619h1v1h-1zM28 616h1v1h-1zM29 615h1v1h-1zM30 615h1v1h-1zM34 613h1v1h-1zM35 613h1v1h-1zM36 613h1v1h-1zM40 613h1v1h-1zM41 613h1v1h-1zM42 614h1v1h-1zM46 615h1v1h-1zM47 615h1v1h-1zM48 615h1v1h-1zM52 616h1v1h-1zM53 617h1v1h-1zM54 618h1v1h-1zM58 621h1v1h-1zM59 621h1v1h-1zM60 622h1v1h-1zM64 626h1v1h-1zM65 627h1v1h-1zM66 627h1v1h-1zM70 630h1v1h-1zM71 630h1v1h-1zM72 631h1v1h-1zM76 633h1v1h-1zM77 633h1v1h-1zM78 634h1v1h-1zM82 635h1v1h-1zM83 636h1v1h-1zM84 636h1v1h-1zM88 637h1v1h-1zM89 637h1v1h-1zM90 638h1v1h-1zM94 639h1v1h-1zM95 639h1v1h-1zM96 639h1v1h-1zM100 640h1v1h-1zM101 640h1v1h-1zM102 641h1v1h-1zM106 641h1v1h-1zM107 641h1v1h-1zM108 641h1v1h-1zM112 641h1v1h-1zM113 641h1v1h-1zM114 642h1v1h-1zM118 642h1v1h-1zM119 642h1v1h-1zM120 642h1v1h-1zM124 642h1v1h-1zM125 642h1v1h-1zM126 641h1v1h-1zM130 640h1v1h-1zM131 639h1v1h-1zM132 639h1v1h-1zM136 636h1v1h-1zM137 635h1v1h-1zM138 634h1v1h-1zM142 631h1v1h-1zM143 631h1v1h-1zM144 630h1v1h-1zM148 627h1v1h-1zM149 626h1v1h-1zM150 626h1v1h-1zM154 624h1v1h-1zM155 623h1v1h-1zM156 623h1v1h-1zM160 620h1v1h-1zM161 619h1v1h-1zM162 619h1v1h-1zM166 617h1v1h-1zM167 616h1v1h-1zM168 616h1v1h-1zM172 614h1v1h-1zM173 614h1v1h-1zM174 613h1v1h-1zM178 612h1v1h-1zM179 611h1v1h-1zM180 611h1v1h-1zM184 609h1v1h-1zM185 609h1v1h-1zM186 608h1v1h-1zM190 607h1v1h-1zM191 607h1v1h-1zM192 607h1v1h-1zM196 606h1v1h-1zM197 606h1v1h-1zM198 605h1v1h-1zM202 605h1v1h-1zM203 605h1v1h-1zM204 605h1v1h-1zM208 604h1v1h-1zM209 604h1v1h-1zM210 604h1v1h-1zM214 604h1v1h-1zM215 604h1v1h-1zM216 604h1v1h-1zM220 604h1v1h-1zM221 604h1v1h-1zM222 604h1v1h-1zM226 604h1v1h-1zM227 604h1v1h-1zM228 604h1v1h-1zM232 604h1v1h-1zM233 604h1v1h-1zM234 604h1v1h-1zM238 604h1v1h-1zM239 604h1v1h-1zM240 604h1v1h-1zM244 603h1v1h-1zM245 603h1v1h-1zM246 602h1v1h-1zM250 601h1v1h-1zM251 601h1v1h-1zM252 601h1v1h-1zM256 601h1v1h-1zM257 601h1v1h-1zM258 600h1v1h-1zM262 600h1v1h-1zM263 600h1v1h-1zM264 600h1v1h-1zM268 600h1v1h-1zM269 600h1v1h-1zM270 599h1v1h-1zM274 600h1v1h-1zM275 600h1v1h-1zM276 600h1v1h-1zM280 600h1v1h-1zM281 600h1v1h-1zM282 600h1v1h-1zM286 601h1v1h-1zM287 601h1v1h-1zM288 601h1v1h-1zM292 600h1v1h-1zM293 600h1v1h-1zM294 600h1v1h-1zM298 599h1v1h-1zM299 599h1v1h-1zM300 599h1v1h-1zM304 599h1v1h-1zM305 599h1v1h-1zM306 599h1v1h-1zM310 599h1v1h-1zM311 599h1v1h-1zM312 599h1v1h-1zM316 600h1v1h-1zM317 600h1v1h-1zM318 600h1v1h-1zM322 599h1v1h-1zM323 599h1v1h-1zM324 599h1v1h-1zM328 599h1v1h-1zM329 599h1v1h-1zM330 599h1v1h-1zM334 599h1v1h-1zM335 599h1v1h-1zM336 599h1v1h-1zM340 598h1v1h-1zM341 598h1v1h-1zM342 598h1v1h-1zM346 597h1v1h-1zM347 597h1v1h-1zM348 597h1v1h-1zM352 596h1v1h-1zM353 596h1v1h-1zM354 596h1v1h-1zM358 595h1v1h-1zM359 595h1v1h-1zM360 595h1v1h-1zM364 595h1v1h-1zM365 595h1v1h-1zM366 594h1v1h-1zM370 593h1v1h-1zM371 593h1v1h-1zM372 593h1v1h-1zM376 592h1v1h-1zM377 591h1v1h-1zM378 591h1v1h-1zM382 589h1v1h-1zM383 588h1v1h-1zM384 588h1v1h-1zM388 586h1v1h-1zM389 585h1v1h-1zM390 585h1v1h-1zM394 582h1v1h-1zM395 582h1v1h-1zM396 581h1v1h-1zM400 579h1v1h-1zM401 578h1v1h-1zM402 578h1v1h-1zM406 576h1v1h-1zM407 576h1v1h-1zM408 576h1v1h-1zM412 575h1v1h-1zM413 575h1v1h-1zM414 575h1v1h-1zM418 576h1v1h-1zM419 576h1v1h-1zM420 576h1v1h-1zM424 578h1v1h-1zM425 579h1v1h-1zM426 580h1v1h-1zM430 583h1v1h-1zM431 584h1v1h-1zM432 585h1v1h-1zM435 589h1v1h-1zM436 590h1v1h-1zM437 591h1v1h-1zM439 595h1v2h-1zM440 597h1v1h-1zM442 601h1v1h-1zM443 602h1v2h-1zM446 607h1v2h-1zM447 609h1v1h-1zM449 613h1v2h-1zM450 615h1v1h-1zM452 619h1v1h-1zM453 620h1v2h-1zM455 625h1v1h-1zM456 626h1v1h-1zM457 627h1v1h-1zM459 631h1v1h-1zM460 632h1v1h-1zM461 633h1v1h-1zM464 637h1v1h-1zM465 638h1v1h-1zM466 639h1v1h-1zM470 643h1v1h-1zM471 643h1v1h-1zM472 644h1v1h-1zM476 645h1v1h-1zM477 645h1v1h-1zM478 646h1v1h-1zM482 646h1v1h-1zM483 646h1v1h-1zM484 646h1v1h-1zM488 645h1v1h-1zM489 645h1v1h-1zM490 644h1v1h-1zM494 643h1v1h-1zM495 643h1v1h-1zM496 643h1v1h-1zM500 642h1v1h-1zM501 642h1v1h-1zM502 641h1v1h-1zM506 640h1v1h-1zM507 640h1v1h-1zM508 640h1v1h-1zM512 640h1v1h-1zM513 640h1v1h-1zM514 640h1v1h-1zM518 641h1v1h-1zM519 641h1v1h-1zM520 641h1v1h-1zM524 643h1v1h-1zM525 644h1v1h-1zM526 644h1v1h-1zM530 646h1v1h-1zM531 647h1v1h-1zM532 647h1v1h-1zM536 649h1v1h-1zM537 649h1v1h-1zM538 649h1v1h-1zM542 649h1v1h-1zM543 649h1v1h-1zM544 649h1v1h-1zM548 648h1v1h-1zM549 647h1v1h-1zM550 647h1v1h-1zM554 645h1v1h-1zM555 644h1v1h-1zM556 644h1v1h-1zM560 641h1v1h-1zM561 640h1v1h-1zM562 639h1v1h-1zM566 635h1v1h-1zM567 635h1v1h-1zM568 634h1v1h-1zM572 631h1v1h-1zM573 630h1v1h-1zM574 630h1v1h-1zM578 628h1v1h-1zM579 628h1v1h-1zM580 628h1v1h-1zM584 627h1v1h-1zM585 627h1v1h-1zM586 627h1v1h-1zM590 627h1v1h-1zM591 627h1v1h-1zM592 627h1v1h-1zM596 628h1v1h-1zM597 628h1v1h-1zM598 629h1v1h-1zM602 630h1v1h-1zM603 630h1v1h-1zM604 630h1v1h-1zM608 631h1v1h-1zM609 631h1v1h-1zM610 632h1v1h-1zM614 633h1v1h-1zM615 633h1v1h-1zM616 633h1v1h-1zM620 632h1v1h-1zM621 632h1v1h-1zM622 631h1v1h-1zM626 630h1v1h-1zM627 630h1v1h-1zM628 630h1v1h-1zM632 627h1v1h-1zM633 626h1v1h-1zM634 625h1v1h-1zM638 621h1v1h-1zM639 620h1v1h-1zM640 619h1v1h-1zM644 615h1v1h-1zM645 614h1v1h-1zM646 613h1v1h-1zM650 609h1v1h-1zM651 608h1v1h-1zM652 607h1v1h-1zM656 605h1v1h-1zM657 604h1v1h-1zM658 604h1v1h-1zM662 602h1v1h-1zM663 601h1v1h-1zM664 601h1v1h-1zM668 601h1v1h-1zM669 601h1v1h-1zM670 602h1v1h-1zM674 603h1v1h-1zM675 603h1v1h-1zM676 603h1v1h-1zM680 604h1v1h-1zM681 605h1v1h-1zM682 605h1v1h-1zM686 607h1v1h-1zM687 607h1v1h-1zM688 607h1v1h-1zM692 608h1v1h-1zM693 608h1v1h-1zM694 608h1v1h-1zM698 608h1v1h-1zM699 608h1v1h-1zM700 608h1v1h-1zM704 608h1v1h-1zM705 608h1v1h-1zM706 608h1v1h-1zM710 608h1v1h-1zM711 608h1v1h-1zM712 608h1v1h-1zM716 607h1v1h-1zM717 607h1v1h-1zM718 607h1v1h-1zM722 608h1v1h-1zM723 608h1v1h-1zM724 608h1v1h-1zM728 609h1v1h-1zM729 609h1v1h-1zM730 610h1v1h-1zM734 610h1v1h-1zM735 610h1v1h-1zM736 610h1v1h-1zM740 611h1v1h-1zM741 612h1v1h-1zM742 612h1v1h-1zM746 614h1v1h-1zM747 614h1v1h-1zM748 614h1v1h-1zM752 615h1v1h-1zM753 615h1v1h-1zM754 616h1v1h-1zM758 617h1v1h-1zM759 617h1v1h-1zM760 617h1v1h-1zM764 617h1v1h-1zM765 617h1v1h-1zM766 618h1v1h-1zM770 619h1v1h-1zM771 619h1v1h-1zM772 619h1v1h-1zM776 619h1v1h-1zM777 619h1v1h-1zM778 619h1v1h-1zM782 619h1v1h-1zM783 619h1v1h-1zM784 619h1v1h-1zM788 619h1v1h-1zM789 619h1v1h-1zM790 619h1v1h-1zM794 618h1v1h-1zM795 618h1v1h-1zM796 618h1v1h-1zM800 616h1v1h-1zM801 616h1v1h-1zM802 615h1v1h-1zM806 614h1v1h-1zM807 613h1v1h-1zM808 613h1v1h-1zM812 612h1v1h-1zM813 612h1v1h-1zM814 611h1v1h-1zM818 610h1v1h-1zM819 610h1v1h-1zM820 610h1v1h-1zM824 608h1v1h-1zM825 608h1v1h-1zM826 607h1v1h-1zM830 607h1v1h-1zM831 607h1v1h-1zM832 607h1v1h-1zM836 607h1v1h-1zM837 607h1v1h-1zM838 607h1v1h-1zM842 607h1v1h-1zM843 607h1v1h-1zM844 607h1v1h-1zM848 608h1v1h-1zM849 608h1v1h-1zM850 608h1v1h-1zM854 608h1v1h-1zM855 608h1v1h-1zM856 608h1v1h-1zM860 608h1v1h-1zM861 608h1v1h-1zM862 609h1v1h-1zM866 609h1v1h-1zM867 609h1v1h-1zM868 609h1v1h-1zM872 609h1v1h-1zM873 609h1v1h-1zM874 610h1v1h-1zM878 611h1v1h-1zM879 611h1v1h-1zM880 611h1v1h-1zM884 612h1v1h-1zM885 612h1v1h-1zM886 613h1v1h-1zM890 613h1v1h-1zM891 613h1v1h-1zM892 613h1v1h-1zM896 614h1v1h-1zM897 614h1v1h-1zM898 615h1v1h-1zM902 615h1v1h-1zM903 615h1v1h-1zM904 615h1v1h-1zM908 616h1v1h-1zM909 616h1v1h-1zM910 617h1v1h-1zM914 617h1v1h-1zM915 617h1v1h-1zM916 617h1v1h-1zM920 616h1v1h-1zM921 616h1v1h-1zM922 615h1v1h-1zM926 614h1v1h-1zM927 614h1v1h-1zM928 614h1v1h-1zM932 614h1v1h-1zM933 614h1v1h-1zM934 614h1v1h-1zM938 614h1v1h-1zM939 614h1v1h-1zM940 614h1v1h-1zM944 614h1v1h-1zM945 615h1v1h-1zM946 615h1v1h-1zM950 617h1v1h-1zM951 618h1v1h-1zM952 618h1v1h-1zM956 621h1v1h-1zM957 622h1v1h-1zM958 623h1v1h-1zM962 627h1v1h-1zM963 627h1v1h-1zM964 628h1v1h-1zM968 632h1v1h-1zM969 633h1v1h-1zM970 633h1v1h-1zM974 635h1v1h-1zM975 636h1v1h-1zM976 636h1v1h-1zM980 636h1v1h-1zM981 636h1v1h-1zM982 636h1v1h-1zM986 636h1v1h-1zM987 636h1v1h-1zM988 636h1v1h-1zM992 636h1v1h-1zM993 636h1v1h-1zM994 637h1v1h-1zM998 637h1v1h-1zM999 637h1v1h-1zM1000 637h1v1h-1zM1004 638h1v1h-1zM1005 639h1v1h-1zM1006 639h1v1h-1zM1010 641h1v1h-1zM1011 642h1v1h-1zM1012 642h1v1h-1zM1016 645h1v1h-1zM1017 646h1v1h-1zM1018 647h1v1h-1zM1022 651h1v1h-1zM1023 651h1v1h-1zM1024 652h1v1h-1zM1028 654h1v1h-1zM1029 655h1v1h-1zM1030 655h1v1h-1zM1034 657h1v1h-1zM1035 658h1v1h-1zM1036 658h1v1h-1zM1040 660h1v1h-1zM1041 660h1v1h-1zM1042 661h1v1h-1zM1046 662h1v1h-1zM1047 662h1v1h-1zM1048 662h1v1h-1zM1052 662h1v1h-1zM1053 662h1v1h-1zM1054 661h1v1h-1zM1058 660h1v1h-1zM1059 660h1v1h-1zM1060 660h1v1h-1zM1064 659h1v1h-1zM1065 659h1v1h-1zM1066 659h1v1h-1zM1070 658h1v1h-1zM1071 658h1v1h-1zM1072 658h1v1h-1zM1076 657h1v1h-1zM1077 656h1v1h-1zM1078 656h1v1h-1zM1082 654h1v1h-1zM1083 654h1v1h-1zM1084 654h1v1h-1zM1088 653h1v1h-1zM1089 653h1v1h-1zM1090 652h1v1h-1zM1094 651h1v1h-1zM1095 651h1v1h-1zM1096 651h1v1h-1zM1100 650h1v1h-1zM1101 649h1v1h-1zM1102 649h1v1h-1zM1106 646h1v1h-1zM1107 646h1v1h-1zM1108 645h1v1h-1zM1112 643h1v1h-1zM1113 642h1v1h-1zM1114 641h1v1h-1zM1118 638h1v1h-1zM1119 638h1v1h-1zM1120 637h1v1h-1zM1124 634h1v1h-1zM1125 633h1v1h-1zM1126 632h1v1h-1z" fill="#ff0000" shape-rendering="crispEdges"/>
<path d="M4 720h1v1h-1zM5 721h1v1h-1zM6 722h1v1h-1zM7 723h1v1h-1zM8 724h1v1h-1zM9 725h1v1h-1zM10 726h1v1h-1zM11 726h1v1h-1zM12 727h1v1h-1zM13 726h1v1h-1zM14 726h1v1h-1zM15 725h1v1h-1zM16 725h1v1h-1zM17 725h1v1h-1zM18 726h1v1h-1zM19 726h1v1h-1zM20 726h1v1h-1zM21 726h1v1h-1zM22 727h1v1h-1zM23 727h1v1h-1zM24 727h1v2h-1zM25 729h1v3h-1zM26 732h1v3h-1zM27 735h1v3h-1zM28 738h1v2h-1zM29 740h1v2h-1zM30 742h1v2h-1zM31 744h1v2h-1zM32 746h1v1h-1zM33 746h1v1h-1zM34 746h1v1h-1zM35 746h1v1h-1zM36 746h1v1h-1zM37 745h1v1h-1zM38 744h1v1h-1zM39 743h1v1h-1zM40 742h1v1h-1zM41 741h1v1h-1zM42 741h1v1h-1zM43 740h1v1h-1zM44 740h1v1h-1zM45 739h1v1h-1zM46 739h1v1h-1zM47 738h1v1h-1zM48 738h1v2h-1zM49 740h1v2h-1zM50 742h1v3h-1zM51 745h1v2h-1zM52 747h1v2h-1zM53 749h1v1h-1zM54 750h1v2h-1zM55 752h1v1h-1zM56 753h1v1h-1zM57 753h1v1h-1zM58 754h1v1h-1zM59 754h1v1h-1zM60 754h1v1h-1zM61 753h1v1h-1zM62 753h1v1h-1zM63 752h1v1h-1zM64 752h1v1h-1zM65 752h1v1h-1zM66 753h1v1h-1zM67 753h1v1h-1zM68 753h1v1h-1zM69 751h1v2h-1zM70 749h1v2h-1zM71 747h1v2h-1zM72 746h1v1h-1zM73 746h1v1h-1zM74 746h1v1h-1zM75 746h1v1h-1zM76 745h1v2h-1zM77 742h1v3h-1zM78 739h1v3h-1zM79 736h1v3h-1zM80 734h1v2h-1zM81 734h1v1h-1zM82 735h1v1h-1zM83 735h1v1h-1zM84 735h1v2h-1zM85 737h1v3h-1zM86 740h1v4h-1zM87 744h1v3h-1zM88 747h1v2h-1zM89 749h1v2h-1zM90 751h1v2h-1zM91 753h1v2h-1zM92 755h1v1h-1zM93 756h1v1h-1zM94 756h1v1h-1zM95 757h1v1h-1zM96 757h1v1h-1zM97 757h1v1h-1zM98 756h1v1h-1zM99 756h1v1h-1zM100 755h1v2h-1zM101 753h1v2h-1zM102 751h1v2h-1zM103 749h1v2h-1zM104 747h1v2h-1zM105 746h1v1h-1zM106 744h1v2h-1zM107 743h1v1h-1zM108 742h1v1h-1zM109 741h1v1h-1zM110 740h1v1h-1zM111 740h1v1h-1zM112 739h1v1h-1zM113 739h1v1h-1zM114 738h1v1h-1zM115 738h1v1h-1zM116 738h1v1h-1zM117 738h1v1h-1zM118 737h1v1h-1zM119 737h1v1h-1zM120 737h1v1h-1zM121 738h1v1h-1zM122 738h1v1h-1zM123 739h1v1h-1zM124 738h1v2h-1zM125 735h1v3h-1zM126 731h1v4h-1zM127 728h1v3h-1zM128 726h1v2h-1zM129 727h1v1h-1zM130 728h1v1h-1zM131 728h1v1h-1zM132 729h1v1h-1zM133 728h1v1h-1zM134 728h1v1h-1zM135 727h1v1h-1zM136 727h1v1h-1zM137 728h1v1h-1zM138 729h1v1h-1zM139 729h1v1h-1zM140 730h1v1h-1zM141 731h1v1h-1zM142 732h1v2h-1zM143 734h1v1h-1zM144 735h1v1h-1zM145 736h1v2h-1zM146 738h1v2h-1zM147 740h1v2h-1zM148 741h1v2h-1zM149 738h1v3h-1zM150 736h1v2h-1zM151 733h1v3h-1zM152 731h1v2h-1zM153 730h1v1h-1zM154 728h1v2h-1zM155 727h1v1h-1zM156 726h1v1h-1zM157 725h1v1h-1zM158 724h1v1h-1zM159 723h1v1h-1zM160 722h1v1h-1zM161 723h1v1h-1zM162 724h1v1h-1zM163 724h1v1h-1zM164 725h1v1h-1zM165 725h1v1h-1zM166 725h1v1h-1zM167 725h1v1h-1zM168 725h1v1h-1zM169 726h1v1h-1zM170 726h1v1h-1zM171 727h1v1h-1zM172 727h1v1h-1zM173 728h1v2h-1zM174 730h1v1h-1zM175 731h1v2h-1zM176 733h1v1h-1zM177 732h1v1h-1zM178 730h1v2h-1zM179 729h1v1h-1zM180 728h1v1h-1zM181 728h1v1h-1zM182 728h1v1h-1zM183 728h1v1h-1zM184 728h1v1h-1zM185 727h1v1h-1zM186 727h1v1h-1zM187 726h1v1h-1zM188 726h1v1h-1zM189 725h1v1h-1zM190 724h1v1h-1zM191 723h1v1h-1zM192 722h1v1h-1zM193 723h1v1h-1zM194 724h1v1h-1zM195 724h1v1h-1zM196 725h1v1h-1zM197 724h1v1h-1zM198 722h1v2h-1zM199 721h1v1h-1zM200 720h1v2h-1zM201 722h1v3h-1zM202 725h1v2h-1zM203 727h1v3h-1zM204 730h1v2h-1zM205 730h1v1h-1zM206 730h1v1h-1zM207 729h1v1h-1zM208 729h1v1h-1zM209 730h1v1h-1zM210 730h1v1h-1zM211 731h1v1h-1zM212 731h1v1h-1zM213 730h1v1h-1zM214 730h1v1h-1zM215 729h1v1h-1zM216 729h1v1h-1zM217 729h1v1h-1zM218 729h1v1h-1zM219 729h1v1h-1zM220 729h1v1h-1zM221 729h1v1h-1zM222 729h1v1h-1zM223 729h1v1h-1zM224 729h1v1h-1zM225 728h1v1h-1zM226 726h1v2h-1zM227 725h1v1h-1zM228 724h1v1h-1zM229 722h1v2h-1zM230 720h1v2h-1zM231 718h1v2h-1zM232 716h1v2h-1zM233 717h1v1h-1zM234 718h1v1h-1zM235 719h1v1h-1zM236 720h1v1h-1zM237 718h1v2h-1zM238 717h1v1h-1zM239 715h1v2h-1zM240 714h1v1h-1zM241 715h1v1h-1zM242 716h1v1h-1zM243 717h1v1h-1zM244 718h1v1h-1zM245 717h1v1h-1zM246 717h1v1h-1zM247 716h1v1h-1zM248 716h1v2h-1zM249 718h1v4h-1zM250 722h1v4h-1zM251 726h1v4h-1zM252 730h1v3h-1zM253 732h1v1h-1zM254 731h1v1h-1zM255 731h1v1h-1zM256 731h1v1h-1zM257 732h1v1h-1zM258 733h1v1h-1zM259 733h1v1h-1zM260 734h1v1h-1zM261 733h1v1h-1zM262 732h1v1h-1zM263 731h1v1h-1zM264 729h1v2h-1zM265 725h1v4h-1zM266 722h1v3h-1zM267 718h1v4h-1zM268 716h1v2h-1zM269 717h1v2h-1zM270 719h1v2h-1zM271 721h1v2h-1zM272 723h1v2h-1zM273 725h1v2h-1zM274 727h1v2h-1zM275 729h1v2h-1zM276 731h1v2h-1zM277 730h1v2h-1zM278 729h1v1h-1zM279 727h1v2h-1zM280 726h1v1h-1zM281 727h1v1h-1zM282 728h1v1h-1zM283 728h1v1h-1zM284 729h1v1h-1zM285 728h1v1h-1zM286 727h1v1h-1zM287 727h1v1h-1zM288 726h1v1h-1zM289 725h1v1h-1zM290 724h1v1h-1zM291 724h1v1h-1zM292 723h1v1h-1zM293 724h1v1h-1zM294 724h1v1h-1zM295 725h1v1h-1zM296 725h1v1h-1zM297 725h1v1h-1zM298 726h1v1h-1zM299 726h1v1h-1zM300 726h1v1h-1zM301 725h1v1h-1zM302 725h1v1h-1zM303 724h1v1h-1zM304 724h1v1h-1zM305 725h1v1h-1zM306 726h1v1h-1zM307 726h1v1h-1zM308 727h1v2h-1zM309 729h1v2h-1zM310 731h1v3h-1zM311 734h1v2h-1zM312 736h1v2h-1zM313 735h1v2h-1zM314 733h1v2h-1zM315 731h1v2h-1zM316 729h1v2h-1zM317 727h1v2h-1zM318 724h1v3h-1zM319 722h1v2h-1zM320 720h1v2h-1zM321 719h1v1h-1zM322 719h1v1h-1zM323 718h1v1h-1zM324 718h1v2h-1zM325 720h1v3h-1zM326 723h1v3h-1zM327 726h1v3h-1zM328 729h1v2h-1zM329 729h1v1h-1zM330 728h1v1h-1zM331 728h1v1h-1zM332 727h1v1h-1zM333 725h1v2h-1zM334 724h1v1h-1zM335 722h1v2h-1zM336 721h1v1h-1zM337 722h1v1h-1zM338 723h1v1h-1zM339 723h1v1h-1zM340 724h1v1h-1zM341 725h1v1h-1zM342 726h1v1h-1zM343 726h1v1h-1zM344 727h1v1h-1zM345 726h1v1h-1zM346 726h1v1h-1zM347 725h1v1h-1zM348 725h1v1h-1zM349 725h1v1h-1zM350 725h1v1h-1zM351 725h1v1h-1zM352 725h1v1h-1zM353 725h1v1h-1zM354 724h1v1h-1zM355 724h1v1h-1zM356 724h1v1h-1zM357 723h1v1h-1zM358 722h1v1h-1zM359 722h1v1h-1zM360 721h1v1h-1zM361 720h1v1h-1zM362 719h1v1h-1zM363 718h1v1h-1zM364 717h1v1h-1zM365 717h1v1h-1zM366 716h1v1h-1zM367 716h1v1h-1zM368 716h1v1h-1zM369 715h1v1h-1zM370 715h1v1h-1zM371 714h1v1h-1zM372 714h1v1h-1zM373 712h1v2h-1zM374 710h1v2h-1zM375 708h1v2h-1zM376 707h1v1h-1zM377 707h1v1h-1zM378 706h1v1h-1zM379 706h1v1h-1zM380 706h1v1h-1zM381 707h1v1h-1zM382 707h1v1h-1zM383 708h1v1h-1zM384 708h1v1h-1zM385 708h1v1h-1zM386 709h1v1h-1zM387 709h1v1h-1zM388 709h1v1h-1zM389 710h1v1h-1zM390 711h1v1h-1zM391 711h1v1h-1zM392 712h1v1h-1zM393 711h1v1h-1zM394 709h1v2h-1zM395 708h1v1h-1zM396 707h1v1h-1zM397 707h1v1h-1zM398 706h1v1h-1zM399 706h1v1h-1zM400 706h1v1h-1zM401 707h1v1h-1zM402 708h1v1h-1zM403 708h1v1h-1zM404 709h1v1h-1zM405 709h1v1h-1zM406 709h1v1h-1zM407 709h1v1h-1zM408 709h1v1h-1zM409 709h1v1h-1zM410 709h1v1h-1zM411 709h1v1h-1zM412 709h1v1h-1zM413 709h1v1h-1zM414 709h1v1h-1zM415 709h1v1h-1zM416 709h1v4h-1zM417 713h1v7h-1zM418 720h1v8h-1zM419 728h1v7h-1zM420 735h1v5h-1zM421 740h1v2h-1zM422 742h1v3h-1zM423 745h1v2h-1zM424 747h1v2h-1zM425 749h1v1h-1zM426 750h1v1h-1zM427 750h1v1h-1zM428 751h1v1h-1zM429 752h1v2h-1zM430 754h1v1h-1zM431 755h1v2h-1zM432 757h1v1h-1zM433 758h1v1h-1zM434 759h1v1h-1zM435 760h1v1h-1zM436 761h1v1h-1zM437 762h1v1h-1zM438 762h1v1h-1zM439 763h1v1h-1zM440 763h1v1h-1zM441 762h1v1h-1zM442 761h1v1h-1zM443 760h1v1h-1zM444 759h1v1h-1zM445 757h1v2h-1zM446 756h1v1h-1zM447 754h1v2h-1zM448 753h1v1h-1zM449 753h1v1h-1zM450 754h1v1h-1zM451 754h1v1h-1zM452 754h1v1h-1zM453 753h1v1h-1zM454 753h1v1h-1zM455 752h1v1h-1zM456 752h1v1h-1zM457 753h1v1h-1zM458 753h1v1h-1zM459 754h1v1h-1zM460 754h1v1h-1zM461 754h1v1h-1zM462 754h1v1h-1zM463 754h1v1h-1zM464 754h1v1h-1zM465 753h1v1h-1zM466 752h1v1h-1zM467 751h1v1h-1zM468 750h1v1h-1zM469 750h1v1h-1zM470 751h1v1h-1zM471 751h1v1h-1zM472 751h1v1h-1zM473 751h1v1h-1zM474 750h1v1h-1zM475 750h1v1h-1zM476 750h1v1h-1zM477 749h1v1h-1zM478 748h1v1h-1zM479 747h1v1h-1zM480 745h1v2h-1zM481 742h1v3h-1zM482 740h1v2h-1zM483 737h1v3h-1zM484 735h1v2h-1zM485 736h1v1h-1zM486 737h1v1h-1zM487 737h1v1h-1zM488 738h1v1h-1zM489 737h1v1h-1zM490 737h1v1h-1zM491 736h1v1h-1zM492 736h1v3h-1zM493 739h1v4h-1zM494 743h1v4h-1zM495 747h1v4h-1zM496 751h1v3h-1zM497 753h1v1h-1zM498 753h1v1h-1zM499 753h1v1h-1zM500 753h1v1h-1zM501 751h1v2h-1zM502 749h1v2h-1zM503 747h1v2h-1zM504 746h1v1h-1zM505 745h1v1h-1zM506 745h1v1h-1zM507 744h1v1h-1zM508 744h1v2h-1zM509 746h1v4h-1zM510 750h1v3h-1zM511 753h1v4h-1zM512 757h1v2h-1zM513 758h1v1h-1zM514 759h1v1h-1zM515 759h1v1h-1zM516 759h1v1h-1zM517 760h1v1h-1zM518 761h1v1h-1zM519 762h1v1h-1zM520 763h1v1h-1zM521 762h1v1h-1zM522 761h1v1h-1zM523 761h1v1h-1zM524 760h1v1h-1zM525 759h1v1h-1zM526 758h1v1h-1zM527 758h1v1h-1zM528 757h1v1h-1zM529 756h1v1h-1zM530 756h1v1h-1zM531 755h1v1h-1zM532 754h1v2h-1zM533 750h1v4h-1zM534 747h1v3h-1zM535 743h1v4h-1zM536 740h1v3h-1zM537 737h1v3h-1zM538 734h1v3h-1zM539 731h1v3h-1zM540 729h1v2h-1zM541 730h1v1h-1zM542 731h1v2h-1zM543 733h1v1h-1zM544 734h1v1h-1zM545 734h1v1h-1zM546 733h1v1h-1zM547 733h1v1h-1zM548 733h1v1h-1zM549 732h1v1h-1zM550 731h1v1h-1zM551 731h1v1h-1zM552 730h1v1h-1zM553 731h1v2h-1zM554 733h1v2h-1zM555 735h1v2h-1zM556 737h1v1h-1zM557 736h1v1h-1zM558 736h1v1h-1zM559 735h1v1h-1zM560 735h1v1h-1zM561 734h1v1h-1zM562 733h1v1h-1zM563 733h1v1h-1zM564 732h1v1h-1zM565 733h1v1h-1zM566 734h1v1h-1zM567 734h1v1h-1zM568 735h1v1h-1zM569 736h1v1h-1zM570 737h1v1h-1zM571 738h1v1h-1zM572 739h1v1h-1zM573 740h1v1h-1zM574 740h1v1h-1zM575 741h1v1h-1zM576 741h1v1h-1zM577 742h1v1h-1zM578 742h1v1h-1zM579 743h1v1h-1zM580 743h1v1h-1zM581 744h1v1h-1zM582 745h1v2h-1zM583 747h1v1h-1zM584 748h1v1h-1zM585 746h1v2h-1zM586 744h1v2h-1zM587 742h1v2h-1zM588 741h1v2h-1zM589 743h1v2h-1zM590 745h1v2h-1zM591 747h1v2h-1zM592 749h1v2h-1zM593 750h1v1h-1zM594 751h1v1h-1zM595 751h1v1h-1zM596 750h1v2h-1zM597 748h1v2h-1zM598 746h1v2h-1zM599 744h1v2h-1zM600 742h1v2h-1zM601 743h1v1h-1zM602 743h1v1h-1zM603 744h1v1h-1zM604 744h1v1h-1zM605 745h1v1h-1zM606 746h1v1h-1zM607 746h1v1h-1zM608 747h1v1h-1zM609 745h1v2h-1zM610 744h1v1h-1zM611 742h1v2h-1zM612 740h1v2h-1zM613 736h1v4h-1zM614 733h1v3h-1zM615 729h1v4h-1zM616 727h1v2h-1zM617 728h1v1h-1zM618 728h1v1h-1zM619 729h1v1h-1zM620 729h1v1h-1zM621 728h1v1h-1zM622 727h1v1h-1zM623 727h1v1h-1zM624 726h1v1h-1zM625 725h1v1h-1zM626 723h1v2h-1zM627 722h1v1h-1zM628 721h1v1h-1zM629 719h1v2h-1zM630 717h1v2h-1zM631 715h1v2h-1zM632 714h1v1h-1zM633 714h1v1h-1zM634 714h1v1h-1zM635 714h1v1h-1zM636 714h1v1h-1zM637 715h1v2h-1zM638 717h1v1h-1zM639 718h1v2h-1zM640 720h1v1h-1zM641 720h1v1h-1zM642 719h1v1h-1zM643 719h1v1h-1zM644 719h1v1h-1zM645 720h1v1h-1zM646 721h1v2h-1zM647 723h1v1h-1zM648 724h1v1h-1zM649 725h1v1h-1zM650 726h1v1h-1zM651 727h1v1h-1zM652 728h1v1h-1zM653 729h1v2h-1zM654 731h1v2h-1zM655 733h1v2h-1zM656 735h1v2h-1zM657 735h1v1h-1zM658 734h1v1h-1zM659 734h1v1h-1zM660 733h1v1h-1zM661 732h1v1h-1zM662 731h1v1h-1zM663 731h1v1h-1zM664 730h1v1h-1zM665 731h1v1h-1zM666 731h1v1h-1zM667 732h1v1h-1zM668 732h1v1h-1zM669 732h1v1h-1zM670 732h1v1h-1zM671 732h1v1h-1zM672 732h1v2h-1zM673 734h1v2h-1zM674 736h1v2h-1zM675 738h1v2h-1zM676 740h1v2h-1zM677 741h1v1h-1zM678 740h1v1h-1zM679 740h1v1h-1zM680 739h1v2h-1zM681 736h1v3h-1zM682 734h1v2h-1zM683 731h1v3h-1zM684 729h1v2h-1zM685 727h1v2h-1zM686 726h1v1h-1zM687 724h1v2h-1zM688 723h1v1h-1zM689 723h1v1h-1zM690 723h1v1h-1zM691 723h1v1h-1zM692 723h1v1h-1zM693 724h1v1h-1zM694 725h1v1h-1zM695 726h1v1h-1zM696 727h1v1h-1zM697 728h1v1h-1zM698 728h1v1h-1zM699 729h1v1h-1zM700 729h1v1h-1zM701 728h1v1h-1zM702 727h1v1h-1zM703 726h1v1h-1zM704 725h1v1h-1zM705 724h1v1h-1zM706 724h1v1h-1zM707 723h1v1h-1zM708 723h1v2h-1zM709 725h1v3h-1zM710 728h1v3h-1zM711 731h1v3h-1zM712 734h1v2h-1zM713 735h1v1h-1zM714 736h1v1h-1zM715 736h1v1h-1zM716 736h1v1h-1zM717 737h1v1h-1zM718 738h1v2h-1zM719 740h1v1h-1zM720 741h1v1h-1zM721 740h1v1h-1zM722 739h1v1h-1zM723 738h1v1h-1zM724 737h1v1h-1zM725 737h1v1h-1zM726 736h1v1h-1zM727 736h1v1h-1zM728 736h1v1h-1zM729 735h1v1h-1zM730 734h1v1h-1zM731 734h1v1h-1zM732 733h1v1h-1zM733 732h1v1h-1zM734 731h1v1h-1zM735 731h1v1h-1zM736 730h1v1h-1zM737 731h1v1h-1zM738 732h1v1h-1zM739 732h1v1h-1zM740 733h1v2h-1zM741 735h1v2h-1zM742 737h1v2h-1zM743 739h1v2h-1zM744 741h1v2h-1zM745 741h1v1h-1zM746 740h1v1h-1zM747 740h1v1h-1zM748 739h1v1h-1zM749 740h1v1h-1zM750 740h1v1h-1zM751 741h1v1h-1zM752 740h1v2h-1zM753 738h1v2h-1zM754 736h1v2h-1zM755 734h1v2h-1zM756 732h1v2h-1zM757 733h1v2h-1zM758 735h1v2h-1zM759 737h1v2h-1zM760 739h1v1h-1zM761 739h1v1h-1zM762 738h1v1h-1zM763 738h1v1h-1zM764 738h1v1h-1zM765 737h1v1h-1zM766 735h1v2h-1zM767 734h1v1h-1zM768 733h1v1h-1zM769 733h1v1h-1zM770 734h1v1h-1zM771 734h1v1h-1zM772 734h1v1h-1zM773 735h1v1h-1zM774 735h1v1h-1zM775 736h1v1h-1zM776 736h1v1h-1zM777 735h1v1h-1zM778 734h1v1h-1zM779 734h1v1h-1zM780 733h1v1h-1zM781 732h1v1h-1zM782 732h1v1h-1zM783 731h1v1h-1zM784 731h1v1h-1zM785 732h1v2h-1zM786 734h1v1h-1zM787 735h1v2h-1zM788 736h1v2h-1zM789 733h1v3h-1zM790 730h1v3h-1zM791 727h1v3h-1zM792 725h1v2h-1zM793 723h1v2h-1zM794 721h1v2h-1zM795 719h1v2h-1zM796 717h1v2h-1zM797 718h1v1h-1zM798 719h1v1h-1zM799 719h1v1h-1zM800 720h1v1h-1zM801 721h1v1h-1zM802 722h1v1h-1zM803 722h1v1h-1zM804 723h1v1h-1zM805 723h1v1h-1zM806 723h1v1h-1zM807 723h1v1h-1zM808 723h1v1h-1zM809 724h1v1h-1zM810 725h1v1h-1zM811 725h1v1h-1zM812 726h1v2h-1zM813 728h1v3h-1zM814 731h1v2h-1zM815 733h1v3h-1zM816 736h1v2h-1zM817 735h1v2h-1zM818 733h1v2h-1zM819 731h1v2h-1zM820 729h1v2h-1zM821 728h1v1h-1zM822 727h1v1h-1zM823 726h1v1h-1zM824 725h1v1h-1zM825 726h1v2h-1zM826 728h1v2h-1zM827 730h1v2h-1zM828 732h1v2h-1zM829 731h1v2h-1zM830 730h1v1h-1zM831 728h1v2h-1zM832 727h1v1h-1zM833 728h1v1h-1zM834 729h1v1h-1zM835 730h1v1h-1zM836 731h1v1h-1zM837 730h1v1h-1zM838 729h1v1h-1zM839 729h1v1h-1zM840 728h1v1h-1zM841 728h1v1h-1zM842 727h1v1h-1zM843 727h1v1h-1zM844 727h1v1h-1zM845 728h1v1h-1zM846 728h1v1h-1zM847 729h1v1h-1zM848 729h1v1h-1zM849 730h1v2h-1zM850 732h1v2h-1zM851 734h1v2h-1zM852 736h1v1h-1zM853 735h1v1h-1zM854 734h1v1h-1zM855 734h1v1h-1zM856 733h1v1h-1zM857 732h1v1h-1zM858 730h1v2h-1zM859 729h1v1h-1zM860 728h1v1h-1zM861 729h1v1h-1zM862 730h1v1h-1zM863 730h1v1h-1zM864 731h1v1h-1zM865 732h1v1h-1zM866 733h1v1h-1zM867 733h1v1h-1zM868 734h1v1h-1zM869 733h1v1h-1zM870 732h1v1h-1zM871 732h1v1h-1zM872 731h1v1h-1zM873 732h1v1h-1zM874 733h1v1h-1zM875 734h1v1h-1zM876 735h1v1h-1zM877 735h1v1h-1zM878 734h1v1h-1zM879 734h1v1h-1zM880 734h1v1h-1zM881 735h1v1h-1zM882 736h1v1h-1zM883 737h1v1h-1zM884 738h1v1h-1zM885 739h1v1h-1zM886 740h1v2h-1zM887 742h1v1h-1zM888 743h1v1h-1zM889 741h1v2h-1zM890 739h1v2h-1zM891 737h1v2h-1zM892 736h1v1h-1zM893 734h1v2h-1zM894 732h1v2h-1zM895 730h1v2h-1zM896 729h1v1h-1zM897 730h1v1h-1zM898 731h1v2h-1zM899 733h1v1h-1zM900 734h1v1h-1zM901 734h1v1h-1zM902 735h1v1h-1zM903 735h1v1h-1zM904 735h1v1h-1zM905 736h1v1h-1zM906 736h1v1h-1zM907 737h1v1h-1zM908 736h1v2h-1zM909 734h1v2h-1zM910 731h1v3h-1zM911 729h1v2h-1zM912 727h1v2h-1zM913 726h1v1h-1zM914 725h1v1h-1zM915 724h1v1h-1zM916 723h1v1h-1zM917 722h1v1h-1zM918 722h1v1h-1zM919 721h1v1h-1zM920 721h1v1h-1zM921 722h1v1h-1zM922 723h1v1h-1zM923 723h1v1h-1zM924 724h1v1h-1zM925 724h1v1h-1zM926 724h1v1h-1zM927 724h1v1h-1zM928 724h1v2h-1zM929 726h1v4h-1zM930 730h1v4h-1zM931 734h1v4h-1zM932 738h1v3h-1zM933 741h1v2h-1zM934 743h1v2h-1zM935 745h1v2h-1zM936 747h1v2h-1zM937 746h1v2h-1zM938 745h1v1h-1zM939 743h1v2h-1zM940 742h1v2h-1zM941 744h1v2h-1zM942 746h1v2h-1zM943 748h1v2h-1zM944 750h1v2h-1zM945 752h1v2h-1zM946 754h1v2h-1zM947 756h1v2h-1zM948 758h1v2h-1zM949 759h1v1h-1zM950 759h1v1h-1zM951 759h1v1h-1zM952 759h1v1h-1zM953 759h1v1h-1zM954 760h1v1h-1zM955 760h1v1h-1zM956 760h1v1h-1zM957 759h1v1h-1zM958 758h1v1h-1zM959 757h1v1h-1zM960 755h1v2h-1zM961 753h1v2h-1zM962 750h1v3h-1zM963 748h1v2h-1zM964 746h1v2h-1zM965 746h1v1h-1zM966 747h1v1h-1zM967 747h1v1h-1zM968 746h1v2h-1zM969 742h1v4h-1zM970 739h1v3h-1zM971 735h1v4h-1zM972 733h1v2h-1zM973 733h1v1h-1zM974 733h1v1h-1zM975 733h1v1h-1zM976 733h1v1h-1zM977 733h1v1h-1zM978 732h1v1h-1zM979 732h1v1h-1zM980 732h1v1h-1zM981 733h1v2h-1zM982 735h1v2h-1zM983 737h1v2h-1zM984 739h1v3h-1zM985 742h1v3h-1zM986 745h1v3h-1zM987 748h1v3h-1zM988 751h1v2h-1zM989 753h1v2h-1zM990 755h1v2h-1zM991 757h1v2h-1zM992 759h1v2h-1zM993 759h1v1h-1zM994 757h1v2h-1zM995 756h1v1h-1zM996 755h1v1h-1zM997 755h1v1h-1zM998 756h1v1h-1zM999 756h1v1h-1zM1000 756h1v1h-1zM1001 756h1v1h-1zM1002 757h1v1h-1zM1003 757h1v1h-1zM1004 757h1v1h-1zM1005 758h1v1h-1zM1006 758h1v1h-1zM1007 759h1v1h-1zM1008 759h1v1h-1zM1009 760h1v1h-1zM1010 761h1v1h-1zM1011 761h1v1h-1zM1012 762h1v1h-1zM1013 763h1v1h-1zM1014 763h1v1h-1zM1015 764h1v1h-1zM1016 764h1v1h-1zM1017 765h1v1h-1zM1018 765h1v1h-1zM1019 766h1v1h-1zM1020 766h1v1h-1zM1021 765h1v1h-1zM1022 765h1v1h-1zM1023 764h1v1h-1zM1024 763h1v2h-1zM1025 761h1v2h-1zM1026 759h1v2h-1zM1027 757h1v2h-1zM1028 755h1v2h-1zM1029 756h1v1h-1zM1030 757h1v1h-1zM1031 757h1v1h-1zM1032 758h1v1h-1zM1033 759h1v1h-1zM1034 760h1v1h-1zM1035 761h1v1h-1zM1036 762h1v1h-1zM1037 762h1v1h-1zM1038 763h1v1h-1zM1039 763h1v1h-1zM1040 763h1v1h-1zM1041 761h1v2h-1zM1042 759h1v2h-1zM1043 757h1v2h-1zM1044 755h1v2h-1zM1045 755h1v1h-1zM1046 756h1v1h-1zM1047 756h1v1h-1zM1048 756h1v1h-1zM1049 755h1v1h-1zM1050 753h1v2h-1zM1051 752h1v1h-1zM1052 751h1v1h-1zM1053 750h1v1h-1zM1054 749h1v1h-1zM1055 748h1v1h-1zM1056 747h1v1h-1zM1057 748h1v2h-1zM1058 750h1v1h-1zM1059 751h1v2h-1zM1060 753h1v1h-1zM1061 753h1v1h-1zM1062 754h1v1h-1zM1063 754h1v1h-1zM1064 754h1v1h-1zM1065 755h1v1h-1zM1066 756h1v1h-1zM1067 757h1v1h-1zM1068 758h1v1h-1zM1069 758h1v1h-1zM1070 757h1v1h-1zM1071 757h1v1h-1zM1072 757h1v1h-1zM1073 756h1v1h-1zM1074 755h1v1h-1zM1075 755h1v1h-1zM1076 754h1v1h-1zM1077 752h1v2h-1zM1078 750h1v2h-1zM1079 748h1v2h-1zM1080 747h1v1h-1zM1081 748h1v1h-1zM1082 749h1v1h-1zM1083 750h1v1h-1zM1084 751h1v1h-1zM1085 752h1v1h-1zM1086 753h1v1h-1zM1087 753h1v1h-1zM1088 754h1v1h-1zM1089 753h1v1h-1zM1090 751h1v2h-1zM1091 750h1v1h-1zM1092 749h1v1h-1zM1093 749h1v1h-1zM1094 748h1v1h-1zM1095 748h1v1h-1zM1096 747h1v2h-1zM1097 743h1v4h-1zM1098 740h1v3h-1zM1099 736h1v4h-1zM1100 734h1v2h-1zM1101 734h1v1h-1zM1102 733h1v1h-1zM1103 733h1v1h-1zM1104 733h1v1h-1zM1105 733h1v1h-1zM1106 732h1v1h-1zM1107 732h1v1h-1zM1108 732h1v1h-1zM1109 731h1v1h-1zM1110 730h1v1h-1zM1111 730h1v1h-1zM1112 729h1v1h-1zM1113 728h1v1h-1zM1114 728h1v1h-1zM1115 727h1v1h-1zM1116 727h1v1h-1zM1117 727h1v1h-1zM1118 728h1v1h-1zM1119 728h1v1h-1zM1120 728h1v1h-1zM1121 728h1v1h-1zM1122 729h1v1h-1zM1123 729h1v1h-1zM1124 729h1v1h-1zM1125 729h1v1h-1zM1126 728h1v1h-1zM1127 728h1v1h-1zM1128 728h1v1h-1z" fill="#1e90ff" shape-rendering="crispEdges"/>
<polygon points="1130,26 1139,26 1134.5,31" fill="#c0c0c0"/>
<text x="1425" y="37" font-size="10" textLength="33.26" lengthAdjust="spacingAndGlyphs" fill="#000" stroke="#000" stroke-width="0.15" text-anchor="start" >1.36980</text>
<text x="1425" y="70" font-size="10" textLength="33.26" lengthAdjust="spacingAndGlyphs" fill="#000" stroke="#000" stroke-width="0.15" text-anchor="start" >1.36395</text>
<text x="1425" y="103" font-size="10" textLength="33.26" lengthAdjust="spacingAndGlyphs" fill="#000" stroke="#000" stroke-width="0.15" text-anchor="start" >1.35810</text>
<text x="1425" y="136" font-size="10" textLength="33.26" lengthAdjust="spacingAndGlyphs" fill="#000" stroke="#000" stroke-width="0.15" text-anchor="start" >1.35225</text>
<text x="1425" y="169" font-size="10" textLength="33.26" lengthAdjust="spacingAndGlyphs" fill="#000" stroke="#000" stroke-width="0.15" text-anchor="start" >1.34640</text>
<text x="1425" y="202" font-size="10" textLength="33.26" lengthAdjust="spacingAndGlyphs" fill="#000" stroke="#000" stroke-width="0.15" text-anchor="start" >1.34055</text>
<text x="1425" y="235" font-size="10" textLength="33.26" lengthAdjust="spacingAndGlyphs" fill="#000" stroke="#000" stroke-width="0.15" text-anchor="start" >1.33470</text>
<text x="1425" y="268" font-size="10" textLength="33.26" lengthAdjust="spacingAndGlyphs" fill="#000" stroke="#000" stroke-width="0.15" text-anchor="start" >1.32885</text>
<text x="1425" y="301" font-size="10" textLength="33.26" lengthAdjust="spacingAndGlyphs" fill="#000" stroke="#000" stroke-width="0.15" text-anchor="start" >1.32300</text>
<text x="1425" y="334" font-size="10" textLength="33.26" lengthAdjust="spacingAndGlyphs" fill="#000" stroke="#000" stroke-width="0.15" text-anchor="start" >1.31715</text>
<text x="1425" y="367" font-size="10" textLength="32.57" lengthAdjust="spacingAndGlyphs" fill="#000" stroke="#000" stroke-width="0.15" text-anchor="start" >1.31130</text>
<text x="1425" y="400" font-size="10" textLength="33.26" lengthAdjust="spacingAndGlyphs" fill="#000" stroke="#000" stroke-width="0.15" text-anchor="start" >1.30545</text>
<text x="1425" y="433" font-size="10" textLength="33.26" lengthAdjust="spacingAndGlyphs" fill="#000" stroke="#000" stroke-width="0.15" text-anchor="start" >1.29960</text>
<text x="1425" y="466" font-size="10" textLength="33.26" lengthAdjust="spacingAndGlyphs" fill="#000" stroke="#000" stroke-width="0.15" text-anchor="start" >1.29390</text>
<text x="1425" y="499" font-size="10" textLength="33.26" lengthAdjust="spacingAndGlyphs" fill="#000" stroke="#000" stroke-width="0.15" text-anchor="start" >1.28805</text>
<text x="1425" y="532" font-size="10" textLength="33.26" lengthAdjust="spacingAndGlyphs" fill="#000" stroke="#000" stroke-width="0.15" text-anchor="start" >1.28220</text>
<text x="1425" y="565" font-size="10" textLength="33.26" lengthAdjust="spacingAndGlyphs" fill="#000" stroke="#000" stroke-width="0.15" text-anchor="start" >1.27635</text>
<rect x="1421" y="184" width="41" height="11" fill="#ff0000"/>
<text x="1425" y="193" font-size="10" textLength="33.26" lengthAdjust="spacingAndGlyphs" fill="#fff" stroke="#fff" stroke-width="0.15" text-anchor="start" >1.34206</text>
<rect x="1421" y="269" width="41" height="11" fill="#ff0000"/>
<text x="1425" y="278" font-size="10" textLength="33.26" lengthAdjust="spacingAndGlyphs" fill="#fff" stroke="#fff" stroke-width="0.15" text-anchor="start" >1.32701</text>
<rect x="1421" y="319" width="41" height="11" fill="#00ff00"/>
<text x="1425" y="328" font-size="10" textLength="33.26" lengthAdjust="spacingAndGlyphs" fill="#fff" stroke="#fff" stroke-width="0.15" text-anchor="start" >1.31801</text>
<rect x="1421" y="329.5" width="41" height="8.5" fill="#000000"/>
<text x="1425" y="336.0" font-size="10" textLength="33.26" lengthAdjust="spacingAndGlyphs" fill="#fff" stroke="#fff" stroke-width="0.15" text-anchor="start" >1.31691</text>
<rect x="1421" y="422" width="41" height="10" fill="#0000ff"/>
<text x="1425" y="430" font-size="10" textLength="33.26" lengthAdjust="spacingAndGlyphs" fill="#fff" stroke="#fff" stroke-width="0.15" text-anchor="start" >1.30004</text>
<text x="1423" y="577" font-size="10" textLength="37.69" lengthAdjust="spacingAndGlyphs" fill="#000" stroke="#000" stroke-width="0.15" text-anchor="start" >0.010311</text>
<text x="1423" y="625" font-size="10" textLength="17.91" lengthAdjust="spacingAndGlyphs" fill="#000" stroke="#000" stroke-width="0.15" text-anchor="start" >0.00</text>
<text x="1423" y="667" font-size="10" textLength="41.44" lengthAdjust="spacingAndGlyphs" fill="#000" stroke="#000" stroke-width="0.15" text-anchor="start" >-0.009203</text>
<text x="1423" y="682" font-size="10" textLength="15.35" lengthAdjust="spacingAndGlyphs" fill="#000" stroke="#000" stroke-width="0.15" text-anchor="start" >100</text>
<text x="1423" y="715" font-size="10" textLength="10.23" lengthAdjust="spacingAndGlyphs" fill="#000" stroke="#000" stroke-width="0.15" text-anchor="start" >70</text>
<text x="1423" y="766" font-size="10" textLength="10.23" lengthAdjust="spacingAndGlyphs" fill="#000" stroke="#000" stroke-width="0.15" text-anchor="start" >30</text>
<text x="1423" y="798" font-size="10" textLength="5.12" lengthAdjust="spacingAndGlyphs" fill="#000" stroke="#000" stroke-width="0.15" text-anchor="start" >0</text>
<text x="8" y="579" font-size="10" textLength="148.84" lengthAdjust="spacingAndGlyphs" fill="#000" stroke="#000" stroke-width="0.15" text-anchor="start" >MACD(12,26,9) 0.000129 -0.002000</text>
<text x="8" y="684" font-size="10" textLength="67.51" lengthAdjust="spacingAndGlyphs" fill="#000" stroke="#000" stroke-width="0.15" text-anchor="start" >RSI(14) 56.3425</text>
<text x="3" y="814" font-size="10" textLength="47.07" lengthAdjust="spacingAndGlyphs" fill="#000" stroke="#000" stroke-width="0.15" text-anchor="start" >4 Sep 2018</text>
<text x="67" y="814" font-size="10" textLength="52.18" lengthAdjust="spacingAndGlyphs" fill="#000" stroke="#000" stroke-width="0.15" text-anchor="start" >23 Sep 2018</text>
<text x="131" y="814" font-size="10" textLength="49.44" lengthAdjust="spacingAndGlyphs" fill="#000" stroke="#000" stroke-width="0.15" text-anchor="start" >11 Oct 2018</text>
<text x="195" y="814" font-size="10" textLength="50.12" lengthAdjust="spacingAndGlyphs" fill="#000" stroke="#000" stroke-width="0.15" text-anchor="start" >30 Oct 2018</text>
<text x="259" y="814" font-size="10" textLength="52.17" lengthAdjust="spacingAndGlyphs" fill="#000" stroke="#000" stroke-width="0.15" text-anchor="start" >18 Nov 2018</text>
<text x="323" y="814" font-size="10" textLength="47.06" lengthAdjust="spacingAndGlyphs" fill="#000" stroke="#000" stroke-width="0.15" text-anchor="start" >6 Dec 2018</text>
<text x="387" y="814" font-size="10" textLength="52.17" lengthAdjust="spacingAndGlyphs" fill="#000" stroke="#000" stroke-width="0.15" text-anchor="start" >25 Dec 2018</text>
<text x="451" y="814" font-size="10" textLength="50.65" lengthAdjust="spacingAndGlyphs" fill="#000" stroke="#000" stroke-width="0.15" text-anchor="start" >13 Jan 2019</text>
<text x="515" y="814" font-size="10" textLength="50.65" lengthAdjust="spacingAndGlyphs" fill="#000" stroke="#000" stroke-width="0.15" text-anchor="start" >31 Jan 2019</text>
<text x="579" y="814" font-size="10" textLength="51.67" lengthAdjust="spacingAndGlyphs" fill="#000" stroke="#000" stroke-width="0.15" text-anchor="start" >19 Feb 2019</text>
<text x="643" y="814" font-size="10" textLength="51.66" lengthAdjust="spacingAndGlyphs" fill="#000" stroke="#000" stroke-width="0.15" text-anchor="start" >10 Mar 2019</text>
<text x="707" y="814" font-size="10" textLength="51.66" lengthAdjust="spacingAndGlyphs" fill="#000" stroke="#000" stroke-width="0.15" text-anchor="start" >28 Mar 2019</text>
<text x="771" y="814" font-size="10" textLength="49.62" lengthAdjust="spacingAndGlyphs" fill="#000" stroke="#000" stroke-width="0.15" text-anchor="start" >16 Apr 2019</text>
<text x="835" y="814" font-size="10" textLength="48.08" lengthAdjust="spacingAndGlyphs" fill="#000" stroke="#000" stroke-width="0.15" text-anchor="start" >6 May 2019</text>
<text x="899" y="814" font-size="10" textLength="53.19" lengthAdjust="spacingAndGlyphs" fill="#000" stroke="#000" stroke-width="0.15" text-anchor="start" >24 May 2019</text>
<text x="963" y="814" font-size="10" textLength="50.65" lengthAdjust="spacingAndGlyphs" fill="#000" stroke="#000" stroke-width="0.15" text-anchor="start" >12 Jun 2019</text>
<text x="1027" y="814" font-size="10" textLength="42.46" lengthAdjust="spacingAndGlyphs" fill="#000" stroke="#000" stroke-width="0.15" text-anchor="start" >1 Jul 2019</text>
<text x="1091" y="814" font-size="10" textLength="47.57" lengthAdjust="spacingAndGlyphs" fill="#000" stroke="#000" stroke-width="0.15" text-anchor="start" >19 Jul 2019</text>
<polygon points="7,36 14,36 10.5,32" fill="#000"/>
<text x="19.5" y="37" font-size="10" textLength="68.45" lengthAdjust="spacingAndGlyphs" fill="#000" stroke="#000" stroke-width="0.15" text-anchor="start" >USDCAD-,Daily</text>
<text x="94" y="37" font-size="10" textLength="140.69" lengthAdjust="spacingAndGlyphs" fill="#000" stroke="#000" stroke-width="0.15" text-anchor="start" >1.31648 1.31720 1.31610 1.31691</text>
<path d="M7.5,45.5 H58.5 V69.5 H115.5 V108.5 H7.5 Z" fill="url(#gbox)" stroke="#a30000" stroke-width="1"/>
<path d="M8,46 H58 V68.5 H8 Z" fill="url(#gtab)"/>
<rect x="11" y="68" width="44" height="1" fill="#8a0000"/>
<rect x="11" y="69" width="44" height="1" fill="#f07070"/>
<path d="M118.5,69.5 H174.5 V45.5 H225.5 V108.5 H118.5 Z" fill="url(#gbox)" stroke="#a30000" stroke-width="1"/>
<path d="M175,46 H225 V68.5 H175 Z" fill="url(#gtab)"/>
<rect x="178" y="68" width="44" height="1" fill="#8a0000"/>
<rect x="178" y="69" width="44" height="1" fill="#f07070"/>
<rect x="61.5" y="45.5" width="110" height="21" fill="#fff" stroke="#a8a8a8"/>
<rect x="62" y="46" width="20" height="20" fill="url(#gbtn)" stroke="#bdbdbd" stroke-width="1"/>
<rect x="150" y="46" width="21" height="20" fill="url(#gbtn)" stroke="#bdbdbd" stroke-width="1"/>
<polygon points="69,54.5 75,54.5 72,57.5" fill="#5868c8"/>
<polygon points="158,57.5 164,57.5 161,54.5" fill="#5868c8"/>
<text x="146.5" y="60" font-size="12" textLength="22.66" lengthAdjust="spacingAndGlyphs" fill="#000" text-anchor="end" >1.00</text>
<text x="19.5" y="61" font-size="12" textLength="25.25" lengthAdjust="spacingAndGlyphs" fill="#fff" text-anchor="start" >SELL</text>
<text x="187.5" y="61" font-size="12" textLength="23.93" lengthAdjust="spacingAndGlyphs" fill="#fff" text-anchor="start" >BUY</text>
<text x="27.5" y="100" font-size="12" textLength="24.29" lengthAdjust="spacingAndGlyphs" fill="#fff" font-weight="bold" text-anchor="start" >1.31</text>
<text x="137.5" y="100" font-size="12" textLength="24.29" lengthAdjust="spacingAndGlyphs" fill="#fff" font-weight="bold" text-anchor="start" >1.31</text>
<text x="54.5" y="100" font-size="34" textLength="35.55" lengthAdjust="spacingAndGlyphs" fill="#fff" text-anchor="start" >69</text>
<text x="165" y="100" font-size="34" textLength="35.55" lengthAdjust="spacingAndGlyphs" fill="#fff" text-anchor="start" >71</text>
<text x="94" y="84" font-size="12" textLength="6.67" lengthAdjust="spacingAndGlyphs" fill="#fff" font-weight="bold" text-anchor="start" >1</text>
<text x="205" y="84" font-size="12" textLength="6.67" lengthAdjust="spacingAndGlyphs" fill="#fff" font-weight="bold" text-anchor="start" >3</text>
<rect x="0" y="822" width="1463" height="1" fill="#e3e3e3"/>
<rect x="0" y="823" width="1463" height="1" fill="#f8f8f8"/>
<rect x="0" y="824" width="1463" height="1" fill="#000"/>
<rect x="0" y="825" width="1463" height="19" fill="#f0f0f0"/>
<rect x="0" y="825" width="1" height="19" fill="#696969"/>
<rect x="330" y="824" width="107" height="18" fill="#ffffff"/>
<rect x="329" y="825" width="1" height="18" fill="#000"/>
<rect x="436" y="825" width="1" height="18" fill="#000"/>
<rect x="329" y="842" width="108" height="1" fill="#000"/>
<rect x="113" y="827" width="1" height="14" fill="#6e6e6e"/>
<rect x="221" y="827" width="1" height="14" fill="#6e6e6e"/>
<rect x="550" y="827" width="1" height="14" fill="#6e6e6e"/>
<rect x="670" y="827" width="1" height="14" fill="#6e6e6e"/>
<rect x="794" y="827" width="1" height="14" fill="#6e6e6e"/>
<rect x="890" y="827" width="1" height="14" fill="#6e6e6e"/>
<rect x="970" y="827" width="1" height="14" fill="#6e6e6e"/>
<rect x="1074" y="827" width="1" height="14" fill="#6e6e6e"/>
<text x="16.5" y="839" font-size="12" textLength="84.68" lengthAdjust="spacingAndGlyphs" fill="#5f5f5f" text-anchor="start" >EURUSD-,Daily</text>
<text x="123" y="839" font-size="12" textLength="84.68" lengthAdjust="spacingAndGlyphs" fill="#5f5f5f" text-anchor="start" >AUDUSD-,Daily</text>
<text x="233" y="839" font-size="12" textLength="84.00" lengthAdjust="spacingAndGlyphs" fill="#5f5f5f" text-anchor="start" >USDCHF-,Daily</text>
<text x="341" y="839" font-size="12" textLength="84.68" lengthAdjust="spacingAndGlyphs" fill="#000" text-anchor="start" >USDCAD-,Daily</text>
<text x="450" y="839" font-size="12" textLength="85.34" lengthAdjust="spacingAndGlyphs" fill="#5f5f5f" text-anchor="start" >USDCNH-,Daily</text>
<text x="560" y="839" font-size="12" textLength="96.45" lengthAdjust="spacingAndGlyphs" fill="#5f5f5f" text-anchor="start" >EURCHF-,Weekly</text>
<text x="681" y="839" font-size="12" textLength="96.47" lengthAdjust="spacingAndGlyphs" fill="#5f5f5f" text-anchor="start" >XAUUSD-,Weekly</text>
<text x="804.5" y="839" font-size="12" textLength="73.35" lengthAdjust="spacingAndGlyphs" fill="#5f5f5f" text-anchor="start" >GBPUSD-,H1</text>
<text x="901" y="839" font-size="12" textLength="54.01" lengthAdjust="spacingAndGlyphs" fill="#5f5f5f" text-anchor="start" >UKOil-,H1</text>
<text x="979.5" y="839" font-size="12" textLength="79.80" lengthAdjust="spacingAndGlyphs" fill="#5f5f5f" text-anchor="start" >USDX-,Weekly</text>
<polygon points="1438.5,829.5 1438.5,836.5 1435,833" fill="#8a8a8a"/>
<polygon points="1453.5,829.5 1453.5,836.5 1457,833" fill="#8a8a8a"/>
</svg></body></html>
